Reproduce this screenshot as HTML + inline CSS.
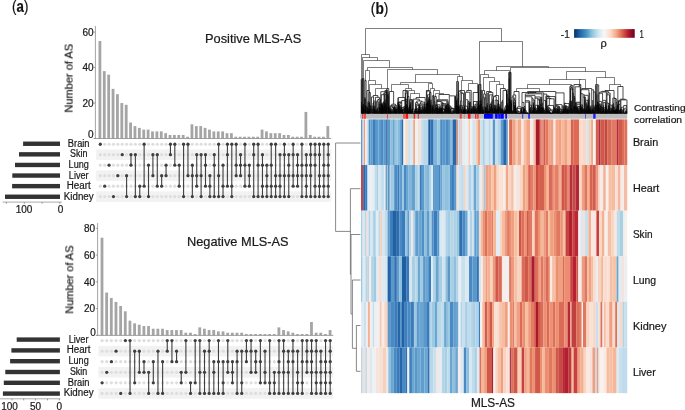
<!DOCTYPE html>
<html><head><meta charset="utf-8"><style>
html,body{margin:0;padding:0;background:#fff;}
svg{display:block;font-family:"Liberation Sans", sans-serif;}
text{will-change:transform;stroke:#1a1a1a;stroke-width:0.22px;}
</style></head><body>
<svg width="685" height="410" viewBox="0 0 685 410" font-family='"Liberation Sans", sans-serif'>
<rect width="685" height="410" fill="#fff"/>
<rect x="96.20" y="149.48" width="235.10" height="10.47" fill="#f2f2f2"/>
<rect x="96.20" y="170.42" width="235.10" height="10.47" fill="#f2f2f2"/>
<rect x="96.20" y="191.36" width="235.10" height="10.47" fill="#f2f2f2"/>
<rect x="98.50" y="40.98" width="2.80" height="97.52" fill="#a5a5a5"/>
<rect x="102.88" y="71.13" width="2.80" height="67.37" fill="#a5a5a5"/>
<rect x="107.27" y="74.67" width="2.80" height="63.83" fill="#a5a5a5"/>
<rect x="111.65" y="88.86" width="2.80" height="49.64" fill="#a5a5a5"/>
<rect x="116.03" y="94.18" width="2.80" height="44.32" fill="#a5a5a5"/>
<rect x="120.41" y="103.04" width="2.80" height="35.46" fill="#a5a5a5"/>
<rect x="124.80" y="104.81" width="2.80" height="33.69" fill="#a5a5a5"/>
<rect x="129.18" y="122.54" width="2.80" height="15.96" fill="#a5a5a5"/>
<rect x="133.56" y="126.09" width="2.80" height="12.41" fill="#a5a5a5"/>
<rect x="137.95" y="127.86" width="2.80" height="10.64" fill="#a5a5a5"/>
<rect x="142.33" y="129.63" width="2.80" height="8.87" fill="#a5a5a5"/>
<rect x="146.71" y="129.63" width="2.80" height="8.87" fill="#a5a5a5"/>
<rect x="151.10" y="131.41" width="2.80" height="7.09" fill="#a5a5a5"/>
<rect x="155.48" y="131.41" width="2.80" height="7.09" fill="#a5a5a5"/>
<rect x="159.86" y="131.41" width="2.80" height="7.09" fill="#a5a5a5"/>
<rect x="164.25" y="133.18" width="2.80" height="5.32" fill="#a5a5a5"/>
<rect x="168.63" y="134.95" width="2.80" height="3.55" fill="#a5a5a5"/>
<rect x="173.01" y="134.95" width="2.80" height="3.55" fill="#a5a5a5"/>
<rect x="177.39" y="134.95" width="2.80" height="3.55" fill="#a5a5a5"/>
<rect x="181.78" y="134.95" width="2.80" height="3.55" fill="#a5a5a5"/>
<rect x="186.16" y="136.73" width="2.80" height="1.77" fill="#a5a5a5"/>
<rect x="190.54" y="124.32" width="2.80" height="14.18" fill="#a5a5a5"/>
<rect x="194.93" y="126.09" width="2.80" height="12.41" fill="#a5a5a5"/>
<rect x="199.31" y="126.09" width="2.80" height="12.41" fill="#a5a5a5"/>
<rect x="203.69" y="127.86" width="2.80" height="10.64" fill="#a5a5a5"/>
<rect x="208.07" y="129.63" width="2.80" height="8.87" fill="#a5a5a5"/>
<rect x="212.46" y="131.41" width="2.80" height="7.09" fill="#a5a5a5"/>
<rect x="216.84" y="131.41" width="2.80" height="7.09" fill="#a5a5a5"/>
<rect x="221.22" y="131.41" width="2.80" height="7.09" fill="#a5a5a5"/>
<rect x="225.61" y="133.18" width="2.80" height="5.32" fill="#a5a5a5"/>
<rect x="229.99" y="133.18" width="2.80" height="5.32" fill="#a5a5a5"/>
<rect x="234.37" y="136.73" width="2.80" height="1.77" fill="#a5a5a5"/>
<rect x="238.76" y="136.73" width="2.80" height="1.77" fill="#a5a5a5"/>
<rect x="243.14" y="136.73" width="2.80" height="1.77" fill="#a5a5a5"/>
<rect x="247.52" y="136.73" width="2.80" height="1.77" fill="#a5a5a5"/>
<rect x="251.90" y="136.73" width="2.80" height="1.77" fill="#a5a5a5"/>
<rect x="256.29" y="136.73" width="2.80" height="1.77" fill="#a5a5a5"/>
<rect x="260.67" y="129.63" width="2.80" height="8.87" fill="#a5a5a5"/>
<rect x="265.05" y="131.41" width="2.80" height="7.09" fill="#a5a5a5"/>
<rect x="269.44" y="133.18" width="2.80" height="5.32" fill="#a5a5a5"/>
<rect x="273.82" y="133.18" width="2.80" height="5.32" fill="#a5a5a5"/>
<rect x="278.20" y="133.18" width="2.80" height="5.32" fill="#a5a5a5"/>
<rect x="282.59" y="134.95" width="2.80" height="3.55" fill="#a5a5a5"/>
<rect x="286.97" y="134.95" width="2.80" height="3.55" fill="#a5a5a5"/>
<rect x="291.35" y="136.73" width="2.80" height="1.77" fill="#a5a5a5"/>
<rect x="295.74" y="136.73" width="2.80" height="1.77" fill="#a5a5a5"/>
<rect x="300.12" y="136.73" width="2.80" height="1.77" fill="#a5a5a5"/>
<rect x="304.50" y="111.91" width="2.80" height="26.59" fill="#a5a5a5"/>
<rect x="308.88" y="134.95" width="2.80" height="3.55" fill="#a5a5a5"/>
<rect x="313.27" y="136.73" width="2.80" height="1.77" fill="#a5a5a5"/>
<rect x="317.65" y="136.73" width="2.80" height="1.77" fill="#a5a5a5"/>
<rect x="322.03" y="136.73" width="2.80" height="1.77" fill="#a5a5a5"/>
<rect x="326.42" y="126.09" width="2.80" height="12.41" fill="#a5a5a5"/>
<line x1="95.40" y1="26.00" x2="95.40" y2="139.00" stroke="#8c8c8c" stroke-width="0.8"/>
<line x1="94.40" y1="138.50" x2="331.30" y2="138.50" stroke="#8c8c8c" stroke-width="0.8"/>
<line x1="93.60" y1="138.50" x2="95.40" y2="138.50" stroke="#8c8c8c" stroke-width="0.8"/>
<line x1="93.60" y1="103.04" x2="95.40" y2="103.04" stroke="#8c8c8c" stroke-width="0.8"/>
<line x1="93.60" y1="67.58" x2="95.40" y2="67.58" stroke="#8c8c8c" stroke-width="0.8"/>
<line x1="93.60" y1="32.12" x2="95.40" y2="32.12" stroke="#8c8c8c" stroke-width="0.8"/>
<text x="93.60" y="35.70" font-size="10" text-anchor="end" fill="#1a1a1a">60</text>
<text x="93.60" y="71.20" font-size="10" text-anchor="end" fill="#1a1a1a">40</text>
<text x="93.60" y="106.60" font-size="10" text-anchor="end" fill="#1a1a1a">20</text>
<text x="93.60" y="137.80" font-size="10" text-anchor="end" fill="#1a1a1a">0</text>
<circle cx="100.30" cy="154.72" r="1.6" fill="#dedede"/>
<circle cx="100.30" cy="165.19" r="1.6" fill="#dedede"/>
<circle cx="100.30" cy="175.66" r="1.6" fill="#dedede"/>
<circle cx="100.30" cy="186.13" r="1.6" fill="#dedede"/>
<circle cx="100.30" cy="196.60" r="1.6" fill="#dedede"/>
<circle cx="104.68" cy="144.25" r="1.6" fill="#dedede"/>
<circle cx="104.68" cy="154.72" r="1.6" fill="#dedede"/>
<circle cx="104.68" cy="165.19" r="1.6" fill="#dedede"/>
<circle cx="104.68" cy="175.66" r="1.6" fill="#dedede"/>
<circle cx="104.68" cy="196.60" r="1.6" fill="#dedede"/>
<circle cx="109.07" cy="144.25" r="1.6" fill="#dedede"/>
<circle cx="109.07" cy="154.72" r="1.6" fill="#dedede"/>
<circle cx="109.07" cy="175.66" r="1.6" fill="#dedede"/>
<circle cx="109.07" cy="186.13" r="1.6" fill="#dedede"/>
<circle cx="109.07" cy="196.60" r="1.6" fill="#dedede"/>
<circle cx="113.45" cy="144.25" r="1.6" fill="#dedede"/>
<circle cx="113.45" cy="154.72" r="1.6" fill="#dedede"/>
<circle cx="113.45" cy="165.19" r="1.6" fill="#dedede"/>
<circle cx="113.45" cy="175.66" r="1.6" fill="#dedede"/>
<circle cx="113.45" cy="186.13" r="1.6" fill="#dedede"/>
<circle cx="117.83" cy="144.25" r="1.6" fill="#dedede"/>
<circle cx="117.83" cy="154.72" r="1.6" fill="#dedede"/>
<circle cx="117.83" cy="165.19" r="1.6" fill="#dedede"/>
<circle cx="117.83" cy="186.13" r="1.6" fill="#dedede"/>
<circle cx="117.83" cy="196.60" r="1.6" fill="#dedede"/>
<circle cx="122.22" cy="144.25" r="1.6" fill="#dedede"/>
<circle cx="122.22" cy="165.19" r="1.6" fill="#dedede"/>
<circle cx="122.22" cy="175.66" r="1.6" fill="#dedede"/>
<circle cx="122.22" cy="186.13" r="1.6" fill="#dedede"/>
<circle cx="122.22" cy="196.60" r="1.6" fill="#dedede"/>
<circle cx="126.60" cy="144.25" r="1.6" fill="#dedede"/>
<circle cx="126.60" cy="154.72" r="1.6" fill="#dedede"/>
<circle cx="126.60" cy="165.19" r="1.6" fill="#dedede"/>
<circle cx="126.60" cy="186.13" r="1.6" fill="#dedede"/>
<circle cx="130.98" cy="144.25" r="1.6" fill="#dedede"/>
<circle cx="130.98" cy="175.66" r="1.6" fill="#dedede"/>
<circle cx="130.98" cy="186.13" r="1.6" fill="#dedede"/>
<circle cx="130.98" cy="196.60" r="1.6" fill="#dedede"/>
<circle cx="135.36" cy="144.25" r="1.6" fill="#dedede"/>
<circle cx="135.36" cy="165.19" r="1.6" fill="#dedede"/>
<circle cx="135.36" cy="175.66" r="1.6" fill="#dedede"/>
<circle cx="135.36" cy="186.13" r="1.6" fill="#dedede"/>
<circle cx="139.75" cy="144.25" r="1.6" fill="#dedede"/>
<circle cx="139.75" cy="154.72" r="1.6" fill="#dedede"/>
<circle cx="139.75" cy="165.19" r="1.6" fill="#dedede"/>
<circle cx="139.75" cy="175.66" r="1.6" fill="#dedede"/>
<circle cx="144.13" cy="154.72" r="1.6" fill="#dedede"/>
<circle cx="144.13" cy="165.19" r="1.6" fill="#dedede"/>
<circle cx="144.13" cy="175.66" r="1.6" fill="#dedede"/>
<circle cx="144.13" cy="196.60" r="1.6" fill="#dedede"/>
<circle cx="148.51" cy="144.25" r="1.6" fill="#dedede"/>
<circle cx="148.51" cy="154.72" r="1.6" fill="#dedede"/>
<circle cx="148.51" cy="175.66" r="1.6" fill="#dedede"/>
<circle cx="148.51" cy="186.13" r="1.6" fill="#dedede"/>
<circle cx="152.90" cy="144.25" r="1.6" fill="#dedede"/>
<circle cx="152.90" cy="165.19" r="1.6" fill="#dedede"/>
<circle cx="152.90" cy="186.13" r="1.6" fill="#dedede"/>
<circle cx="152.90" cy="196.60" r="1.6" fill="#dedede"/>
<circle cx="157.28" cy="144.25" r="1.6" fill="#dedede"/>
<circle cx="157.28" cy="165.19" r="1.6" fill="#dedede"/>
<circle cx="157.28" cy="175.66" r="1.6" fill="#dedede"/>
<circle cx="157.28" cy="196.60" r="1.6" fill="#dedede"/>
<circle cx="161.66" cy="144.25" r="1.6" fill="#dedede"/>
<circle cx="161.66" cy="154.72" r="1.6" fill="#dedede"/>
<circle cx="161.66" cy="165.19" r="1.6" fill="#dedede"/>
<circle cx="161.66" cy="196.60" r="1.6" fill="#dedede"/>
<circle cx="166.05" cy="144.25" r="1.6" fill="#dedede"/>
<circle cx="166.05" cy="154.72" r="1.6" fill="#dedede"/>
<circle cx="166.05" cy="186.13" r="1.6" fill="#dedede"/>
<circle cx="166.05" cy="196.60" r="1.6" fill="#dedede"/>
<circle cx="170.43" cy="165.19" r="1.6" fill="#dedede"/>
<circle cx="170.43" cy="175.66" r="1.6" fill="#dedede"/>
<circle cx="170.43" cy="186.13" r="1.6" fill="#dedede"/>
<circle cx="170.43" cy="196.60" r="1.6" fill="#dedede"/>
<circle cx="174.81" cy="154.72" r="1.6" fill="#dedede"/>
<circle cx="174.81" cy="175.66" r="1.6" fill="#dedede"/>
<circle cx="174.81" cy="186.13" r="1.6" fill="#dedede"/>
<circle cx="174.81" cy="196.60" r="1.6" fill="#dedede"/>
<circle cx="179.19" cy="144.25" r="1.6" fill="#dedede"/>
<circle cx="179.19" cy="154.72" r="1.6" fill="#dedede"/>
<circle cx="179.19" cy="175.66" r="1.6" fill="#dedede"/>
<circle cx="179.19" cy="196.60" r="1.6" fill="#dedede"/>
<circle cx="183.58" cy="154.72" r="1.6" fill="#dedede"/>
<circle cx="183.58" cy="165.19" r="1.6" fill="#dedede"/>
<circle cx="183.58" cy="175.66" r="1.6" fill="#dedede"/>
<circle cx="183.58" cy="186.13" r="1.6" fill="#dedede"/>
<circle cx="187.96" cy="154.72" r="1.6" fill="#dedede"/>
<circle cx="187.96" cy="165.19" r="1.6" fill="#dedede"/>
<circle cx="187.96" cy="186.13" r="1.6" fill="#dedede"/>
<circle cx="187.96" cy="196.60" r="1.6" fill="#dedede"/>
<circle cx="192.34" cy="144.25" r="1.6" fill="#dedede"/>
<circle cx="192.34" cy="154.72" r="1.6" fill="#dedede"/>
<circle cx="192.34" cy="186.13" r="1.6" fill="#dedede"/>
<circle cx="196.73" cy="144.25" r="1.6" fill="#dedede"/>
<circle cx="196.73" cy="165.19" r="1.6" fill="#dedede"/>
<circle cx="196.73" cy="196.60" r="1.6" fill="#dedede"/>
<circle cx="201.11" cy="144.25" r="1.6" fill="#dedede"/>
<circle cx="201.11" cy="165.19" r="1.6" fill="#dedede"/>
<circle cx="201.11" cy="186.13" r="1.6" fill="#dedede"/>
<circle cx="205.49" cy="144.25" r="1.6" fill="#dedede"/>
<circle cx="205.49" cy="175.66" r="1.6" fill="#dedede"/>
<circle cx="205.49" cy="196.60" r="1.6" fill="#dedede"/>
<circle cx="209.88" cy="144.25" r="1.6" fill="#dedede"/>
<circle cx="209.88" cy="154.72" r="1.6" fill="#dedede"/>
<circle cx="209.88" cy="165.19" r="1.6" fill="#dedede"/>
<circle cx="214.26" cy="144.25" r="1.6" fill="#dedede"/>
<circle cx="214.26" cy="175.66" r="1.6" fill="#dedede"/>
<circle cx="214.26" cy="186.13" r="1.6" fill="#dedede"/>
<circle cx="218.64" cy="154.72" r="1.6" fill="#dedede"/>
<circle cx="218.64" cy="165.19" r="1.6" fill="#dedede"/>
<circle cx="218.64" cy="186.13" r="1.6" fill="#dedede"/>
<circle cx="223.02" cy="144.25" r="1.6" fill="#dedede"/>
<circle cx="223.02" cy="154.72" r="1.6" fill="#dedede"/>
<circle cx="223.02" cy="175.66" r="1.6" fill="#dedede"/>
<circle cx="227.41" cy="165.19" r="1.6" fill="#dedede"/>
<circle cx="227.41" cy="175.66" r="1.6" fill="#dedede"/>
<circle cx="227.41" cy="196.60" r="1.6" fill="#dedede"/>
<circle cx="231.79" cy="154.72" r="1.6" fill="#dedede"/>
<circle cx="231.79" cy="165.19" r="1.6" fill="#dedede"/>
<circle cx="231.79" cy="175.66" r="1.6" fill="#dedede"/>
<circle cx="236.17" cy="154.72" r="1.6" fill="#dedede"/>
<circle cx="236.17" cy="186.13" r="1.6" fill="#dedede"/>
<circle cx="236.17" cy="196.60" r="1.6" fill="#dedede"/>
<circle cx="240.56" cy="144.25" r="1.6" fill="#dedede"/>
<circle cx="240.56" cy="186.13" r="1.6" fill="#dedede"/>
<circle cx="240.56" cy="196.60" r="1.6" fill="#dedede"/>
<circle cx="244.94" cy="154.72" r="1.6" fill="#dedede"/>
<circle cx="244.94" cy="175.66" r="1.6" fill="#dedede"/>
<circle cx="244.94" cy="196.60" r="1.6" fill="#dedede"/>
<circle cx="249.32" cy="144.25" r="1.6" fill="#dedede"/>
<circle cx="249.32" cy="154.72" r="1.6" fill="#dedede"/>
<circle cx="249.32" cy="196.60" r="1.6" fill="#dedede"/>
<circle cx="253.70" cy="165.19" r="1.6" fill="#dedede"/>
<circle cx="253.70" cy="175.66" r="1.6" fill="#dedede"/>
<circle cx="253.70" cy="186.13" r="1.6" fill="#dedede"/>
<circle cx="258.09" cy="154.72" r="1.6" fill="#dedede"/>
<circle cx="258.09" cy="175.66" r="1.6" fill="#dedede"/>
<circle cx="258.09" cy="186.13" r="1.6" fill="#dedede"/>
<circle cx="262.47" cy="144.25" r="1.6" fill="#dedede"/>
<circle cx="262.47" cy="175.66" r="1.6" fill="#dedede"/>
<circle cx="266.85" cy="144.25" r="1.6" fill="#dedede"/>
<circle cx="266.85" cy="154.72" r="1.6" fill="#dedede"/>
<circle cx="271.24" cy="154.72" r="1.6" fill="#dedede"/>
<circle cx="271.24" cy="175.66" r="1.6" fill="#dedede"/>
<circle cx="275.62" cy="154.72" r="1.6" fill="#dedede"/>
<circle cx="275.62" cy="165.19" r="1.6" fill="#dedede"/>
<circle cx="280.00" cy="144.25" r="1.6" fill="#dedede"/>
<circle cx="280.00" cy="165.19" r="1.6" fill="#dedede"/>
<circle cx="284.39" cy="165.19" r="1.6" fill="#dedede"/>
<circle cx="284.39" cy="186.13" r="1.6" fill="#dedede"/>
<circle cx="288.77" cy="144.25" r="1.6" fill="#dedede"/>
<circle cx="288.77" cy="186.13" r="1.6" fill="#dedede"/>
<circle cx="293.15" cy="165.19" r="1.6" fill="#dedede"/>
<circle cx="293.15" cy="196.60" r="1.6" fill="#dedede"/>
<circle cx="297.54" cy="144.25" r="1.6" fill="#dedede"/>
<circle cx="297.54" cy="196.60" r="1.6" fill="#dedede"/>
<circle cx="301.92" cy="154.72" r="1.6" fill="#dedede"/>
<circle cx="301.92" cy="186.13" r="1.6" fill="#dedede"/>
<circle cx="306.30" cy="144.25" r="1.6" fill="#dedede"/>
<circle cx="310.68" cy="186.13" r="1.6" fill="#dedede"/>
<circle cx="315.07" cy="175.66" r="1.6" fill="#dedede"/>
<circle cx="319.45" cy="165.19" r="1.6" fill="#dedede"/>
<circle cx="323.83" cy="154.72" r="1.6" fill="#dedede"/>
<circle cx="100.30" cy="144.25" r="1.65" fill="#3f3f3f"/>
<circle cx="104.68" cy="186.13" r="1.65" fill="#3f3f3f"/>
<circle cx="109.07" cy="165.19" r="1.65" fill="#3f3f3f"/>
<circle cx="113.45" cy="196.60" r="1.65" fill="#3f3f3f"/>
<circle cx="117.83" cy="175.66" r="1.65" fill="#3f3f3f"/>
<circle cx="122.22" cy="154.72" r="1.65" fill="#3f3f3f"/>
<line x1="126.60" y1="175.66" x2="126.60" y2="196.60" stroke="#3f3f3f" stroke-width="1.1"/>
<circle cx="126.60" cy="175.66" r="1.65" fill="#3f3f3f"/>
<circle cx="126.60" cy="196.60" r="1.65" fill="#3f3f3f"/>
<line x1="130.98" y1="154.72" x2="130.98" y2="165.19" stroke="#3f3f3f" stroke-width="1.1"/>
<circle cx="130.98" cy="154.72" r="1.65" fill="#3f3f3f"/>
<circle cx="130.98" cy="165.19" r="1.65" fill="#3f3f3f"/>
<line x1="135.36" y1="154.72" x2="135.36" y2="196.60" stroke="#3f3f3f" stroke-width="1.1"/>
<circle cx="135.36" cy="154.72" r="1.65" fill="#3f3f3f"/>
<circle cx="135.36" cy="196.60" r="1.65" fill="#3f3f3f"/>
<line x1="139.75" y1="186.13" x2="139.75" y2="196.60" stroke="#3f3f3f" stroke-width="1.1"/>
<circle cx="139.75" cy="186.13" r="1.65" fill="#3f3f3f"/>
<circle cx="139.75" cy="196.60" r="1.65" fill="#3f3f3f"/>
<line x1="144.13" y1="144.25" x2="144.13" y2="186.13" stroke="#3f3f3f" stroke-width="1.1"/>
<circle cx="144.13" cy="144.25" r="1.65" fill="#3f3f3f"/>
<circle cx="144.13" cy="186.13" r="1.65" fill="#3f3f3f"/>
<line x1="148.51" y1="165.19" x2="148.51" y2="196.60" stroke="#3f3f3f" stroke-width="1.1"/>
<circle cx="148.51" cy="165.19" r="1.65" fill="#3f3f3f"/>
<circle cx="148.51" cy="196.60" r="1.65" fill="#3f3f3f"/>
<line x1="152.90" y1="154.72" x2="152.90" y2="175.66" stroke="#3f3f3f" stroke-width="1.1"/>
<circle cx="152.90" cy="154.72" r="1.65" fill="#3f3f3f"/>
<circle cx="152.90" cy="175.66" r="1.65" fill="#3f3f3f"/>
<line x1="157.28" y1="154.72" x2="157.28" y2="186.13" stroke="#3f3f3f" stroke-width="1.1"/>
<circle cx="157.28" cy="154.72" r="1.65" fill="#3f3f3f"/>
<circle cx="157.28" cy="186.13" r="1.65" fill="#3f3f3f"/>
<line x1="161.66" y1="175.66" x2="161.66" y2="186.13" stroke="#3f3f3f" stroke-width="1.1"/>
<circle cx="161.66" cy="175.66" r="1.65" fill="#3f3f3f"/>
<circle cx="161.66" cy="186.13" r="1.65" fill="#3f3f3f"/>
<line x1="166.05" y1="165.19" x2="166.05" y2="175.66" stroke="#3f3f3f" stroke-width="1.1"/>
<circle cx="166.05" cy="165.19" r="1.65" fill="#3f3f3f"/>
<circle cx="166.05" cy="175.66" r="1.65" fill="#3f3f3f"/>
<line x1="170.43" y1="144.25" x2="170.43" y2="154.72" stroke="#3f3f3f" stroke-width="1.1"/>
<circle cx="170.43" cy="144.25" r="1.65" fill="#3f3f3f"/>
<circle cx="170.43" cy="154.72" r="1.65" fill="#3f3f3f"/>
<line x1="174.81" y1="144.25" x2="174.81" y2="165.19" stroke="#3f3f3f" stroke-width="1.1"/>
<circle cx="174.81" cy="144.25" r="1.65" fill="#3f3f3f"/>
<circle cx="174.81" cy="165.19" r="1.65" fill="#3f3f3f"/>
<line x1="179.19" y1="165.19" x2="179.19" y2="186.13" stroke="#3f3f3f" stroke-width="1.1"/>
<circle cx="179.19" cy="165.19" r="1.65" fill="#3f3f3f"/>
<circle cx="179.19" cy="186.13" r="1.65" fill="#3f3f3f"/>
<line x1="183.58" y1="144.25" x2="183.58" y2="196.60" stroke="#3f3f3f" stroke-width="1.1"/>
<circle cx="183.58" cy="144.25" r="1.65" fill="#3f3f3f"/>
<circle cx="183.58" cy="196.60" r="1.65" fill="#3f3f3f"/>
<line x1="187.96" y1="144.25" x2="187.96" y2="175.66" stroke="#3f3f3f" stroke-width="1.1"/>
<circle cx="187.96" cy="144.25" r="1.65" fill="#3f3f3f"/>
<circle cx="187.96" cy="175.66" r="1.65" fill="#3f3f3f"/>
<line x1="192.34" y1="165.19" x2="192.34" y2="196.60" stroke="#3f3f3f" stroke-width="1.1"/>
<circle cx="192.34" cy="165.19" r="1.65" fill="#3f3f3f"/>
<circle cx="192.34" cy="175.66" r="1.65" fill="#3f3f3f"/>
<circle cx="192.34" cy="196.60" r="1.65" fill="#3f3f3f"/>
<line x1="196.73" y1="154.72" x2="196.73" y2="186.13" stroke="#3f3f3f" stroke-width="1.1"/>
<circle cx="196.73" cy="154.72" r="1.65" fill="#3f3f3f"/>
<circle cx="196.73" cy="175.66" r="1.65" fill="#3f3f3f"/>
<circle cx="196.73" cy="186.13" r="1.65" fill="#3f3f3f"/>
<line x1="201.11" y1="154.72" x2="201.11" y2="196.60" stroke="#3f3f3f" stroke-width="1.1"/>
<circle cx="201.11" cy="154.72" r="1.65" fill="#3f3f3f"/>
<circle cx="201.11" cy="175.66" r="1.65" fill="#3f3f3f"/>
<circle cx="201.11" cy="196.60" r="1.65" fill="#3f3f3f"/>
<line x1="205.49" y1="154.72" x2="205.49" y2="186.13" stroke="#3f3f3f" stroke-width="1.1"/>
<circle cx="205.49" cy="154.72" r="1.65" fill="#3f3f3f"/>
<circle cx="205.49" cy="165.19" r="1.65" fill="#3f3f3f"/>
<circle cx="205.49" cy="186.13" r="1.65" fill="#3f3f3f"/>
<line x1="209.88" y1="175.66" x2="209.88" y2="196.60" stroke="#3f3f3f" stroke-width="1.1"/>
<circle cx="209.88" cy="175.66" r="1.65" fill="#3f3f3f"/>
<circle cx="209.88" cy="186.13" r="1.65" fill="#3f3f3f"/>
<circle cx="209.88" cy="196.60" r="1.65" fill="#3f3f3f"/>
<line x1="214.26" y1="154.72" x2="214.26" y2="196.60" stroke="#3f3f3f" stroke-width="1.1"/>
<circle cx="214.26" cy="154.72" r="1.65" fill="#3f3f3f"/>
<circle cx="214.26" cy="165.19" r="1.65" fill="#3f3f3f"/>
<circle cx="214.26" cy="196.60" r="1.65" fill="#3f3f3f"/>
<line x1="218.64" y1="144.25" x2="218.64" y2="196.60" stroke="#3f3f3f" stroke-width="1.1"/>
<circle cx="218.64" cy="144.25" r="1.65" fill="#3f3f3f"/>
<circle cx="218.64" cy="175.66" r="1.65" fill="#3f3f3f"/>
<circle cx="218.64" cy="196.60" r="1.65" fill="#3f3f3f"/>
<line x1="223.02" y1="165.19" x2="223.02" y2="196.60" stroke="#3f3f3f" stroke-width="1.1"/>
<circle cx="223.02" cy="165.19" r="1.65" fill="#3f3f3f"/>
<circle cx="223.02" cy="186.13" r="1.65" fill="#3f3f3f"/>
<circle cx="223.02" cy="196.60" r="1.65" fill="#3f3f3f"/>
<line x1="227.41" y1="144.25" x2="227.41" y2="186.13" stroke="#3f3f3f" stroke-width="1.1"/>
<circle cx="227.41" cy="144.25" r="1.65" fill="#3f3f3f"/>
<circle cx="227.41" cy="154.72" r="1.65" fill="#3f3f3f"/>
<circle cx="227.41" cy="186.13" r="1.65" fill="#3f3f3f"/>
<line x1="231.79" y1="144.25" x2="231.79" y2="196.60" stroke="#3f3f3f" stroke-width="1.1"/>
<circle cx="231.79" cy="144.25" r="1.65" fill="#3f3f3f"/>
<circle cx="231.79" cy="186.13" r="1.65" fill="#3f3f3f"/>
<circle cx="231.79" cy="196.60" r="1.65" fill="#3f3f3f"/>
<line x1="236.17" y1="144.25" x2="236.17" y2="175.66" stroke="#3f3f3f" stroke-width="1.1"/>
<circle cx="236.17" cy="144.25" r="1.65" fill="#3f3f3f"/>
<circle cx="236.17" cy="165.19" r="1.65" fill="#3f3f3f"/>
<circle cx="236.17" cy="175.66" r="1.65" fill="#3f3f3f"/>
<line x1="240.56" y1="154.72" x2="240.56" y2="175.66" stroke="#3f3f3f" stroke-width="1.1"/>
<circle cx="240.56" cy="154.72" r="1.65" fill="#3f3f3f"/>
<circle cx="240.56" cy="165.19" r="1.65" fill="#3f3f3f"/>
<circle cx="240.56" cy="175.66" r="1.65" fill="#3f3f3f"/>
<line x1="244.94" y1="144.25" x2="244.94" y2="186.13" stroke="#3f3f3f" stroke-width="1.1"/>
<circle cx="244.94" cy="144.25" r="1.65" fill="#3f3f3f"/>
<circle cx="244.94" cy="165.19" r="1.65" fill="#3f3f3f"/>
<circle cx="244.94" cy="186.13" r="1.65" fill="#3f3f3f"/>
<line x1="249.32" y1="165.19" x2="249.32" y2="186.13" stroke="#3f3f3f" stroke-width="1.1"/>
<circle cx="249.32" cy="165.19" r="1.65" fill="#3f3f3f"/>
<circle cx="249.32" cy="175.66" r="1.65" fill="#3f3f3f"/>
<circle cx="249.32" cy="186.13" r="1.65" fill="#3f3f3f"/>
<line x1="253.70" y1="144.25" x2="253.70" y2="196.60" stroke="#3f3f3f" stroke-width="1.1"/>
<circle cx="253.70" cy="144.25" r="1.65" fill="#3f3f3f"/>
<circle cx="253.70" cy="154.72" r="1.65" fill="#3f3f3f"/>
<circle cx="253.70" cy="196.60" r="1.65" fill="#3f3f3f"/>
<line x1="258.09" y1="144.25" x2="258.09" y2="196.60" stroke="#3f3f3f" stroke-width="1.1"/>
<circle cx="258.09" cy="144.25" r="1.65" fill="#3f3f3f"/>
<circle cx="258.09" cy="165.19" r="1.65" fill="#3f3f3f"/>
<circle cx="258.09" cy="196.60" r="1.65" fill="#3f3f3f"/>
<line x1="262.47" y1="154.72" x2="262.47" y2="196.60" stroke="#3f3f3f" stroke-width="1.1"/>
<circle cx="262.47" cy="154.72" r="1.65" fill="#3f3f3f"/>
<circle cx="262.47" cy="165.19" r="1.65" fill="#3f3f3f"/>
<circle cx="262.47" cy="186.13" r="1.65" fill="#3f3f3f"/>
<circle cx="262.47" cy="196.60" r="1.65" fill="#3f3f3f"/>
<line x1="266.85" y1="165.19" x2="266.85" y2="196.60" stroke="#3f3f3f" stroke-width="1.1"/>
<circle cx="266.85" cy="165.19" r="1.65" fill="#3f3f3f"/>
<circle cx="266.85" cy="175.66" r="1.65" fill="#3f3f3f"/>
<circle cx="266.85" cy="186.13" r="1.65" fill="#3f3f3f"/>
<circle cx="266.85" cy="196.60" r="1.65" fill="#3f3f3f"/>
<line x1="271.24" y1="144.25" x2="271.24" y2="196.60" stroke="#3f3f3f" stroke-width="1.1"/>
<circle cx="271.24" cy="144.25" r="1.65" fill="#3f3f3f"/>
<circle cx="271.24" cy="165.19" r="1.65" fill="#3f3f3f"/>
<circle cx="271.24" cy="186.13" r="1.65" fill="#3f3f3f"/>
<circle cx="271.24" cy="196.60" r="1.65" fill="#3f3f3f"/>
<line x1="275.62" y1="144.25" x2="275.62" y2="196.60" stroke="#3f3f3f" stroke-width="1.1"/>
<circle cx="275.62" cy="144.25" r="1.65" fill="#3f3f3f"/>
<circle cx="275.62" cy="175.66" r="1.65" fill="#3f3f3f"/>
<circle cx="275.62" cy="186.13" r="1.65" fill="#3f3f3f"/>
<circle cx="275.62" cy="196.60" r="1.65" fill="#3f3f3f"/>
<line x1="280.00" y1="154.72" x2="280.00" y2="196.60" stroke="#3f3f3f" stroke-width="1.1"/>
<circle cx="280.00" cy="154.72" r="1.65" fill="#3f3f3f"/>
<circle cx="280.00" cy="175.66" r="1.65" fill="#3f3f3f"/>
<circle cx="280.00" cy="186.13" r="1.65" fill="#3f3f3f"/>
<circle cx="280.00" cy="196.60" r="1.65" fill="#3f3f3f"/>
<line x1="284.39" y1="144.25" x2="284.39" y2="196.60" stroke="#3f3f3f" stroke-width="1.1"/>
<circle cx="284.39" cy="144.25" r="1.65" fill="#3f3f3f"/>
<circle cx="284.39" cy="154.72" r="1.65" fill="#3f3f3f"/>
<circle cx="284.39" cy="175.66" r="1.65" fill="#3f3f3f"/>
<circle cx="284.39" cy="196.60" r="1.65" fill="#3f3f3f"/>
<line x1="288.77" y1="154.72" x2="288.77" y2="196.60" stroke="#3f3f3f" stroke-width="1.1"/>
<circle cx="288.77" cy="154.72" r="1.65" fill="#3f3f3f"/>
<circle cx="288.77" cy="165.19" r="1.65" fill="#3f3f3f"/>
<circle cx="288.77" cy="175.66" r="1.65" fill="#3f3f3f"/>
<circle cx="288.77" cy="196.60" r="1.65" fill="#3f3f3f"/>
<line x1="293.15" y1="144.25" x2="293.15" y2="186.13" stroke="#3f3f3f" stroke-width="1.1"/>
<circle cx="293.15" cy="144.25" r="1.65" fill="#3f3f3f"/>
<circle cx="293.15" cy="154.72" r="1.65" fill="#3f3f3f"/>
<circle cx="293.15" cy="175.66" r="1.65" fill="#3f3f3f"/>
<circle cx="293.15" cy="186.13" r="1.65" fill="#3f3f3f"/>
<line x1="297.54" y1="154.72" x2="297.54" y2="186.13" stroke="#3f3f3f" stroke-width="1.1"/>
<circle cx="297.54" cy="154.72" r="1.65" fill="#3f3f3f"/>
<circle cx="297.54" cy="165.19" r="1.65" fill="#3f3f3f"/>
<circle cx="297.54" cy="175.66" r="1.65" fill="#3f3f3f"/>
<circle cx="297.54" cy="186.13" r="1.65" fill="#3f3f3f"/>
<line x1="301.92" y1="144.25" x2="301.92" y2="196.60" stroke="#3f3f3f" stroke-width="1.1"/>
<circle cx="301.92" cy="144.25" r="1.65" fill="#3f3f3f"/>
<circle cx="301.92" cy="165.19" r="1.65" fill="#3f3f3f"/>
<circle cx="301.92" cy="175.66" r="1.65" fill="#3f3f3f"/>
<circle cx="301.92" cy="196.60" r="1.65" fill="#3f3f3f"/>
<line x1="306.30" y1="154.72" x2="306.30" y2="196.60" stroke="#3f3f3f" stroke-width="1.1"/>
<circle cx="306.30" cy="154.72" r="1.65" fill="#3f3f3f"/>
<circle cx="306.30" cy="165.19" r="1.65" fill="#3f3f3f"/>
<circle cx="306.30" cy="175.66" r="1.65" fill="#3f3f3f"/>
<circle cx="306.30" cy="186.13" r="1.65" fill="#3f3f3f"/>
<circle cx="306.30" cy="196.60" r="1.65" fill="#3f3f3f"/>
<line x1="310.68" y1="144.25" x2="310.68" y2="196.60" stroke="#3f3f3f" stroke-width="1.1"/>
<circle cx="310.68" cy="144.25" r="1.65" fill="#3f3f3f"/>
<circle cx="310.68" cy="154.72" r="1.65" fill="#3f3f3f"/>
<circle cx="310.68" cy="165.19" r="1.65" fill="#3f3f3f"/>
<circle cx="310.68" cy="175.66" r="1.65" fill="#3f3f3f"/>
<circle cx="310.68" cy="196.60" r="1.65" fill="#3f3f3f"/>
<line x1="315.07" y1="144.25" x2="315.07" y2="196.60" stroke="#3f3f3f" stroke-width="1.1"/>
<circle cx="315.07" cy="144.25" r="1.65" fill="#3f3f3f"/>
<circle cx="315.07" cy="154.72" r="1.65" fill="#3f3f3f"/>
<circle cx="315.07" cy="165.19" r="1.65" fill="#3f3f3f"/>
<circle cx="315.07" cy="186.13" r="1.65" fill="#3f3f3f"/>
<circle cx="315.07" cy="196.60" r="1.65" fill="#3f3f3f"/>
<line x1="319.45" y1="144.25" x2="319.45" y2="196.60" stroke="#3f3f3f" stroke-width="1.1"/>
<circle cx="319.45" cy="144.25" r="1.65" fill="#3f3f3f"/>
<circle cx="319.45" cy="154.72" r="1.65" fill="#3f3f3f"/>
<circle cx="319.45" cy="175.66" r="1.65" fill="#3f3f3f"/>
<circle cx="319.45" cy="186.13" r="1.65" fill="#3f3f3f"/>
<circle cx="319.45" cy="196.60" r="1.65" fill="#3f3f3f"/>
<line x1="323.83" y1="144.25" x2="323.83" y2="196.60" stroke="#3f3f3f" stroke-width="1.1"/>
<circle cx="323.83" cy="144.25" r="1.65" fill="#3f3f3f"/>
<circle cx="323.83" cy="165.19" r="1.65" fill="#3f3f3f"/>
<circle cx="323.83" cy="175.66" r="1.65" fill="#3f3f3f"/>
<circle cx="323.83" cy="186.13" r="1.65" fill="#3f3f3f"/>
<circle cx="323.83" cy="196.60" r="1.65" fill="#3f3f3f"/>
<line x1="328.22" y1="144.25" x2="328.22" y2="196.60" stroke="#3f3f3f" stroke-width="1.1"/>
<circle cx="328.22" cy="144.25" r="1.65" fill="#3f3f3f"/>
<circle cx="328.22" cy="154.72" r="1.65" fill="#3f3f3f"/>
<circle cx="328.22" cy="165.19" r="1.65" fill="#3f3f3f"/>
<circle cx="328.22" cy="175.66" r="1.65" fill="#3f3f3f"/>
<circle cx="328.22" cy="186.13" r="1.65" fill="#3f3f3f"/>
<circle cx="328.22" cy="196.60" r="1.65" fill="#3f3f3f"/>
<rect x="23.10" y="141.55" width="36.90" height="4.40" fill="#333333"/>
<rect x="19.00" y="152.15" width="41.00" height="4.40" fill="#333333"/>
<rect x="15.00" y="162.75" width="45.00" height="4.40" fill="#333333"/>
<rect x="12.30" y="173.35" width="47.70" height="4.40" fill="#333333"/>
<rect x="12.10" y="183.95" width="47.90" height="4.40" fill="#333333"/>
<rect x="5.00" y="194.55" width="55.00" height="4.40" fill="#333333"/>
<line x1="2.60" y1="202.10" x2="61.80" y2="202.10" stroke="#a0a0a0" stroke-width="0.9"/>
<line x1="6.30" y1="202.10" x2="6.30" y2="203.70" stroke="#707070" stroke-width="0.7"/>
<line x1="24.30" y1="202.10" x2="24.30" y2="203.70" stroke="#707070" stroke-width="0.7"/>
<line x1="42.10" y1="202.10" x2="42.10" y2="203.70" stroke="#707070" stroke-width="0.7"/>
<line x1="59.80" y1="202.10" x2="59.80" y2="203.70" stroke="#707070" stroke-width="0.7"/>
<text x="24.00" y="212.50" font-size="10" text-anchor="middle" fill="#1a1a1a">100</text>
<text x="60.50" y="212.50" font-size="10" text-anchor="middle" fill="#1a1a1a">0</text>
<text x="78.70" y="146.70" font-size="10" text-anchor="middle" textLength="21.70" lengthAdjust="spacingAndGlyphs" fill="#1a1a1a">Brain</text>
<text x="78.70" y="157.36" font-size="10" text-anchor="middle" textLength="17.30" lengthAdjust="spacingAndGlyphs" fill="#1a1a1a">Skin</text>
<text x="78.70" y="168.02" font-size="10" text-anchor="middle" textLength="20.20" lengthAdjust="spacingAndGlyphs" fill="#1a1a1a">Lung</text>
<text x="78.70" y="178.68" font-size="10" text-anchor="middle" textLength="19.70" lengthAdjust="spacingAndGlyphs" fill="#1a1a1a">Liver</text>
<text x="78.70" y="189.34" font-size="10" text-anchor="middle" textLength="23.90" lengthAdjust="spacingAndGlyphs" fill="#1a1a1a">Heart</text>
<text x="78.70" y="200.00" font-size="10" text-anchor="middle" textLength="29.90" lengthAdjust="spacingAndGlyphs" fill="#1a1a1a">Kidney</text>
<text x="205.00" y="43.30" font-size="13.5" textLength="96.20" lengthAdjust="spacingAndGlyphs" fill="#1a1a1a">Positive MLS-AS</text>
<text x="72.90" y="78.30" font-size="11.2" text-anchor="middle" textLength="69.00" lengthAdjust="spacingAndGlyphs" fill="#1a1a1a" transform="rotate(-90 72.90 78.30)">Number of AS</text>
<rect x="98.30" y="345.88" width="235.00" height="10.56" fill="#f2f2f2"/>
<rect x="98.30" y="367.00" width="235.00" height="10.56" fill="#f2f2f2"/>
<rect x="98.30" y="388.12" width="235.00" height="10.56" fill="#f2f2f2"/>
<rect x="100.60" y="237.69" width="2.80" height="97.71" fill="#a5a5a5"/>
<rect x="105.25" y="292.57" width="2.80" height="42.83" fill="#a5a5a5"/>
<rect x="109.91" y="297.92" width="2.80" height="37.48" fill="#a5a5a5"/>
<rect x="114.56" y="301.94" width="2.80" height="33.46" fill="#a5a5a5"/>
<rect x="119.22" y="305.95" width="2.80" height="29.45" fill="#a5a5a5"/>
<rect x="123.88" y="311.31" width="2.80" height="24.09" fill="#a5a5a5"/>
<rect x="128.53" y="320.68" width="2.80" height="14.72" fill="#a5a5a5"/>
<rect x="133.19" y="323.35" width="2.80" height="12.05" fill="#a5a5a5"/>
<rect x="137.84" y="324.69" width="2.80" height="10.71" fill="#a5a5a5"/>
<rect x="142.50" y="326.03" width="2.80" height="9.37" fill="#a5a5a5"/>
<rect x="147.15" y="326.03" width="2.80" height="9.37" fill="#a5a5a5"/>
<rect x="151.81" y="328.71" width="2.80" height="6.69" fill="#a5a5a5"/>
<rect x="156.46" y="328.71" width="2.80" height="6.69" fill="#a5a5a5"/>
<rect x="161.12" y="328.71" width="2.80" height="6.69" fill="#a5a5a5"/>
<rect x="165.77" y="330.05" width="2.80" height="5.35" fill="#a5a5a5"/>
<rect x="170.43" y="330.05" width="2.80" height="5.35" fill="#a5a5a5"/>
<rect x="175.08" y="330.05" width="2.80" height="5.35" fill="#a5a5a5"/>
<rect x="179.74" y="330.05" width="2.80" height="5.35" fill="#a5a5a5"/>
<rect x="184.39" y="332.72" width="2.80" height="2.68" fill="#a5a5a5"/>
<rect x="189.05" y="332.72" width="2.80" height="2.68" fill="#a5a5a5"/>
<rect x="193.70" y="334.06" width="2.80" height="1.34" fill="#a5a5a5"/>
<rect x="198.36" y="327.37" width="2.80" height="8.03" fill="#a5a5a5"/>
<rect x="203.01" y="328.71" width="2.80" height="6.69" fill="#a5a5a5"/>
<rect x="207.67" y="330.05" width="2.80" height="5.35" fill="#a5a5a5"/>
<rect x="212.32" y="330.05" width="2.80" height="5.35" fill="#a5a5a5"/>
<rect x="216.97" y="331.38" width="2.80" height="4.02" fill="#a5a5a5"/>
<rect x="221.63" y="331.38" width="2.80" height="4.02" fill="#a5a5a5"/>
<rect x="226.28" y="332.72" width="2.80" height="2.68" fill="#a5a5a5"/>
<rect x="230.94" y="332.72" width="2.80" height="2.68" fill="#a5a5a5"/>
<rect x="235.59" y="332.72" width="2.80" height="2.68" fill="#a5a5a5"/>
<rect x="240.25" y="332.72" width="2.80" height="2.68" fill="#a5a5a5"/>
<rect x="244.91" y="334.06" width="2.80" height="1.34" fill="#a5a5a5"/>
<rect x="249.56" y="334.06" width="2.80" height="1.34" fill="#a5a5a5"/>
<rect x="254.22" y="334.06" width="2.80" height="1.34" fill="#a5a5a5"/>
<rect x="258.87" y="334.06" width="2.80" height="1.34" fill="#a5a5a5"/>
<rect x="263.52" y="334.06" width="2.80" height="1.34" fill="#a5a5a5"/>
<rect x="268.18" y="334.06" width="2.80" height="1.34" fill="#a5a5a5"/>
<rect x="272.84" y="334.06" width="2.80" height="1.34" fill="#a5a5a5"/>
<rect x="277.49" y="327.37" width="2.80" height="8.03" fill="#a5a5a5"/>
<rect x="282.14" y="330.05" width="2.80" height="5.35" fill="#a5a5a5"/>
<rect x="286.80" y="331.38" width="2.80" height="4.02" fill="#a5a5a5"/>
<rect x="291.46" y="332.72" width="2.80" height="2.68" fill="#a5a5a5"/>
<rect x="296.11" y="334.06" width="2.80" height="1.34" fill="#a5a5a5"/>
<rect x="300.76" y="334.06" width="2.80" height="1.34" fill="#a5a5a5"/>
<rect x="305.42" y="334.06" width="2.80" height="1.34" fill="#a5a5a5"/>
<rect x="310.08" y="322.01" width="2.80" height="13.38" fill="#a5a5a5"/>
<rect x="314.73" y="332.72" width="2.80" height="2.68" fill="#a5a5a5"/>
<rect x="319.38" y="332.72" width="2.80" height="2.68" fill="#a5a5a5"/>
<rect x="324.04" y="334.06" width="2.80" height="1.34" fill="#a5a5a5"/>
<rect x="328.69" y="330.05" width="2.80" height="5.35" fill="#a5a5a5"/>
<line x1="97.60" y1="223.10" x2="97.60" y2="335.90" stroke="#8c8c8c" stroke-width="0.8"/>
<line x1="96.60" y1="335.40" x2="333.30" y2="335.40" stroke="#8c8c8c" stroke-width="0.8"/>
<line x1="95.80" y1="335.40" x2="97.60" y2="335.40" stroke="#8c8c8c" stroke-width="0.8"/>
<line x1="95.80" y1="308.63" x2="97.60" y2="308.63" stroke="#8c8c8c" stroke-width="0.8"/>
<line x1="95.80" y1="281.86" x2="97.60" y2="281.86" stroke="#8c8c8c" stroke-width="0.8"/>
<line x1="95.80" y1="255.09" x2="97.60" y2="255.09" stroke="#8c8c8c" stroke-width="0.8"/>
<line x1="95.80" y1="228.32" x2="97.60" y2="228.32" stroke="#8c8c8c" stroke-width="0.8"/>
<text x="95.20" y="232.20" font-size="10" text-anchor="end" fill="#1a1a1a">80</text>
<text x="95.20" y="258.90" font-size="10" text-anchor="end" fill="#1a1a1a">60</text>
<text x="95.20" y="285.70" font-size="10" text-anchor="end" fill="#1a1a1a">40</text>
<text x="95.20" y="312.40" font-size="10" text-anchor="end" fill="#1a1a1a">20</text>
<text x="95.70" y="336.40" font-size="10" text-anchor="end" fill="#1a1a1a">0</text>
<circle cx="102.10" cy="340.60" r="1.6" fill="#dedede"/>
<circle cx="102.10" cy="351.16" r="1.6" fill="#dedede"/>
<circle cx="102.10" cy="361.72" r="1.6" fill="#dedede"/>
<circle cx="102.10" cy="372.28" r="1.6" fill="#dedede"/>
<circle cx="102.10" cy="393.40" r="1.6" fill="#dedede"/>
<circle cx="106.75" cy="340.60" r="1.6" fill="#dedede"/>
<circle cx="106.75" cy="351.16" r="1.6" fill="#dedede"/>
<circle cx="106.75" cy="361.72" r="1.6" fill="#dedede"/>
<circle cx="106.75" cy="382.84" r="1.6" fill="#dedede"/>
<circle cx="106.75" cy="393.40" r="1.6" fill="#dedede"/>
<circle cx="111.41" cy="340.60" r="1.6" fill="#dedede"/>
<circle cx="111.41" cy="351.16" r="1.6" fill="#dedede"/>
<circle cx="111.41" cy="372.28" r="1.6" fill="#dedede"/>
<circle cx="111.41" cy="382.84" r="1.6" fill="#dedede"/>
<circle cx="111.41" cy="393.40" r="1.6" fill="#dedede"/>
<circle cx="116.06" cy="340.60" r="1.6" fill="#dedede"/>
<circle cx="116.06" cy="361.72" r="1.6" fill="#dedede"/>
<circle cx="116.06" cy="372.28" r="1.6" fill="#dedede"/>
<circle cx="116.06" cy="382.84" r="1.6" fill="#dedede"/>
<circle cx="116.06" cy="393.40" r="1.6" fill="#dedede"/>
<circle cx="120.72" cy="340.60" r="1.6" fill="#dedede"/>
<circle cx="120.72" cy="351.16" r="1.6" fill="#dedede"/>
<circle cx="120.72" cy="361.72" r="1.6" fill="#dedede"/>
<circle cx="120.72" cy="372.28" r="1.6" fill="#dedede"/>
<circle cx="120.72" cy="382.84" r="1.6" fill="#dedede"/>
<circle cx="125.38" cy="351.16" r="1.6" fill="#dedede"/>
<circle cx="125.38" cy="361.72" r="1.6" fill="#dedede"/>
<circle cx="125.38" cy="372.28" r="1.6" fill="#dedede"/>
<circle cx="125.38" cy="382.84" r="1.6" fill="#dedede"/>
<circle cx="125.38" cy="393.40" r="1.6" fill="#dedede"/>
<circle cx="130.03" cy="351.16" r="1.6" fill="#dedede"/>
<circle cx="130.03" cy="361.72" r="1.6" fill="#dedede"/>
<circle cx="130.03" cy="372.28" r="1.6" fill="#dedede"/>
<circle cx="130.03" cy="382.84" r="1.6" fill="#dedede"/>
<circle cx="134.69" cy="340.60" r="1.6" fill="#dedede"/>
<circle cx="134.69" cy="361.72" r="1.6" fill="#dedede"/>
<circle cx="134.69" cy="372.28" r="1.6" fill="#dedede"/>
<circle cx="134.69" cy="393.40" r="1.6" fill="#dedede"/>
<circle cx="139.34" cy="340.60" r="1.6" fill="#dedede"/>
<circle cx="139.34" cy="361.72" r="1.6" fill="#dedede"/>
<circle cx="139.34" cy="382.84" r="1.6" fill="#dedede"/>
<circle cx="139.34" cy="393.40" r="1.6" fill="#dedede"/>
<circle cx="144.00" cy="340.60" r="1.6" fill="#dedede"/>
<circle cx="144.00" cy="351.16" r="1.6" fill="#dedede"/>
<circle cx="144.00" cy="382.84" r="1.6" fill="#dedede"/>
<circle cx="144.00" cy="393.40" r="1.6" fill="#dedede"/>
<circle cx="148.65" cy="340.60" r="1.6" fill="#dedede"/>
<circle cx="148.65" cy="351.16" r="1.6" fill="#dedede"/>
<circle cx="148.65" cy="361.72" r="1.6" fill="#dedede"/>
<circle cx="148.65" cy="382.84" r="1.6" fill="#dedede"/>
<circle cx="153.31" cy="340.60" r="1.6" fill="#dedede"/>
<circle cx="153.31" cy="351.16" r="1.6" fill="#dedede"/>
<circle cx="153.31" cy="372.28" r="1.6" fill="#dedede"/>
<circle cx="153.31" cy="393.40" r="1.6" fill="#dedede"/>
<circle cx="157.96" cy="340.60" r="1.6" fill="#dedede"/>
<circle cx="157.96" cy="361.72" r="1.6" fill="#dedede"/>
<circle cx="157.96" cy="372.28" r="1.6" fill="#dedede"/>
<circle cx="157.96" cy="382.84" r="1.6" fill="#dedede"/>
<circle cx="162.62" cy="340.60" r="1.6" fill="#dedede"/>
<circle cx="162.62" cy="351.16" r="1.6" fill="#dedede"/>
<circle cx="162.62" cy="372.28" r="1.6" fill="#dedede"/>
<circle cx="162.62" cy="382.84" r="1.6" fill="#dedede"/>
<circle cx="167.27" cy="361.72" r="1.6" fill="#dedede"/>
<circle cx="167.27" cy="372.28" r="1.6" fill="#dedede"/>
<circle cx="167.27" cy="382.84" r="1.6" fill="#dedede"/>
<circle cx="167.27" cy="393.40" r="1.6" fill="#dedede"/>
<circle cx="171.93" cy="351.16" r="1.6" fill="#dedede"/>
<circle cx="171.93" cy="372.28" r="1.6" fill="#dedede"/>
<circle cx="171.93" cy="382.84" r="1.6" fill="#dedede"/>
<circle cx="171.93" cy="393.40" r="1.6" fill="#dedede"/>
<circle cx="176.58" cy="340.60" r="1.6" fill="#dedede"/>
<circle cx="176.58" cy="372.28" r="1.6" fill="#dedede"/>
<circle cx="176.58" cy="382.84" r="1.6" fill="#dedede"/>
<circle cx="176.58" cy="393.40" r="1.6" fill="#dedede"/>
<circle cx="181.24" cy="340.60" r="1.6" fill="#dedede"/>
<circle cx="181.24" cy="351.16" r="1.6" fill="#dedede"/>
<circle cx="181.24" cy="361.72" r="1.6" fill="#dedede"/>
<circle cx="181.24" cy="393.40" r="1.6" fill="#dedede"/>
<circle cx="185.89" cy="351.16" r="1.6" fill="#dedede"/>
<circle cx="185.89" cy="361.72" r="1.6" fill="#dedede"/>
<circle cx="185.89" cy="382.84" r="1.6" fill="#dedede"/>
<circle cx="185.89" cy="393.40" r="1.6" fill="#dedede"/>
<circle cx="190.55" cy="340.60" r="1.6" fill="#dedede"/>
<circle cx="190.55" cy="351.16" r="1.6" fill="#dedede"/>
<circle cx="190.55" cy="361.72" r="1.6" fill="#dedede"/>
<circle cx="190.55" cy="372.28" r="1.6" fill="#dedede"/>
<circle cx="195.20" cy="351.16" r="1.6" fill="#dedede"/>
<circle cx="195.20" cy="361.72" r="1.6" fill="#dedede"/>
<circle cx="195.20" cy="372.28" r="1.6" fill="#dedede"/>
<circle cx="195.20" cy="393.40" r="1.6" fill="#dedede"/>
<circle cx="199.86" cy="351.16" r="1.6" fill="#dedede"/>
<circle cx="199.86" cy="361.72" r="1.6" fill="#dedede"/>
<circle cx="199.86" cy="382.84" r="1.6" fill="#dedede"/>
<circle cx="204.51" cy="340.60" r="1.6" fill="#dedede"/>
<circle cx="204.51" cy="361.72" r="1.6" fill="#dedede"/>
<circle cx="204.51" cy="382.84" r="1.6" fill="#dedede"/>
<circle cx="209.17" cy="361.72" r="1.6" fill="#dedede"/>
<circle cx="209.17" cy="372.28" r="1.6" fill="#dedede"/>
<circle cx="209.17" cy="382.84" r="1.6" fill="#dedede"/>
<circle cx="213.82" cy="340.60" r="1.6" fill="#dedede"/>
<circle cx="213.82" cy="351.16" r="1.6" fill="#dedede"/>
<circle cx="213.82" cy="382.84" r="1.6" fill="#dedede"/>
<circle cx="218.47" cy="351.16" r="1.6" fill="#dedede"/>
<circle cx="218.47" cy="372.28" r="1.6" fill="#dedede"/>
<circle cx="218.47" cy="382.84" r="1.6" fill="#dedede"/>
<circle cx="223.13" cy="340.60" r="1.6" fill="#dedede"/>
<circle cx="223.13" cy="351.16" r="1.6" fill="#dedede"/>
<circle cx="223.13" cy="372.28" r="1.6" fill="#dedede"/>
<circle cx="227.78" cy="351.16" r="1.6" fill="#dedede"/>
<circle cx="227.78" cy="382.84" r="1.6" fill="#dedede"/>
<circle cx="227.78" cy="393.40" r="1.6" fill="#dedede"/>
<circle cx="232.44" cy="340.60" r="1.6" fill="#dedede"/>
<circle cx="232.44" cy="351.16" r="1.6" fill="#dedede"/>
<circle cx="232.44" cy="393.40" r="1.6" fill="#dedede"/>
<circle cx="237.09" cy="340.60" r="1.6" fill="#dedede"/>
<circle cx="237.09" cy="372.28" r="1.6" fill="#dedede"/>
<circle cx="237.09" cy="382.84" r="1.6" fill="#dedede"/>
<circle cx="241.75" cy="340.60" r="1.6" fill="#dedede"/>
<circle cx="241.75" cy="361.72" r="1.6" fill="#dedede"/>
<circle cx="241.75" cy="372.28" r="1.6" fill="#dedede"/>
<circle cx="246.41" cy="372.28" r="1.6" fill="#dedede"/>
<circle cx="246.41" cy="382.84" r="1.6" fill="#dedede"/>
<circle cx="246.41" cy="393.40" r="1.6" fill="#dedede"/>
<circle cx="251.06" cy="361.72" r="1.6" fill="#dedede"/>
<circle cx="251.06" cy="382.84" r="1.6" fill="#dedede"/>
<circle cx="251.06" cy="393.40" r="1.6" fill="#dedede"/>
<circle cx="255.72" cy="340.60" r="1.6" fill="#dedede"/>
<circle cx="255.72" cy="382.84" r="1.6" fill="#dedede"/>
<circle cx="255.72" cy="393.40" r="1.6" fill="#dedede"/>
<circle cx="260.37" cy="351.16" r="1.6" fill="#dedede"/>
<circle cx="260.37" cy="372.28" r="1.6" fill="#dedede"/>
<circle cx="260.37" cy="393.40" r="1.6" fill="#dedede"/>
<circle cx="265.02" cy="340.60" r="1.6" fill="#dedede"/>
<circle cx="265.02" cy="361.72" r="1.6" fill="#dedede"/>
<circle cx="265.02" cy="393.40" r="1.6" fill="#dedede"/>
<circle cx="269.68" cy="351.16" r="1.6" fill="#dedede"/>
<circle cx="269.68" cy="361.72" r="1.6" fill="#dedede"/>
<circle cx="269.68" cy="372.28" r="1.6" fill="#dedede"/>
<circle cx="274.34" cy="340.60" r="1.6" fill="#dedede"/>
<circle cx="274.34" cy="351.16" r="1.6" fill="#dedede"/>
<circle cx="274.34" cy="361.72" r="1.6" fill="#dedede"/>
<circle cx="278.99" cy="351.16" r="1.6" fill="#dedede"/>
<circle cx="278.99" cy="382.84" r="1.6" fill="#dedede"/>
<circle cx="283.64" cy="361.72" r="1.6" fill="#dedede"/>
<circle cx="283.64" cy="382.84" r="1.6" fill="#dedede"/>
<circle cx="288.30" cy="340.60" r="1.6" fill="#dedede"/>
<circle cx="288.30" cy="382.84" r="1.6" fill="#dedede"/>
<circle cx="292.96" cy="372.28" r="1.6" fill="#dedede"/>
<circle cx="292.96" cy="382.84" r="1.6" fill="#dedede"/>
<circle cx="297.61" cy="340.60" r="1.6" fill="#dedede"/>
<circle cx="297.61" cy="361.72" r="1.6" fill="#dedede"/>
<circle cx="302.26" cy="351.16" r="1.6" fill="#dedede"/>
<circle cx="302.26" cy="372.28" r="1.6" fill="#dedede"/>
<circle cx="306.92" cy="382.84" r="1.6" fill="#dedede"/>
<circle cx="306.92" cy="393.40" r="1.6" fill="#dedede"/>
<circle cx="311.58" cy="382.84" r="1.6" fill="#dedede"/>
<circle cx="316.23" cy="361.72" r="1.6" fill="#dedede"/>
<circle cx="320.88" cy="340.60" r="1.6" fill="#dedede"/>
<circle cx="325.54" cy="351.16" r="1.6" fill="#dedede"/>
<circle cx="102.10" cy="382.84" r="1.65" fill="#3f3f3f"/>
<circle cx="106.75" cy="372.28" r="1.65" fill="#3f3f3f"/>
<circle cx="111.41" cy="361.72" r="1.65" fill="#3f3f3f"/>
<circle cx="116.06" cy="351.16" r="1.65" fill="#3f3f3f"/>
<circle cx="120.72" cy="393.40" r="1.65" fill="#3f3f3f"/>
<circle cx="125.38" cy="340.60" r="1.65" fill="#3f3f3f"/>
<line x1="130.03" y1="340.60" x2="130.03" y2="393.40" stroke="#3f3f3f" stroke-width="1.1"/>
<circle cx="130.03" cy="340.60" r="1.65" fill="#3f3f3f"/>
<circle cx="130.03" cy="393.40" r="1.65" fill="#3f3f3f"/>
<line x1="134.69" y1="351.16" x2="134.69" y2="382.84" stroke="#3f3f3f" stroke-width="1.1"/>
<circle cx="134.69" cy="351.16" r="1.65" fill="#3f3f3f"/>
<circle cx="134.69" cy="382.84" r="1.65" fill="#3f3f3f"/>
<line x1="139.34" y1="351.16" x2="139.34" y2="372.28" stroke="#3f3f3f" stroke-width="1.1"/>
<circle cx="139.34" cy="351.16" r="1.65" fill="#3f3f3f"/>
<circle cx="139.34" cy="372.28" r="1.65" fill="#3f3f3f"/>
<line x1="144.00" y1="361.72" x2="144.00" y2="372.28" stroke="#3f3f3f" stroke-width="1.1"/>
<circle cx="144.00" cy="361.72" r="1.65" fill="#3f3f3f"/>
<circle cx="144.00" cy="372.28" r="1.65" fill="#3f3f3f"/>
<line x1="148.65" y1="372.28" x2="148.65" y2="393.40" stroke="#3f3f3f" stroke-width="1.1"/>
<circle cx="148.65" cy="372.28" r="1.65" fill="#3f3f3f"/>
<circle cx="148.65" cy="393.40" r="1.65" fill="#3f3f3f"/>
<line x1="153.31" y1="361.72" x2="153.31" y2="382.84" stroke="#3f3f3f" stroke-width="1.1"/>
<circle cx="153.31" cy="361.72" r="1.65" fill="#3f3f3f"/>
<circle cx="153.31" cy="382.84" r="1.65" fill="#3f3f3f"/>
<line x1="157.96" y1="351.16" x2="157.96" y2="393.40" stroke="#3f3f3f" stroke-width="1.1"/>
<circle cx="157.96" cy="351.16" r="1.65" fill="#3f3f3f"/>
<circle cx="157.96" cy="393.40" r="1.65" fill="#3f3f3f"/>
<line x1="162.62" y1="361.72" x2="162.62" y2="393.40" stroke="#3f3f3f" stroke-width="1.1"/>
<circle cx="162.62" cy="361.72" r="1.65" fill="#3f3f3f"/>
<circle cx="162.62" cy="393.40" r="1.65" fill="#3f3f3f"/>
<line x1="167.27" y1="340.60" x2="167.27" y2="351.16" stroke="#3f3f3f" stroke-width="1.1"/>
<circle cx="167.27" cy="340.60" r="1.65" fill="#3f3f3f"/>
<circle cx="167.27" cy="351.16" r="1.65" fill="#3f3f3f"/>
<line x1="171.93" y1="340.60" x2="171.93" y2="361.72" stroke="#3f3f3f" stroke-width="1.1"/>
<circle cx="171.93" cy="340.60" r="1.65" fill="#3f3f3f"/>
<circle cx="171.93" cy="361.72" r="1.65" fill="#3f3f3f"/>
<line x1="176.58" y1="351.16" x2="176.58" y2="361.72" stroke="#3f3f3f" stroke-width="1.1"/>
<circle cx="176.58" cy="351.16" r="1.65" fill="#3f3f3f"/>
<circle cx="176.58" cy="361.72" r="1.65" fill="#3f3f3f"/>
<line x1="181.24" y1="372.28" x2="181.24" y2="382.84" stroke="#3f3f3f" stroke-width="1.1"/>
<circle cx="181.24" cy="372.28" r="1.65" fill="#3f3f3f"/>
<circle cx="181.24" cy="382.84" r="1.65" fill="#3f3f3f"/>
<line x1="185.89" y1="340.60" x2="185.89" y2="372.28" stroke="#3f3f3f" stroke-width="1.1"/>
<circle cx="185.89" cy="340.60" r="1.65" fill="#3f3f3f"/>
<circle cx="185.89" cy="372.28" r="1.65" fill="#3f3f3f"/>
<line x1="190.55" y1="382.84" x2="190.55" y2="393.40" stroke="#3f3f3f" stroke-width="1.1"/>
<circle cx="190.55" cy="382.84" r="1.65" fill="#3f3f3f"/>
<circle cx="190.55" cy="393.40" r="1.65" fill="#3f3f3f"/>
<line x1="195.20" y1="340.60" x2="195.20" y2="382.84" stroke="#3f3f3f" stroke-width="1.1"/>
<circle cx="195.20" cy="340.60" r="1.65" fill="#3f3f3f"/>
<circle cx="195.20" cy="382.84" r="1.65" fill="#3f3f3f"/>
<line x1="199.86" y1="340.60" x2="199.86" y2="393.40" stroke="#3f3f3f" stroke-width="1.1"/>
<circle cx="199.86" cy="340.60" r="1.65" fill="#3f3f3f"/>
<circle cx="199.86" cy="372.28" r="1.65" fill="#3f3f3f"/>
<circle cx="199.86" cy="393.40" r="1.65" fill="#3f3f3f"/>
<line x1="204.51" y1="351.16" x2="204.51" y2="393.40" stroke="#3f3f3f" stroke-width="1.1"/>
<circle cx="204.51" cy="351.16" r="1.65" fill="#3f3f3f"/>
<circle cx="204.51" cy="372.28" r="1.65" fill="#3f3f3f"/>
<circle cx="204.51" cy="393.40" r="1.65" fill="#3f3f3f"/>
<line x1="209.17" y1="340.60" x2="209.17" y2="393.40" stroke="#3f3f3f" stroke-width="1.1"/>
<circle cx="209.17" cy="340.60" r="1.65" fill="#3f3f3f"/>
<circle cx="209.17" cy="351.16" r="1.65" fill="#3f3f3f"/>
<circle cx="209.17" cy="393.40" r="1.65" fill="#3f3f3f"/>
<line x1="213.82" y1="361.72" x2="213.82" y2="393.40" stroke="#3f3f3f" stroke-width="1.1"/>
<circle cx="213.82" cy="361.72" r="1.65" fill="#3f3f3f"/>
<circle cx="213.82" cy="372.28" r="1.65" fill="#3f3f3f"/>
<circle cx="213.82" cy="393.40" r="1.65" fill="#3f3f3f"/>
<line x1="218.47" y1="340.60" x2="218.47" y2="393.40" stroke="#3f3f3f" stroke-width="1.1"/>
<circle cx="218.47" cy="340.60" r="1.65" fill="#3f3f3f"/>
<circle cx="218.47" cy="361.72" r="1.65" fill="#3f3f3f"/>
<circle cx="218.47" cy="393.40" r="1.65" fill="#3f3f3f"/>
<line x1="223.13" y1="361.72" x2="223.13" y2="393.40" stroke="#3f3f3f" stroke-width="1.1"/>
<circle cx="223.13" cy="361.72" r="1.65" fill="#3f3f3f"/>
<circle cx="223.13" cy="382.84" r="1.65" fill="#3f3f3f"/>
<circle cx="223.13" cy="393.40" r="1.65" fill="#3f3f3f"/>
<line x1="227.78" y1="340.60" x2="227.78" y2="372.28" stroke="#3f3f3f" stroke-width="1.1"/>
<circle cx="227.78" cy="340.60" r="1.65" fill="#3f3f3f"/>
<circle cx="227.78" cy="361.72" r="1.65" fill="#3f3f3f"/>
<circle cx="227.78" cy="372.28" r="1.65" fill="#3f3f3f"/>
<line x1="232.44" y1="361.72" x2="232.44" y2="382.84" stroke="#3f3f3f" stroke-width="1.1"/>
<circle cx="232.44" cy="361.72" r="1.65" fill="#3f3f3f"/>
<circle cx="232.44" cy="372.28" r="1.65" fill="#3f3f3f"/>
<circle cx="232.44" cy="382.84" r="1.65" fill="#3f3f3f"/>
<line x1="237.09" y1="351.16" x2="237.09" y2="393.40" stroke="#3f3f3f" stroke-width="1.1"/>
<circle cx="237.09" cy="351.16" r="1.65" fill="#3f3f3f"/>
<circle cx="237.09" cy="361.72" r="1.65" fill="#3f3f3f"/>
<circle cx="237.09" cy="393.40" r="1.65" fill="#3f3f3f"/>
<line x1="241.75" y1="351.16" x2="241.75" y2="393.40" stroke="#3f3f3f" stroke-width="1.1"/>
<circle cx="241.75" cy="351.16" r="1.65" fill="#3f3f3f"/>
<circle cx="241.75" cy="382.84" r="1.65" fill="#3f3f3f"/>
<circle cx="241.75" cy="393.40" r="1.65" fill="#3f3f3f"/>
<line x1="246.41" y1="340.60" x2="246.41" y2="361.72" stroke="#3f3f3f" stroke-width="1.1"/>
<circle cx="246.41" cy="340.60" r="1.65" fill="#3f3f3f"/>
<circle cx="246.41" cy="351.16" r="1.65" fill="#3f3f3f"/>
<circle cx="246.41" cy="361.72" r="1.65" fill="#3f3f3f"/>
<line x1="251.06" y1="340.60" x2="251.06" y2="372.28" stroke="#3f3f3f" stroke-width="1.1"/>
<circle cx="251.06" cy="340.60" r="1.65" fill="#3f3f3f"/>
<circle cx="251.06" cy="351.16" r="1.65" fill="#3f3f3f"/>
<circle cx="251.06" cy="372.28" r="1.65" fill="#3f3f3f"/>
<line x1="255.72" y1="351.16" x2="255.72" y2="372.28" stroke="#3f3f3f" stroke-width="1.1"/>
<circle cx="255.72" cy="351.16" r="1.65" fill="#3f3f3f"/>
<circle cx="255.72" cy="361.72" r="1.65" fill="#3f3f3f"/>
<circle cx="255.72" cy="372.28" r="1.65" fill="#3f3f3f"/>
<line x1="260.37" y1="340.60" x2="260.37" y2="382.84" stroke="#3f3f3f" stroke-width="1.1"/>
<circle cx="260.37" cy="340.60" r="1.65" fill="#3f3f3f"/>
<circle cx="260.37" cy="361.72" r="1.65" fill="#3f3f3f"/>
<circle cx="260.37" cy="382.84" r="1.65" fill="#3f3f3f"/>
<line x1="265.02" y1="351.16" x2="265.02" y2="382.84" stroke="#3f3f3f" stroke-width="1.1"/>
<circle cx="265.02" cy="351.16" r="1.65" fill="#3f3f3f"/>
<circle cx="265.02" cy="372.28" r="1.65" fill="#3f3f3f"/>
<circle cx="265.02" cy="382.84" r="1.65" fill="#3f3f3f"/>
<line x1="269.68" y1="340.60" x2="269.68" y2="393.40" stroke="#3f3f3f" stroke-width="1.1"/>
<circle cx="269.68" cy="340.60" r="1.65" fill="#3f3f3f"/>
<circle cx="269.68" cy="382.84" r="1.65" fill="#3f3f3f"/>
<circle cx="269.68" cy="393.40" r="1.65" fill="#3f3f3f"/>
<line x1="274.34" y1="372.28" x2="274.34" y2="393.40" stroke="#3f3f3f" stroke-width="1.1"/>
<circle cx="274.34" cy="372.28" r="1.65" fill="#3f3f3f"/>
<circle cx="274.34" cy="382.84" r="1.65" fill="#3f3f3f"/>
<circle cx="274.34" cy="393.40" r="1.65" fill="#3f3f3f"/>
<line x1="278.99" y1="340.60" x2="278.99" y2="393.40" stroke="#3f3f3f" stroke-width="1.1"/>
<circle cx="278.99" cy="340.60" r="1.65" fill="#3f3f3f"/>
<circle cx="278.99" cy="361.72" r="1.65" fill="#3f3f3f"/>
<circle cx="278.99" cy="372.28" r="1.65" fill="#3f3f3f"/>
<circle cx="278.99" cy="393.40" r="1.65" fill="#3f3f3f"/>
<line x1="283.64" y1="340.60" x2="283.64" y2="393.40" stroke="#3f3f3f" stroke-width="1.1"/>
<circle cx="283.64" cy="340.60" r="1.65" fill="#3f3f3f"/>
<circle cx="283.64" cy="351.16" r="1.65" fill="#3f3f3f"/>
<circle cx="283.64" cy="372.28" r="1.65" fill="#3f3f3f"/>
<circle cx="283.64" cy="393.40" r="1.65" fill="#3f3f3f"/>
<line x1="288.30" y1="351.16" x2="288.30" y2="393.40" stroke="#3f3f3f" stroke-width="1.1"/>
<circle cx="288.30" cy="351.16" r="1.65" fill="#3f3f3f"/>
<circle cx="288.30" cy="361.72" r="1.65" fill="#3f3f3f"/>
<circle cx="288.30" cy="372.28" r="1.65" fill="#3f3f3f"/>
<circle cx="288.30" cy="393.40" r="1.65" fill="#3f3f3f"/>
<line x1="292.96" y1="340.60" x2="292.96" y2="393.40" stroke="#3f3f3f" stroke-width="1.1"/>
<circle cx="292.96" cy="340.60" r="1.65" fill="#3f3f3f"/>
<circle cx="292.96" cy="351.16" r="1.65" fill="#3f3f3f"/>
<circle cx="292.96" cy="361.72" r="1.65" fill="#3f3f3f"/>
<circle cx="292.96" cy="393.40" r="1.65" fill="#3f3f3f"/>
<line x1="297.61" y1="351.16" x2="297.61" y2="393.40" stroke="#3f3f3f" stroke-width="1.1"/>
<circle cx="297.61" cy="351.16" r="1.65" fill="#3f3f3f"/>
<circle cx="297.61" cy="372.28" r="1.65" fill="#3f3f3f"/>
<circle cx="297.61" cy="382.84" r="1.65" fill="#3f3f3f"/>
<circle cx="297.61" cy="393.40" r="1.65" fill="#3f3f3f"/>
<line x1="302.26" y1="340.60" x2="302.26" y2="393.40" stroke="#3f3f3f" stroke-width="1.1"/>
<circle cx="302.26" cy="340.60" r="1.65" fill="#3f3f3f"/>
<circle cx="302.26" cy="361.72" r="1.65" fill="#3f3f3f"/>
<circle cx="302.26" cy="382.84" r="1.65" fill="#3f3f3f"/>
<circle cx="302.26" cy="393.40" r="1.65" fill="#3f3f3f"/>
<line x1="306.92" y1="340.60" x2="306.92" y2="372.28" stroke="#3f3f3f" stroke-width="1.1"/>
<circle cx="306.92" cy="340.60" r="1.65" fill="#3f3f3f"/>
<circle cx="306.92" cy="351.16" r="1.65" fill="#3f3f3f"/>
<circle cx="306.92" cy="361.72" r="1.65" fill="#3f3f3f"/>
<circle cx="306.92" cy="372.28" r="1.65" fill="#3f3f3f"/>
<line x1="311.58" y1="340.60" x2="311.58" y2="393.40" stroke="#3f3f3f" stroke-width="1.1"/>
<circle cx="311.58" cy="340.60" r="1.65" fill="#3f3f3f"/>
<circle cx="311.58" cy="351.16" r="1.65" fill="#3f3f3f"/>
<circle cx="311.58" cy="361.72" r="1.65" fill="#3f3f3f"/>
<circle cx="311.58" cy="372.28" r="1.65" fill="#3f3f3f"/>
<circle cx="311.58" cy="393.40" r="1.65" fill="#3f3f3f"/>
<line x1="316.23" y1="340.60" x2="316.23" y2="393.40" stroke="#3f3f3f" stroke-width="1.1"/>
<circle cx="316.23" cy="340.60" r="1.65" fill="#3f3f3f"/>
<circle cx="316.23" cy="351.16" r="1.65" fill="#3f3f3f"/>
<circle cx="316.23" cy="372.28" r="1.65" fill="#3f3f3f"/>
<circle cx="316.23" cy="382.84" r="1.65" fill="#3f3f3f"/>
<circle cx="316.23" cy="393.40" r="1.65" fill="#3f3f3f"/>
<line x1="320.88" y1="351.16" x2="320.88" y2="393.40" stroke="#3f3f3f" stroke-width="1.1"/>
<circle cx="320.88" cy="351.16" r="1.65" fill="#3f3f3f"/>
<circle cx="320.88" cy="361.72" r="1.65" fill="#3f3f3f"/>
<circle cx="320.88" cy="372.28" r="1.65" fill="#3f3f3f"/>
<circle cx="320.88" cy="382.84" r="1.65" fill="#3f3f3f"/>
<circle cx="320.88" cy="393.40" r="1.65" fill="#3f3f3f"/>
<line x1="325.54" y1="340.60" x2="325.54" y2="393.40" stroke="#3f3f3f" stroke-width="1.1"/>
<circle cx="325.54" cy="340.60" r="1.65" fill="#3f3f3f"/>
<circle cx="325.54" cy="361.72" r="1.65" fill="#3f3f3f"/>
<circle cx="325.54" cy="372.28" r="1.65" fill="#3f3f3f"/>
<circle cx="325.54" cy="382.84" r="1.65" fill="#3f3f3f"/>
<circle cx="325.54" cy="393.40" r="1.65" fill="#3f3f3f"/>
<line x1="330.19" y1="340.60" x2="330.19" y2="393.40" stroke="#3f3f3f" stroke-width="1.1"/>
<circle cx="330.19" cy="340.60" r="1.65" fill="#3f3f3f"/>
<circle cx="330.19" cy="351.16" r="1.65" fill="#3f3f3f"/>
<circle cx="330.19" cy="361.72" r="1.65" fill="#3f3f3f"/>
<circle cx="330.19" cy="372.28" r="1.65" fill="#3f3f3f"/>
<circle cx="330.19" cy="382.84" r="1.65" fill="#3f3f3f"/>
<circle cx="330.19" cy="393.40" r="1.65" fill="#3f3f3f"/>
<rect x="16.70" y="337.40" width="43.20" height="4.40" fill="#333333"/>
<rect x="11.40" y="348.20" width="48.50" height="4.40" fill="#333333"/>
<rect x="10.10" y="359.00" width="49.80" height="4.40" fill="#333333"/>
<rect x="5.30" y="369.80" width="54.60" height="4.40" fill="#333333"/>
<rect x="3.80" y="380.60" width="56.10" height="4.40" fill="#333333"/>
<rect x="2.90" y="391.40" width="57.00" height="4.40" fill="#333333"/>
<line x1="0.00" y1="398.80" x2="60.30" y2="398.80" stroke="#a0a0a0" stroke-width="0.9"/>
<line x1="12.10" y1="398.80" x2="12.10" y2="400.40" stroke="#707070" stroke-width="0.7"/>
<line x1="23.70" y1="398.80" x2="23.70" y2="400.40" stroke="#707070" stroke-width="0.7"/>
<line x1="35.50" y1="398.80" x2="35.50" y2="400.40" stroke="#707070" stroke-width="0.7"/>
<line x1="47.50" y1="398.80" x2="47.50" y2="400.40" stroke="#707070" stroke-width="0.7"/>
<line x1="59.40" y1="398.80" x2="59.40" y2="400.40" stroke="#707070" stroke-width="0.7"/>
<text x="9.50" y="409.50" font-size="10" text-anchor="middle" fill="#1a1a1a">100</text>
<text x="35.50" y="409.50" font-size="10" text-anchor="middle" fill="#1a1a1a">50</text>
<text x="59.20" y="409.50" font-size="10" text-anchor="middle" fill="#1a1a1a">0</text>
<text x="78.60" y="342.50" font-size="10" text-anchor="middle" textLength="19.70" lengthAdjust="spacingAndGlyphs" fill="#1a1a1a">Liver</text>
<text x="78.60" y="353.26" font-size="10" text-anchor="middle" textLength="23.90" lengthAdjust="spacingAndGlyphs" fill="#1a1a1a">Heart</text>
<text x="78.60" y="364.02" font-size="10" text-anchor="middle" textLength="20.20" lengthAdjust="spacingAndGlyphs" fill="#1a1a1a">Lung</text>
<text x="78.60" y="374.78" font-size="10" text-anchor="middle" textLength="17.30" lengthAdjust="spacingAndGlyphs" fill="#1a1a1a">Skin</text>
<text x="78.60" y="385.54" font-size="10" text-anchor="middle" textLength="21.70" lengthAdjust="spacingAndGlyphs" fill="#1a1a1a">Brain</text>
<text x="78.60" y="396.30" font-size="10" text-anchor="middle" textLength="29.90" lengthAdjust="spacingAndGlyphs" fill="#1a1a1a">Kidney</text>
<text x="187.00" y="245.80" font-size="13.5" textLength="101.60" lengthAdjust="spacingAndGlyphs" fill="#1a1a1a">Negative MLS-AS</text>
<text x="72.90" y="279.60" font-size="11.2" text-anchor="middle" textLength="68.20" lengthAdjust="spacingAndGlyphs" fill="#1a1a1a" transform="rotate(-90 72.90 279.60)">Number of AS</text>
<text x="12.10" y="11.60" font-size="16" textLength="16.20" lengthAdjust="spacingAndGlyphs" fill="#111">(<tspan font-weight="bold">a</tspan>)</text>
<text x="370.80" y="13.70" font-size="16.5" textLength="17.60" lengthAdjust="spacingAndGlyphs" fill="#111">(<tspan font-weight="bold">b</tspan>)</text>
<rect x="361.00" y="119.40" width="1.65" height="45.67" fill="#5b9bd0"/>
<rect x="362.60" y="119.40" width="1.15" height="45.67" fill="#dde4ee"/>
<rect x="363.70" y="119.40" width="1.35" height="45.67" fill="#f0a080"/>
<rect x="365.00" y="119.40" width="1.35" height="45.67" fill="#f5ebe8"/>
<rect x="366.30" y="119.40" width="1.35" height="45.67" fill="#e0e8f0"/>
<rect x="367.60" y="119.40" width="1.35" height="45.67" fill="#a8cde3"/>
<rect x="368.90" y="119.40" width="1.65" height="45.67" fill="#4d8fc7"/>
<rect x="370.50" y="119.40" width="2.05" height="45.67" fill="#5c9dcf"/>
<rect x="372.50" y="119.40" width="3.35" height="45.67" fill="#3c7fbd"/>
<rect x="375.80" y="119.40" width="2.65" height="45.67" fill="#5a9acb"/>
<rect x="378.40" y="119.40" width="2.65" height="45.67" fill="#5b9bcd"/>
<rect x="381.00" y="119.40" width="2.55" height="45.67" fill="#4a8cc6"/>
<rect x="383.50" y="119.40" width="2.85" height="45.67" fill="#5b9bcd"/>
<rect x="386.30" y="119.40" width="1.35" height="45.67" fill="#1d5192"/>
<rect x="387.60" y="119.40" width="2.65" height="45.67" fill="#5a98ca"/>
<rect x="390.20" y="119.40" width="2.75" height="45.67" fill="#8dbfdd"/>
<rect x="392.90" y="119.40" width="1.95" height="45.67" fill="#6aa6d2"/>
<rect x="394.80" y="119.40" width="2.75" height="45.67" fill="#9ac6e0"/>
<rect x="397.50" y="119.40" width="2.65" height="45.67" fill="#86bbdb"/>
<rect x="400.10" y="119.40" width="1.95" height="45.67" fill="#5d9ccd"/>
<rect x="402.00" y="119.40" width="1.45" height="45.67" fill="#2d6bab"/>
<rect x="403.40" y="119.40" width="1.95" height="45.67" fill="#f2f2f2"/>
<rect x="405.30" y="119.40" width="2.75" height="45.67" fill="#f8dcc8"/>
<rect x="408.00" y="119.40" width="1.95" height="45.67" fill="#cfe3ef"/>
<rect x="409.90" y="119.40" width="3.35" height="45.67" fill="#dbe9f2"/>
<rect x="413.20" y="119.40" width="2.05" height="45.67" fill="#f0a888"/>
<rect x="415.20" y="119.40" width="2.65" height="45.67" fill="#f0f0f0"/>
<rect x="417.80" y="119.40" width="3.35" height="45.67" fill="#f3e2dc"/>
<rect x="421.10" y="119.40" width="2.05" height="45.67" fill="#c8def0"/>
<rect x="423.10" y="119.40" width="5.25" height="45.67" fill="#b8d8ec"/>
<rect x="428.30" y="119.40" width="2.05" height="45.67" fill="#1f5596"/>
<rect x="430.30" y="119.40" width="3.35" height="45.67" fill="#2f72b5"/>
<rect x="433.60" y="119.40" width="3.95" height="45.67" fill="#7fb5da"/>
<rect x="437.50" y="119.40" width="2.75" height="45.67" fill="#9dc9e1"/>
<rect x="440.20" y="119.40" width="1.95" height="45.67" fill="#4889c4"/>
<rect x="442.10" y="119.40" width="3.35" height="45.67" fill="#5a98ca"/>
<rect x="445.40" y="119.40" width="2.65" height="45.67" fill="#4c8cc6"/>
<rect x="448.00" y="119.40" width="2.05" height="45.67" fill="#5d9bce"/>
<rect x="450.00" y="119.40" width="2.65" height="45.67" fill="#8ab9da"/>
<rect x="452.60" y="119.40" width="3.95" height="45.67" fill="#2a67a8"/>
<rect x="456.50" y="119.40" width="1.45" height="45.67" fill="#d9846a"/>
<rect x="457.90" y="119.40" width="1.35" height="45.67" fill="#e8e0e0"/>
<rect x="459.20" y="119.40" width="1.35" height="45.67" fill="#a5cfe5"/>
<rect x="460.50" y="119.40" width="2.05" height="45.67" fill="#f1ccc0"/>
<rect x="462.50" y="119.40" width="3.25" height="45.67" fill="#e4eef5"/>
<rect x="465.70" y="119.40" width="2.75" height="45.67" fill="#eaf1f5"/>
<rect x="468.40" y="119.40" width="1.95" height="45.67" fill="#f6cdb5"/>
<rect x="470.30" y="119.40" width="2.05" height="45.67" fill="#eef2f5"/>
<rect x="472.30" y="119.40" width="3.35" height="45.67" fill="#d2e5f0"/>
<rect x="475.60" y="119.40" width="2.05" height="45.67" fill="#f7d0b8"/>
<rect x="477.60" y="119.40" width="2.65" height="45.67" fill="#ee9e80"/>
<rect x="480.20" y="119.40" width="2.65" height="45.67" fill="#cce2ee"/>
<rect x="482.80" y="119.40" width="2.05" height="45.67" fill="#a9d0e5"/>
<rect x="484.80" y="119.40" width="3.95" height="45.67" fill="#d5e7f1"/>
<rect x="488.70" y="119.40" width="2.05" height="45.67" fill="#b6d6e9"/>
<rect x="490.70" y="119.40" width="2.05" height="45.67" fill="#dde8f0"/>
<rect x="492.70" y="119.40" width="2.65" height="45.67" fill="#5a98ca"/>
<rect x="495.30" y="119.40" width="2.75" height="45.67" fill="#c8e0ee"/>
<rect x="498.00" y="119.40" width="2.65" height="45.67" fill="#b5d5e8"/>
<rect x="500.60" y="119.40" width="2.65" height="45.67" fill="#5e9ccd"/>
<rect x="503.20" y="119.40" width="3.35" height="45.67" fill="#2766a8"/>
<rect x="506.50" y="119.40" width="1.35" height="45.67" fill="#4a8ac4"/>
<rect x="507.80" y="119.40" width="1.35" height="45.67" fill="#f7f7f7"/>
<rect x="509.10" y="119.40" width="3.35" height="45.67" fill="#d86a52"/>
<rect x="512.40" y="119.40" width="3.35" height="45.67" fill="#f0a282"/>
<rect x="515.70" y="119.40" width="2.05" height="45.67" fill="#f8c8b0"/>
<rect x="517.70" y="119.40" width="3.35" height="45.67" fill="#f4aa8c"/>
<rect x="521.00" y="119.40" width="2.65" height="45.67" fill="#f8e8e0"/>
<rect x="523.60" y="119.40" width="2.65" height="45.67" fill="#f8c0a4"/>
<rect x="526.20" y="119.40" width="3.95" height="45.67" fill="#f3a485"/>
<rect x="530.10" y="119.40" width="3.35" height="45.67" fill="#f5ece8"/>
<rect x="533.40" y="119.40" width="2.45" height="45.67" fill="#f6bca4"/>
<rect x="535.80" y="119.40" width="3.25" height="45.67" fill="#a51b2d"/>
<rect x="539.00" y="119.40" width="1.75" height="45.67" fill="#c84840"/>
<rect x="540.70" y="119.40" width="2.75" height="45.67" fill="#e8907a"/>
<rect x="543.40" y="119.40" width="2.05" height="45.67" fill="#d45a4a"/>
<rect x="545.40" y="119.40" width="2.75" height="45.67" fill="#e07860"/>
<rect x="548.10" y="119.40" width="2.75" height="45.67" fill="#f0a080"/>
<rect x="550.80" y="119.40" width="2.75" height="45.67" fill="#eda088"/>
<rect x="553.50" y="119.40" width="2.05" height="45.67" fill="#fae8e0"/>
<rect x="555.50" y="119.40" width="2.75" height="45.67" fill="#f4a888"/>
<rect x="558.20" y="119.40" width="3.35" height="45.67" fill="#f2a080"/>
<rect x="561.50" y="119.40" width="2.75" height="45.67" fill="#f6b898"/>
<rect x="564.20" y="119.40" width="3.45" height="45.67" fill="#f1a384"/>
<rect x="567.60" y="119.40" width="3.35" height="45.67" fill="#f8c4a8"/>
<rect x="570.90" y="119.40" width="2.75" height="45.67" fill="#d86050"/>
<rect x="573.60" y="119.40" width="5.45" height="45.67" fill="#dd6a55"/>
<rect x="579.00" y="119.40" width="3.35" height="45.67" fill="#fbdcc8"/>
<rect x="582.30" y="119.40" width="4.15" height="45.67" fill="#f8d8c8"/>
<rect x="586.40" y="119.40" width="2.65" height="45.67" fill="#d8e4ec"/>
<rect x="589.00" y="119.40" width="2.15" height="45.67" fill="#f8d0b8"/>
<rect x="591.10" y="119.40" width="2.05" height="45.67" fill="#f0a888"/>
<rect x="593.10" y="119.40" width="2.75" height="45.67" fill="#f7f4f0"/>
<rect x="595.80" y="119.40" width="2.75" height="45.67" fill="#d06050"/>
<rect x="598.50" y="119.40" width="2.05" height="45.67" fill="#b82838"/>
<rect x="600.50" y="119.40" width="4.05" height="45.67" fill="#d05848"/>
<rect x="604.50" y="119.40" width="2.75" height="45.67" fill="#c84840"/>
<rect x="607.20" y="119.40" width="4.05" height="45.67" fill="#d86a58"/>
<rect x="611.20" y="119.40" width="5.45" height="45.67" fill="#e07a64"/>
<rect x="616.60" y="119.40" width="2.05" height="45.67" fill="#b8283a"/>
<rect x="618.60" y="119.40" width="3.45" height="45.67" fill="#d05a48"/>
<rect x="622.00" y="119.40" width="2.65" height="45.67" fill="#dc6c58"/>
<rect x="624.60" y="119.40" width="2.65" height="45.67" fill="#e07058"/>
<text x="632.90" y="145.80" font-size="10.5" textLength="25.30" lengthAdjust="spacingAndGlyphs" fill="#1a1a1a">Brain</text>
<rect x="361.00" y="165.02" width="2.25" height="45.67" fill="#c04848"/>
<rect x="363.20" y="165.02" width="2.05" height="45.67" fill="#2868b0"/>
<rect x="365.20" y="165.02" width="2.25" height="45.67" fill="#3a7cc0"/>
<rect x="367.40" y="165.02" width="1.05" height="45.67" fill="#c8dff0"/>
<rect x="368.40" y="165.02" width="2.15" height="45.67" fill="#e6eef3"/>
<rect x="370.50" y="165.02" width="4.05" height="45.67" fill="#eaeef2"/>
<rect x="374.50" y="165.02" width="1.95" height="45.67" fill="#c0dcec"/>
<rect x="376.40" y="165.02" width="2.05" height="45.67" fill="#a9cfe4"/>
<rect x="378.40" y="165.02" width="2.65" height="45.67" fill="#d6e7f1"/>
<rect x="381.00" y="165.02" width="3.35" height="45.67" fill="#c5def0"/>
<rect x="384.30" y="165.02" width="1.35" height="45.67" fill="#f0eae8"/>
<rect x="385.60" y="165.02" width="1.35" height="45.67" fill="#5a98ca"/>
<rect x="386.90" y="165.02" width="1.45" height="45.67" fill="#9ecae1"/>
<rect x="388.30" y="165.02" width="1.35" height="45.67" fill="#2a68a8"/>
<rect x="389.60" y="165.02" width="1.35" height="45.67" fill="#b5d5e8"/>
<rect x="390.90" y="165.02" width="3.35" height="45.67" fill="#a0cae2"/>
<rect x="394.20" y="165.02" width="3.35" height="45.67" fill="#4b8cc6"/>
<rect x="397.50" y="165.02" width="1.95" height="45.67" fill="#3a7cbb"/>
<rect x="399.40" y="165.02" width="2.65" height="45.67" fill="#5e9dcd"/>
<rect x="402.00" y="165.02" width="2.05" height="45.67" fill="#9dc9e1"/>
<rect x="404.00" y="165.02" width="2.05" height="45.67" fill="#4a8ac4"/>
<rect x="406.00" y="165.02" width="2.65" height="45.67" fill="#6ba6d2"/>
<rect x="408.60" y="165.02" width="3.35" height="45.67" fill="#80b6d9"/>
<rect x="411.90" y="165.02" width="3.35" height="45.67" fill="#64a1cf"/>
<rect x="415.20" y="165.02" width="2.65" height="45.67" fill="#a8cfe4"/>
<rect x="417.80" y="165.02" width="2.05" height="45.67" fill="#c0dcec"/>
<rect x="419.80" y="165.02" width="2.05" height="45.67" fill="#3b7dbc"/>
<rect x="421.80" y="165.02" width="2.65" height="45.67" fill="#5c9bcd"/>
<rect x="424.40" y="165.02" width="2.65" height="45.67" fill="#8dbfdd"/>
<rect x="427.00" y="165.02" width="2.65" height="45.67" fill="#80b6d9"/>
<rect x="429.60" y="165.02" width="2.05" height="45.67" fill="#b0d3e7"/>
<rect x="431.60" y="165.02" width="1.35" height="45.67" fill="#f0f2f4"/>
<rect x="432.90" y="165.02" width="2.05" height="45.67" fill="#5d9ccd"/>
<rect x="434.90" y="165.02" width="3.35" height="45.67" fill="#5e9ccd"/>
<rect x="438.20" y="165.02" width="2.05" height="45.67" fill="#4585c2"/>
<rect x="440.20" y="165.02" width="1.95" height="45.67" fill="#6aa5d2"/>
<rect x="442.10" y="165.02" width="2.05" height="45.67" fill="#98c6e0"/>
<rect x="444.10" y="165.02" width="3.95" height="45.67" fill="#8fc0dd"/>
<rect x="448.00" y="165.02" width="2.05" height="45.67" fill="#98c6e0"/>
<rect x="450.00" y="165.02" width="2.05" height="45.67" fill="#5090c8"/>
<rect x="452.00" y="165.02" width="1.95" height="45.67" fill="#3a7cbb"/>
<rect x="453.90" y="165.02" width="2.65" height="45.67" fill="#5e9dcd"/>
<rect x="456.50" y="165.02" width="2.05" height="45.67" fill="#f8e0d4"/>
<rect x="458.50" y="165.02" width="2.65" height="45.67" fill="#cce2ee"/>
<rect x="461.10" y="165.02" width="2.75" height="45.67" fill="#c0dcec"/>
<rect x="463.80" y="165.02" width="1.95" height="45.67" fill="#f8d4c0"/>
<rect x="465.70" y="165.02" width="2.75" height="45.67" fill="#dde9f2"/>
<rect x="468.40" y="165.02" width="2.65" height="45.67" fill="#b0d3e7"/>
<rect x="471.00" y="165.02" width="2.65" height="45.67" fill="#cde3ef"/>
<rect x="473.60" y="165.02" width="2.75" height="45.67" fill="#6aa6d2"/>
<rect x="476.30" y="165.02" width="3.25" height="45.67" fill="#a8cfe4"/>
<rect x="479.50" y="165.02" width="2.05" height="45.67" fill="#eaeef2"/>
<rect x="481.50" y="165.02" width="2.05" height="45.67" fill="#f6d8c8"/>
<rect x="483.50" y="165.02" width="2.05" height="45.67" fill="#a0c8e0"/>
<rect x="485.50" y="165.02" width="3.25" height="45.67" fill="#f0a080"/>
<rect x="488.70" y="165.02" width="2.75" height="45.67" fill="#f2a888"/>
<rect x="491.40" y="165.02" width="2.65" height="45.67" fill="#f8c4a8"/>
<rect x="494.00" y="165.02" width="2.65" height="45.67" fill="#f0a080"/>
<rect x="496.60" y="165.02" width="2.65" height="45.67" fill="#fad8c4"/>
<rect x="499.20" y="165.02" width="4.05" height="45.67" fill="#fbe2d4"/>
<rect x="503.20" y="165.02" width="2.65" height="45.67" fill="#f8eae4"/>
<rect x="505.80" y="165.02" width="2.65" height="45.67" fill="#f2a888"/>
<rect x="508.40" y="165.02" width="2.75" height="45.67" fill="#f9d6c4"/>
<rect x="511.10" y="165.02" width="2.65" height="45.67" fill="#f6c0a8"/>
<rect x="513.70" y="165.02" width="2.65" height="45.67" fill="#f6ece8"/>
<rect x="516.30" y="165.02" width="3.35" height="45.67" fill="#f4e4e0"/>
<rect x="519.60" y="165.02" width="3.35" height="45.67" fill="#fad8c4"/>
<rect x="522.90" y="165.02" width="2.65" height="45.67" fill="#f0a080"/>
<rect x="525.50" y="165.02" width="2.75" height="45.67" fill="#f4b090"/>
<rect x="528.20" y="165.02" width="2.65" height="45.67" fill="#d86050"/>
<rect x="530.80" y="165.02" width="2.65" height="45.67" fill="#e47c64"/>
<rect x="533.40" y="165.02" width="2.65" height="45.67" fill="#ec9478"/>
<rect x="536.00" y="165.02" width="2.05" height="45.67" fill="#c84a40"/>
<rect x="538.00" y="165.02" width="2.05" height="45.67" fill="#d86452"/>
<rect x="540.00" y="165.02" width="4.05" height="45.67" fill="#d4604e"/>
<rect x="544.00" y="165.02" width="2.75" height="45.67" fill="#ec9070"/>
<rect x="546.70" y="165.02" width="2.15" height="45.67" fill="#f4b898"/>
<rect x="548.80" y="165.02" width="4.05" height="45.67" fill="#dc6a58"/>
<rect x="552.80" y="165.02" width="2.05" height="45.67" fill="#ec9478"/>
<rect x="554.80" y="165.02" width="4.05" height="45.67" fill="#e48068"/>
<rect x="558.80" y="165.02" width="2.75" height="45.67" fill="#f4b090"/>
<rect x="561.50" y="165.02" width="2.75" height="45.67" fill="#d05448"/>
<rect x="564.20" y="165.02" width="2.75" height="45.67" fill="#d45a4a"/>
<rect x="566.90" y="165.02" width="2.75" height="45.67" fill="#e88870"/>
<rect x="569.60" y="165.02" width="2.75" height="45.67" fill="#b83040"/>
<rect x="572.30" y="165.02" width="3.35" height="45.67" fill="#c84a44"/>
<rect x="575.60" y="165.02" width="3.45" height="45.67" fill="#b02838"/>
<rect x="579.00" y="165.02" width="2.75" height="45.67" fill="#fbdcc8"/>
<rect x="581.70" y="165.02" width="2.65" height="45.67" fill="#f0a080"/>
<rect x="584.30" y="165.02" width="2.75" height="45.67" fill="#e07560"/>
<rect x="587.00" y="165.02" width="2.75" height="45.67" fill="#f4b090"/>
<rect x="589.70" y="165.02" width="2.75" height="45.67" fill="#d86250"/>
<rect x="592.40" y="165.02" width="3.45" height="45.67" fill="#d45c4c"/>
<rect x="595.80" y="165.02" width="2.75" height="45.67" fill="#f09880"/>
<rect x="598.50" y="165.02" width="2.05" height="45.67" fill="#f8dcd0"/>
<rect x="600.50" y="165.02" width="2.75" height="45.67" fill="#f8ecea"/>
<rect x="603.20" y="165.02" width="2.65" height="45.67" fill="#f4b090"/>
<rect x="605.80" y="165.02" width="2.75" height="45.67" fill="#f6f0ec"/>
<rect x="608.50" y="165.02" width="2.75" height="45.67" fill="#f6c0a4"/>
<rect x="611.20" y="165.02" width="4.05" height="45.67" fill="#f6bca0"/>
<rect x="615.20" y="165.02" width="2.75" height="45.67" fill="#f8e0d8"/>
<rect x="617.90" y="165.02" width="2.75" height="45.67" fill="#f4b8a0"/>
<rect x="620.60" y="165.02" width="3.45" height="45.67" fill="#f8ece8"/>
<rect x="624.00" y="165.02" width="3.25" height="45.67" fill="#f4bca4"/>
<text x="632.90" y="191.82" font-size="10.5" textLength="26.50" lengthAdjust="spacingAndGlyphs" fill="#1a1a1a">Heart</text>
<rect x="361.00" y="210.63" width="1.65" height="45.67" fill="#a8cfe4"/>
<rect x="362.60" y="210.63" width="2.05" height="45.67" fill="#dfe8ef"/>
<rect x="364.60" y="210.63" width="2.05" height="45.67" fill="#b8d8ea"/>
<rect x="366.60" y="210.63" width="1.95" height="45.67" fill="#f4e0d8"/>
<rect x="368.50" y="210.63" width="2.05" height="45.67" fill="#b0d3e7"/>
<rect x="370.50" y="210.63" width="2.65" height="45.67" fill="#d8e8f2"/>
<rect x="373.10" y="210.63" width="2.75" height="45.67" fill="#a8cfe4"/>
<rect x="375.80" y="210.63" width="2.65" height="45.67" fill="#e2ecf3"/>
<rect x="378.40" y="210.63" width="2.05" height="45.67" fill="#bcd9ea"/>
<rect x="380.40" y="210.63" width="1.95" height="45.67" fill="#f6ccb4"/>
<rect x="382.30" y="210.63" width="2.75" height="45.67" fill="#d4e6f1"/>
<rect x="385.00" y="210.63" width="2.65" height="45.67" fill="#c0dcec"/>
<rect x="387.60" y="210.63" width="2.05" height="45.67" fill="#5a98ca"/>
<rect x="389.60" y="210.63" width="2.65" height="45.67" fill="#3e80be"/>
<rect x="392.20" y="210.63" width="3.95" height="45.67" fill="#2060a4"/>
<rect x="396.10" y="210.63" width="3.35" height="45.67" fill="#2d6dae"/>
<rect x="399.40" y="210.63" width="2.65" height="45.67" fill="#4a8ac4"/>
<rect x="402.00" y="210.63" width="3.35" height="45.67" fill="#3a7bbb"/>
<rect x="405.30" y="210.63" width="2.05" height="45.67" fill="#98c6e0"/>
<rect x="407.30" y="210.63" width="2.05" height="45.67" fill="#5e9dcd"/>
<rect x="409.30" y="210.63" width="1.95" height="45.67" fill="#b5d5e8"/>
<rect x="411.20" y="210.63" width="2.05" height="45.67" fill="#f0e4e4"/>
<rect x="413.20" y="210.63" width="2.05" height="45.67" fill="#a8cfe4"/>
<rect x="415.20" y="210.63" width="3.35" height="45.67" fill="#5e9dcd"/>
<rect x="418.50" y="210.63" width="3.35" height="45.67" fill="#6aa6d2"/>
<rect x="421.80" y="210.63" width="2.65" height="45.67" fill="#5090c8"/>
<rect x="424.40" y="210.63" width="2.65" height="45.67" fill="#8ec0dd"/>
<rect x="427.00" y="210.63" width="2.65" height="45.67" fill="#5e9dcd"/>
<rect x="429.60" y="210.63" width="2.05" height="45.67" fill="#a9cfe4"/>
<rect x="431.60" y="210.63" width="2.05" height="45.67" fill="#5090c8"/>
<rect x="433.60" y="210.63" width="3.95" height="45.67" fill="#3a7cbb"/>
<rect x="437.50" y="210.63" width="2.05" height="45.67" fill="#5a98ca"/>
<rect x="439.50" y="210.63" width="2.65" height="45.67" fill="#d8e8f2"/>
<rect x="442.10" y="210.63" width="3.35" height="45.67" fill="#dce9f2"/>
<rect x="445.40" y="210.63" width="2.65" height="45.67" fill="#b0d3e7"/>
<rect x="448.00" y="210.63" width="2.65" height="45.67" fill="#a4cce3"/>
<rect x="450.60" y="210.63" width="2.75" height="45.67" fill="#b5d5e8"/>
<rect x="453.30" y="210.63" width="3.25" height="45.67" fill="#aed1e6"/>
<rect x="456.50" y="210.63" width="2.75" height="45.67" fill="#9ac6e0"/>
<rect x="459.20" y="210.63" width="3.35" height="45.67" fill="#2f70b2"/>
<rect x="462.50" y="210.63" width="2.65" height="45.67" fill="#4a8ac4"/>
<rect x="465.10" y="210.63" width="2.65" height="45.67" fill="#6ba6d2"/>
<rect x="467.70" y="210.63" width="2.05" height="45.67" fill="#e0ecf4"/>
<rect x="469.70" y="210.63" width="2.65" height="45.67" fill="#b0d3e7"/>
<rect x="472.30" y="210.63" width="2.05" height="45.67" fill="#c8e0ee"/>
<rect x="474.30" y="210.63" width="2.05" height="45.67" fill="#5e9dcd"/>
<rect x="476.30" y="210.63" width="2.65" height="45.67" fill="#6aa6d2"/>
<rect x="478.90" y="210.63" width="2.05" height="45.67" fill="#e8dcdc"/>
<rect x="480.90" y="210.63" width="1.95" height="45.67" fill="#f4b898"/>
<rect x="482.80" y="210.63" width="2.05" height="45.67" fill="#ec9070"/>
<rect x="484.80" y="210.63" width="2.65" height="45.67" fill="#e07058"/>
<rect x="487.40" y="210.63" width="4.05" height="45.67" fill="#ec9070"/>
<rect x="491.40" y="210.63" width="1.95" height="45.67" fill="#e47c64"/>
<rect x="493.30" y="210.63" width="2.75" height="45.67" fill="#f4b898"/>
<rect x="496.00" y="210.63" width="3.95" height="45.67" fill="#e4eef6"/>
<rect x="499.90" y="210.63" width="2.05" height="45.67" fill="#fad8c4"/>
<rect x="501.90" y="210.63" width="2.65" height="45.67" fill="#f6bca0"/>
<rect x="504.50" y="210.63" width="2.65" height="45.67" fill="#ee9a7c"/>
<rect x="507.10" y="210.63" width="2.75" height="45.67" fill="#e27860"/>
<rect x="509.80" y="210.63" width="1.95" height="45.67" fill="#ec9070"/>
<rect x="511.70" y="210.63" width="2.75" height="45.67" fill="#f0a080"/>
<rect x="514.40" y="210.63" width="2.65" height="45.67" fill="#f6c0a0"/>
<rect x="517.00" y="210.63" width="2.05" height="45.67" fill="#f8d0b8"/>
<rect x="519.00" y="210.63" width="2.65" height="45.67" fill="#d05448"/>
<rect x="521.60" y="210.63" width="2.65" height="45.67" fill="#e07058"/>
<rect x="524.20" y="210.63" width="2.65" height="45.67" fill="#ec9070"/>
<rect x="526.80" y="210.63" width="2.05" height="45.67" fill="#d05848"/>
<rect x="528.80" y="210.63" width="3.35" height="45.67" fill="#e07860"/>
<rect x="532.10" y="210.63" width="2.65" height="45.67" fill="#f8d4c0"/>
<rect x="534.70" y="210.63" width="3.35" height="45.67" fill="#e07058"/>
<rect x="538.00" y="210.63" width="2.75" height="45.67" fill="#ec9070"/>
<rect x="540.70" y="210.63" width="2.75" height="45.67" fill="#f4b898"/>
<rect x="543.40" y="210.63" width="2.05" height="45.67" fill="#ee9a7c"/>
<rect x="545.40" y="210.63" width="2.75" height="45.67" fill="#e47c64"/>
<rect x="548.10" y="210.63" width="2.05" height="45.67" fill="#f6c0a0"/>
<rect x="550.10" y="210.63" width="3.45" height="45.67" fill="#f0a080"/>
<rect x="553.50" y="210.63" width="2.65" height="45.67" fill="#ec9070"/>
<rect x="556.10" y="210.63" width="4.15" height="45.67" fill="#e07860"/>
<rect x="560.20" y="210.63" width="2.75" height="45.67" fill="#ec9478"/>
<rect x="562.90" y="210.63" width="2.65" height="45.67" fill="#f6c0a0"/>
<rect x="565.50" y="210.63" width="3.45" height="45.67" fill="#c84040"/>
<rect x="568.90" y="210.63" width="3.45" height="45.67" fill="#b02030"/>
<rect x="572.30" y="210.63" width="2.75" height="45.67" fill="#c84040"/>
<rect x="575.00" y="210.63" width="3.35" height="45.67" fill="#b82838"/>
<rect x="578.30" y="210.63" width="2.05" height="45.67" fill="#f6ece8"/>
<rect x="580.30" y="210.63" width="2.75" height="45.67" fill="#dae8f2"/>
<rect x="583.00" y="210.63" width="2.05" height="45.67" fill="#f8e0d8"/>
<rect x="585.00" y="210.63" width="3.45" height="45.67" fill="#c8e0ee"/>
<rect x="588.40" y="210.63" width="2.75" height="45.67" fill="#f4b090"/>
<rect x="591.10" y="210.63" width="4.05" height="45.67" fill="#f8e8e4"/>
<rect x="595.10" y="210.63" width="1.35" height="45.67" fill="#f8e0d8"/>
<rect x="596.40" y="210.63" width="2.75" height="45.67" fill="#c84040"/>
<rect x="599.10" y="210.63" width="2.75" height="45.67" fill="#f8dcc8"/>
<rect x="601.80" y="210.63" width="2.75" height="45.67" fill="#f4b090"/>
<rect x="604.50" y="210.63" width="3.35" height="45.67" fill="#f6f0ec"/>
<rect x="607.80" y="210.63" width="3.45" height="45.67" fill="#f6c0a4"/>
<rect x="611.20" y="210.63" width="2.75" height="45.67" fill="#f8d4c0"/>
<rect x="613.90" y="210.63" width="2.75" height="45.67" fill="#f8e8e0"/>
<rect x="616.60" y="210.63" width="2.75" height="45.67" fill="#c0dcec"/>
<rect x="619.30" y="210.63" width="4.05" height="45.67" fill="#a8d0e4"/>
<rect x="623.30" y="210.63" width="2.05" height="45.67" fill="#f6ece8"/>
<rect x="625.30" y="210.63" width="1.95" height="45.67" fill="#f4f0ee"/>
<text x="632.90" y="237.84" font-size="10.5" textLength="19.60" lengthAdjust="spacingAndGlyphs" fill="#1a1a1a">Skin</text>
<rect x="361.00" y="256.25" width="1.65" height="45.67" fill="#9ec8e0"/>
<rect x="362.60" y="256.25" width="2.75" height="45.67" fill="#e0eaf2"/>
<rect x="365.30" y="256.25" width="1.95" height="45.67" fill="#b8d8ea"/>
<rect x="367.20" y="256.25" width="2.05" height="45.67" fill="#c8d0d8"/>
<rect x="369.20" y="256.25" width="2.05" height="45.67" fill="#eceef0"/>
<rect x="371.20" y="256.25" width="2.65" height="45.67" fill="#b0d3e7"/>
<rect x="373.80" y="256.25" width="2.65" height="45.67" fill="#a0cae2"/>
<rect x="376.40" y="256.25" width="2.05" height="45.67" fill="#e0eaf2"/>
<rect x="378.40" y="256.25" width="2.65" height="45.67" fill="#f8dcd0"/>
<rect x="381.00" y="256.25" width="3.35" height="45.67" fill="#e0e8f0"/>
<rect x="384.30" y="256.25" width="3.35" height="45.67" fill="#d6e6f0"/>
<rect x="387.60" y="256.25" width="3.35" height="45.67" fill="#2262a6"/>
<rect x="390.90" y="256.25" width="3.35" height="45.67" fill="#5a98ca"/>
<rect x="394.20" y="256.25" width="2.65" height="45.67" fill="#3070b2"/>
<rect x="396.80" y="256.25" width="2.65" height="45.67" fill="#5e9dcd"/>
<rect x="399.40" y="256.25" width="2.65" height="45.67" fill="#8ec0dd"/>
<rect x="402.00" y="256.25" width="4.65" height="45.67" fill="#1e5ea2"/>
<rect x="406.60" y="256.25" width="2.75" height="45.67" fill="#3878b8"/>
<rect x="409.30" y="256.25" width="2.65" height="45.67" fill="#d8e8f2"/>
<rect x="411.90" y="256.25" width="3.35" height="45.67" fill="#a8cfe4"/>
<rect x="415.20" y="256.25" width="2.65" height="45.67" fill="#b8d8ea"/>
<rect x="417.80" y="256.25" width="2.65" height="45.67" fill="#6aa6d2"/>
<rect x="420.40" y="256.25" width="2.75" height="45.67" fill="#a0cae2"/>
<rect x="423.10" y="256.25" width="2.65" height="45.67" fill="#5a98ca"/>
<rect x="425.70" y="256.25" width="2.65" height="45.67" fill="#6aa6d2"/>
<rect x="428.30" y="256.25" width="2.75" height="45.67" fill="#3a7cbb"/>
<rect x="431.00" y="256.25" width="1.95" height="45.67" fill="#e0ecf4"/>
<rect x="432.90" y="256.25" width="2.75" height="45.67" fill="#b0d3e7"/>
<rect x="435.60" y="256.25" width="3.25" height="45.67" fill="#6aa6d2"/>
<rect x="438.80" y="256.25" width="3.35" height="45.67" fill="#a8cfe4"/>
<rect x="442.10" y="256.25" width="3.35" height="45.67" fill="#d0e4f0"/>
<rect x="445.40" y="256.25" width="2.05" height="45.67" fill="#8ec0dd"/>
<rect x="447.40" y="256.25" width="2.65" height="45.67" fill="#5a98ca"/>
<rect x="450.00" y="256.25" width="0.65" height="45.67" fill="#98c6e0"/>
<rect x="450.60" y="256.25" width="2.75" height="45.67" fill="#a8cfe4"/>
<rect x="453.30" y="256.25" width="3.25" height="45.67" fill="#8ec0dd"/>
<rect x="456.50" y="256.25" width="2.05" height="45.67" fill="#b0d3e7"/>
<rect x="458.50" y="256.25" width="2.65" height="45.67" fill="#eaeef2"/>
<rect x="461.10" y="256.25" width="4.05" height="45.67" fill="#c8e0ee"/>
<rect x="465.10" y="256.25" width="3.95" height="45.67" fill="#dce9f2"/>
<rect x="469.00" y="256.25" width="3.35" height="45.67" fill="#4a8ac4"/>
<rect x="472.30" y="256.25" width="4.65" height="45.67" fill="#5a98ca"/>
<rect x="476.90" y="256.25" width="2.05" height="45.67" fill="#3575b5"/>
<rect x="478.90" y="256.25" width="2.05" height="45.67" fill="#d8e0e8"/>
<rect x="480.90" y="256.25" width="1.95" height="45.67" fill="#f2eeee"/>
<rect x="482.80" y="256.25" width="2.75" height="45.67" fill="#f6c0a4"/>
<rect x="485.50" y="256.25" width="1.95" height="45.67" fill="#f09c80"/>
<rect x="487.40" y="256.25" width="2.65" height="45.67" fill="#f4b090"/>
<rect x="490.00" y="256.25" width="2.75" height="45.67" fill="#f8d4c0"/>
<rect x="492.70" y="256.25" width="2.65" height="45.67" fill="#ee9a7c"/>
<rect x="495.30" y="256.25" width="3.35" height="45.67" fill="#d05848"/>
<rect x="498.60" y="256.25" width="3.35" height="45.67" fill="#dc6a58"/>
<rect x="501.90" y="256.25" width="3.95" height="45.67" fill="#f8ece6"/>
<rect x="505.80" y="256.25" width="3.35" height="45.67" fill="#eef0f2"/>
<rect x="509.10" y="256.25" width="2.65" height="45.67" fill="#e07860"/>
<rect x="511.70" y="256.25" width="2.75" height="45.67" fill="#ee9a7c"/>
<rect x="514.40" y="256.25" width="3.25" height="45.67" fill="#f6c0a4"/>
<rect x="517.60" y="256.25" width="4.05" height="45.67" fill="#f8d4c0"/>
<rect x="521.60" y="256.25" width="2.65" height="45.67" fill="#dc6a58"/>
<rect x="524.20" y="256.25" width="4.05" height="45.67" fill="#d05848"/>
<rect x="528.20" y="256.25" width="3.25" height="45.67" fill="#e07058"/>
<rect x="531.40" y="256.25" width="3.35" height="45.67" fill="#a81c30"/>
<rect x="534.70" y="256.25" width="1.35" height="45.67" fill="#dc6a58"/>
<rect x="536.00" y="256.25" width="2.75" height="45.67" fill="#e07058"/>
<rect x="538.70" y="256.25" width="2.05" height="45.67" fill="#f0a080"/>
<rect x="540.70" y="256.25" width="2.75" height="45.67" fill="#e07860"/>
<rect x="543.40" y="256.25" width="2.05" height="45.67" fill="#ec9070"/>
<rect x="545.40" y="256.25" width="3.45" height="45.67" fill="#dc6a58"/>
<rect x="548.80" y="256.25" width="1.35" height="45.67" fill="#f0a080"/>
<rect x="550.10" y="256.25" width="2.05" height="45.67" fill="#fbe8e0"/>
<rect x="552.10" y="256.25" width="3.45" height="45.67" fill="#f6c0a4"/>
<rect x="555.50" y="256.25" width="3.35" height="45.67" fill="#ec9070"/>
<rect x="558.80" y="256.25" width="4.15" height="45.67" fill="#f0a080"/>
<rect x="562.90" y="256.25" width="1.35" height="45.67" fill="#dc6a58"/>
<rect x="564.20" y="256.25" width="6.05" height="45.67" fill="#ec8c70"/>
<rect x="570.20" y="256.25" width="2.15" height="45.67" fill="#c84040"/>
<rect x="572.30" y="256.25" width="4.05" height="45.67" fill="#b82030"/>
<rect x="576.30" y="256.25" width="2.05" height="45.67" fill="#d05848"/>
<rect x="578.30" y="256.25" width="3.45" height="45.67" fill="#f4ecec"/>
<rect x="581.70" y="256.25" width="2.65" height="45.67" fill="#ee9a7c"/>
<rect x="584.30" y="256.25" width="2.75" height="45.67" fill="#e07860"/>
<rect x="587.00" y="256.25" width="2.05" height="45.67" fill="#f6c0a4"/>
<rect x="589.00" y="256.25" width="2.15" height="45.67" fill="#f0a080"/>
<rect x="591.10" y="256.25" width="2.05" height="45.67" fill="#f6bca0"/>
<rect x="593.10" y="256.25" width="2.75" height="45.67" fill="#f8dcd0"/>
<rect x="595.80" y="256.25" width="2.05" height="45.67" fill="#e8eef2"/>
<rect x="597.80" y="256.25" width="3.35" height="45.67" fill="#f8d4c0"/>
<rect x="601.10" y="256.25" width="2.15" height="45.67" fill="#f4b898"/>
<rect x="603.20" y="256.25" width="4.05" height="45.67" fill="#fbdcd0"/>
<rect x="607.20" y="256.25" width="2.75" height="45.67" fill="#f8e0d8"/>
<rect x="609.90" y="256.25" width="2.75" height="45.67" fill="#f6c0a4"/>
<rect x="612.60" y="256.25" width="4.05" height="45.67" fill="#f6c4a8"/>
<rect x="616.60" y="256.25" width="2.05" height="45.67" fill="#6aa6d2"/>
<rect x="618.60" y="256.25" width="3.45" height="45.67" fill="#e4ecf2"/>
<rect x="622.00" y="256.25" width="2.65" height="45.67" fill="#f4e4e0"/>
<rect x="624.60" y="256.25" width="2.65" height="45.67" fill="#eceef0"/>
<text x="632.90" y="283.86" font-size="10.5" textLength="23.20" lengthAdjust="spacingAndGlyphs" fill="#1a1a1a">Lung</text>
<rect x="361.00" y="301.87" width="0.35" height="45.67" fill="#c8d4e4"/>
<rect x="361.30" y="301.87" width="2.65" height="45.67" fill="#e0eaf2"/>
<rect x="363.90" y="301.87" width="2.05" height="45.67" fill="#c8e0ee"/>
<rect x="365.90" y="301.87" width="2.05" height="45.67" fill="#f0f0f2"/>
<rect x="367.90" y="301.87" width="2.05" height="45.67" fill="#f4b090"/>
<rect x="369.90" y="301.87" width="2.65" height="45.67" fill="#eef0f2"/>
<rect x="372.50" y="301.87" width="2.05" height="45.67" fill="#c8e0ee"/>
<rect x="374.50" y="301.87" width="5.25" height="45.67" fill="#f0f0f2"/>
<rect x="379.70" y="301.87" width="2.05" height="45.67" fill="#f8c8b0"/>
<rect x="381.70" y="301.87" width="2.65" height="45.67" fill="#f8ece8"/>
<rect x="384.30" y="301.87" width="3.35" height="45.67" fill="#f8d4c0"/>
<rect x="387.60" y="301.87" width="2.65" height="45.67" fill="#5a98ca"/>
<rect x="390.20" y="301.87" width="4.05" height="45.67" fill="#4a8ac4"/>
<rect x="394.20" y="301.87" width="3.35" height="45.67" fill="#3a7cbb"/>
<rect x="397.50" y="301.87" width="2.65" height="45.67" fill="#2565a8"/>
<rect x="400.10" y="301.87" width="1.95" height="45.67" fill="#5090c8"/>
<rect x="402.00" y="301.87" width="2.75" height="45.67" fill="#2060a4"/>
<rect x="404.70" y="301.87" width="2.65" height="45.67" fill="#3e80be"/>
<rect x="407.30" y="301.87" width="3.35" height="45.67" fill="#4a8ac4"/>
<rect x="410.60" y="301.87" width="3.35" height="45.67" fill="#3a7cbb"/>
<rect x="413.90" y="301.87" width="2.65" height="45.67" fill="#9ecae1"/>
<rect x="416.50" y="301.87" width="2.65" height="45.67" fill="#5e9dcd"/>
<rect x="419.10" y="301.87" width="4.05" height="45.67" fill="#6ba6d2"/>
<rect x="423.10" y="301.87" width="3.95" height="45.67" fill="#5a98ca"/>
<rect x="427.00" y="301.87" width="2.65" height="45.67" fill="#3a7cbb"/>
<rect x="429.60" y="301.87" width="2.05" height="45.67" fill="#b0d3e7"/>
<rect x="431.60" y="301.87" width="3.35" height="45.67" fill="#9ecae1"/>
<rect x="434.90" y="301.87" width="2.65" height="45.67" fill="#6aa6d2"/>
<rect x="437.50" y="301.87" width="4.05" height="45.67" fill="#b8d8ea"/>
<rect x="441.50" y="301.87" width="2.65" height="45.67" fill="#c0dcec"/>
<rect x="444.10" y="301.87" width="2.65" height="45.67" fill="#6aa6d2"/>
<rect x="446.70" y="301.87" width="1.35" height="45.67" fill="#8ec0dd"/>
<rect x="448.00" y="301.87" width="2.05" height="45.67" fill="#9ecae1"/>
<rect x="450.00" y="301.87" width="3.35" height="45.67" fill="#4a8ac4"/>
<rect x="453.30" y="301.87" width="2.65" height="45.67" fill="#5e9dcd"/>
<rect x="455.90" y="301.87" width="2.65" height="45.67" fill="#6aa6d2"/>
<rect x="458.50" y="301.87" width="2.05" height="45.67" fill="#f0f2f4"/>
<rect x="460.50" y="301.87" width="2.05" height="45.67" fill="#b0d3e7"/>
<rect x="462.50" y="301.87" width="2.65" height="45.67" fill="#c8e0ee"/>
<rect x="465.10" y="301.87" width="2.65" height="45.67" fill="#a8cfe4"/>
<rect x="467.70" y="301.87" width="2.65" height="45.67" fill="#c0dcec"/>
<rect x="470.30" y="301.87" width="2.75" height="45.67" fill="#b5d5e8"/>
<rect x="473.00" y="301.87" width="2.65" height="45.67" fill="#a8cfe4"/>
<rect x="475.60" y="301.87" width="3.35" height="45.67" fill="#b0d3e7"/>
<rect x="478.90" y="301.87" width="1.35" height="45.67" fill="#3a7cbb"/>
<rect x="480.20" y="301.87" width="2.05" height="45.67" fill="#f8f4f2"/>
<rect x="482.20" y="301.87" width="2.65" height="45.67" fill="#f6bca0"/>
<rect x="484.80" y="301.87" width="2.65" height="45.67" fill="#d45c4c"/>
<rect x="487.40" y="301.87" width="2.05" height="45.67" fill="#ec9070"/>
<rect x="489.40" y="301.87" width="2.65" height="45.67" fill="#d05848"/>
<rect x="492.00" y="301.87" width="2.05" height="45.67" fill="#f4a888"/>
<rect x="494.00" y="301.87" width="2.65" height="45.67" fill="#fbe0d4"/>
<rect x="496.60" y="301.87" width="2.65" height="45.67" fill="#f8dcd0"/>
<rect x="499.20" y="301.87" width="2.05" height="45.67" fill="#f6c4a8"/>
<rect x="501.20" y="301.87" width="3.35" height="45.67" fill="#f6bca0"/>
<rect x="504.50" y="301.87" width="3.35" height="45.67" fill="#f0a080"/>
<rect x="507.80" y="301.87" width="2.05" height="45.67" fill="#f4eeec"/>
<rect x="509.80" y="301.87" width="2.65" height="45.67" fill="#ec9070"/>
<rect x="512.40" y="301.87" width="2.05" height="45.67" fill="#e47c64"/>
<rect x="514.40" y="301.87" width="1.95" height="45.67" fill="#f6c0a4"/>
<rect x="516.30" y="301.87" width="3.35" height="45.67" fill="#f0a080"/>
<rect x="519.60" y="301.87" width="2.65" height="45.67" fill="#dc6a58"/>
<rect x="522.20" y="301.87" width="3.35" height="45.67" fill="#ec9070"/>
<rect x="525.50" y="301.87" width="2.75" height="45.67" fill="#f6c0a0"/>
<rect x="528.20" y="301.87" width="2.65" height="45.67" fill="#ee9878"/>
<rect x="530.80" y="301.87" width="3.35" height="45.67" fill="#e47c64"/>
<rect x="534.10" y="301.87" width="1.95" height="45.67" fill="#d45c4c"/>
<rect x="536.00" y="301.87" width="2.05" height="45.67" fill="#a81828"/>
<rect x="538.00" y="301.87" width="2.05" height="45.67" fill="#d05848"/>
<rect x="540.00" y="301.87" width="3.45" height="45.67" fill="#dc6a58"/>
<rect x="543.40" y="301.87" width="3.35" height="45.67" fill="#ec9070"/>
<rect x="546.70" y="301.87" width="2.75" height="45.67" fill="#dc6a58"/>
<rect x="549.40" y="301.87" width="3.45" height="45.67" fill="#ec9070"/>
<rect x="552.80" y="301.87" width="2.75" height="45.67" fill="#e07058"/>
<rect x="555.50" y="301.87" width="3.35" height="45.67" fill="#ec9070"/>
<rect x="558.80" y="301.87" width="5.45" height="45.67" fill="#dc6a58"/>
<rect x="564.20" y="301.87" width="3.45" height="45.67" fill="#ec8c70"/>
<rect x="567.60" y="301.87" width="2.65" height="45.67" fill="#b82838"/>
<rect x="570.20" y="301.87" width="1.45" height="45.67" fill="#f09c80"/>
<rect x="571.60" y="301.87" width="4.75" height="45.67" fill="#c04040"/>
<rect x="576.30" y="301.87" width="2.75" height="45.67" fill="#dc6a58"/>
<rect x="579.00" y="301.87" width="2.75" height="45.67" fill="#e07860"/>
<rect x="581.70" y="301.87" width="1.35" height="45.67" fill="#f6f0ec"/>
<rect x="583.00" y="301.87" width="3.45" height="45.67" fill="#e07860"/>
<rect x="586.40" y="301.87" width="2.65" height="45.67" fill="#f8d4c0"/>
<rect x="589.00" y="301.87" width="3.45" height="45.67" fill="#fbe0d4"/>
<rect x="592.40" y="301.87" width="3.45" height="45.67" fill="#f8d8c8"/>
<rect x="595.80" y="301.87" width="2.75" height="45.67" fill="#c8e0ee"/>
<rect x="598.50" y="301.87" width="2.05" height="45.67" fill="#f8dcd0"/>
<rect x="600.50" y="301.87" width="2.05" height="45.67" fill="#e07058"/>
<rect x="602.50" y="301.87" width="1.35" height="45.67" fill="#f6f0ec"/>
<rect x="603.80" y="301.87" width="2.05" height="45.67" fill="#f6c0a4"/>
<rect x="605.80" y="301.87" width="3.45" height="45.67" fill="#fbdcd0"/>
<rect x="609.20" y="301.87" width="3.45" height="45.67" fill="#f0a080"/>
<rect x="612.60" y="301.87" width="2.65" height="45.67" fill="#f8dcd0"/>
<rect x="615.20" y="301.87" width="2.15" height="45.67" fill="#e07058"/>
<rect x="617.30" y="301.87" width="2.65" height="45.67" fill="#dce8f0"/>
<rect x="619.90" y="301.87" width="2.75" height="45.67" fill="#fad8c4"/>
<rect x="622.60" y="301.87" width="2.05" height="45.67" fill="#b0d3e7"/>
<rect x="624.60" y="301.87" width="2.65" height="45.67" fill="#c8e0ee"/>
<text x="632.90" y="329.88" font-size="10.5" textLength="33.50" lengthAdjust="spacingAndGlyphs" fill="#1a1a1a">Kidney</text>
<rect x="361.00" y="347.48" width="0.35" height="45.67" fill="#b090a0"/>
<rect x="361.30" y="347.48" width="1.35" height="45.67" fill="#b0d3e7"/>
<rect x="362.60" y="347.48" width="2.75" height="45.67" fill="#f0e0dc"/>
<rect x="365.30" y="347.48" width="1.95" height="45.67" fill="#c0dcec"/>
<rect x="367.20" y="347.48" width="2.75" height="45.67" fill="#f2ebe8"/>
<rect x="369.90" y="347.48" width="2.65" height="45.67" fill="#dce9f2"/>
<rect x="372.50" y="347.48" width="3.35" height="45.67" fill="#eef0f2"/>
<rect x="375.80" y="347.48" width="2.65" height="45.67" fill="#f4e4dc"/>
<rect x="378.40" y="347.48" width="4.65" height="45.67" fill="#f4e0d4"/>
<rect x="383.00" y="347.48" width="3.35" height="45.67" fill="#f6d0b8"/>
<rect x="386.30" y="347.48" width="2.05" height="45.67" fill="#e8e8ec"/>
<rect x="388.30" y="347.48" width="2.65" height="45.67" fill="#8ec0dd"/>
<rect x="390.90" y="347.48" width="2.65" height="45.67" fill="#6aa6d2"/>
<rect x="393.50" y="347.48" width="3.35" height="45.67" fill="#4a8ac4"/>
<rect x="396.80" y="347.48" width="2.65" height="45.67" fill="#3a7cbb"/>
<rect x="399.40" y="347.48" width="2.65" height="45.67" fill="#2565a8"/>
<rect x="402.00" y="347.48" width="3.35" height="45.67" fill="#4a8ac4"/>
<rect x="405.30" y="347.48" width="2.05" height="45.67" fill="#3070b2"/>
<rect x="407.30" y="347.48" width="2.05" height="45.67" fill="#f2f2f4"/>
<rect x="409.30" y="347.48" width="2.65" height="45.67" fill="#3e80be"/>
<rect x="411.90" y="347.48" width="2.65" height="45.67" fill="#6aa6d2"/>
<rect x="414.50" y="347.48" width="3.35" height="45.67" fill="#5a98ca"/>
<rect x="417.80" y="347.48" width="2.65" height="45.67" fill="#6ba6d2"/>
<rect x="420.40" y="347.48" width="4.05" height="45.67" fill="#5e9dcd"/>
<rect x="424.40" y="347.48" width="3.35" height="45.67" fill="#6aa6d2"/>
<rect x="427.70" y="347.48" width="1.95" height="45.67" fill="#3070b2"/>
<rect x="429.60" y="347.48" width="4.05" height="45.67" fill="#b8d8ea"/>
<rect x="433.60" y="347.48" width="2.65" height="45.67" fill="#c8e0ee"/>
<rect x="436.20" y="347.48" width="2.65" height="45.67" fill="#f0e4e4"/>
<rect x="438.80" y="347.48" width="3.35" height="45.67" fill="#e4ecf2"/>
<rect x="442.10" y="347.48" width="2.75" height="45.67" fill="#b0d3e7"/>
<rect x="444.80" y="347.48" width="2.65" height="45.67" fill="#a8cfe4"/>
<rect x="447.40" y="347.48" width="2.65" height="45.67" fill="#c0dcec"/>
<rect x="450.00" y="347.48" width="2.65" height="45.67" fill="#6aa6d2"/>
<rect x="452.60" y="347.48" width="2.65" height="45.67" fill="#8ec0dd"/>
<rect x="455.20" y="347.48" width="2.75" height="45.67" fill="#6aa6d2"/>
<rect x="457.90" y="347.48" width="2.65" height="45.67" fill="#f8ece8"/>
<rect x="460.50" y="347.48" width="3.35" height="45.67" fill="#dae8f2"/>
<rect x="463.80" y="347.48" width="2.65" height="45.67" fill="#4a8ac4"/>
<rect x="466.40" y="347.48" width="2.65" height="45.67" fill="#8ec0dd"/>
<rect x="469.00" y="347.48" width="2.75" height="45.67" fill="#d8e8f2"/>
<rect x="471.70" y="347.48" width="2.65" height="45.67" fill="#c0dcec"/>
<rect x="474.30" y="347.48" width="2.65" height="45.67" fill="#a8cfe4"/>
<rect x="476.90" y="347.48" width="2.65" height="45.67" fill="#e0eaf2"/>
<rect x="479.50" y="347.48" width="2.05" height="45.67" fill="#e07058"/>
<rect x="481.50" y="347.48" width="2.65" height="45.67" fill="#f4b898"/>
<rect x="484.10" y="347.48" width="2.75" height="45.67" fill="#f0a080"/>
<rect x="486.80" y="347.48" width="5.25" height="45.67" fill="#d05848"/>
<rect x="492.00" y="347.48" width="1.35" height="45.67" fill="#b02030"/>
<rect x="493.30" y="347.48" width="2.05" height="45.67" fill="#f6f2ec"/>
<rect x="495.30" y="347.48" width="2.75" height="45.67" fill="#f8d4c0"/>
<rect x="498.00" y="347.48" width="2.65" height="45.67" fill="#f6bca0"/>
<rect x="500.60" y="347.48" width="2.65" height="45.67" fill="#f0a080"/>
<rect x="503.20" y="347.48" width="3.35" height="45.67" fill="#f8d4c0"/>
<rect x="506.50" y="347.48" width="3.35" height="45.67" fill="#fbe0d8"/>
<rect x="509.80" y="347.48" width="1.35" height="45.67" fill="#a04050"/>
<rect x="511.10" y="347.48" width="2.65" height="45.67" fill="#e07058"/>
<rect x="513.70" y="347.48" width="3.95" height="45.67" fill="#d05848"/>
<rect x="517.60" y="347.48" width="4.05" height="45.67" fill="#f8d0b8"/>
<rect x="521.60" y="347.48" width="2.65" height="45.67" fill="#c84040"/>
<rect x="524.20" y="347.48" width="2.65" height="45.67" fill="#f0a080"/>
<rect x="526.80" y="347.48" width="2.75" height="45.67" fill="#f4b898"/>
<rect x="529.50" y="347.48" width="2.65" height="45.67" fill="#e07858"/>
<rect x="532.10" y="347.48" width="2.65" height="45.67" fill="#ec9070"/>
<rect x="534.70" y="347.48" width="1.35" height="45.67" fill="#d86050"/>
<rect x="536.00" y="347.48" width="4.05" height="45.67" fill="#d05848"/>
<rect x="540.00" y="347.48" width="2.05" height="45.67" fill="#ec9070"/>
<rect x="542.00" y="347.48" width="2.75" height="45.67" fill="#f6bca0"/>
<rect x="544.70" y="347.48" width="4.15" height="45.67" fill="#ec8c70"/>
<rect x="548.80" y="347.48" width="3.35" height="45.67" fill="#e07860"/>
<rect x="552.10" y="347.48" width="3.45" height="45.67" fill="#ec9070"/>
<rect x="555.50" y="347.48" width="3.35" height="45.67" fill="#d05848"/>
<rect x="558.80" y="347.48" width="4.15" height="45.67" fill="#c84848"/>
<rect x="562.90" y="347.48" width="2.05" height="45.67" fill="#b82838"/>
<rect x="564.90" y="347.48" width="3.35" height="45.67" fill="#b02030"/>
<rect x="568.20" y="347.48" width="3.45" height="45.67" fill="#c03838"/>
<rect x="571.60" y="347.48" width="2.05" height="45.67" fill="#f6bca0"/>
<rect x="573.60" y="347.48" width="4.05" height="45.67" fill="#c84040"/>
<rect x="577.60" y="347.48" width="2.75" height="45.67" fill="#f0a080"/>
<rect x="580.30" y="347.48" width="3.45" height="45.67" fill="#f4b090"/>
<rect x="583.70" y="347.48" width="2.75" height="45.67" fill="#f8d4c0"/>
<rect x="586.40" y="347.48" width="3.35" height="45.67" fill="#f8e8e0"/>
<rect x="589.70" y="347.48" width="2.75" height="45.67" fill="#f8e0d8"/>
<rect x="592.40" y="347.48" width="2.75" height="45.67" fill="#f0a080"/>
<rect x="595.10" y="347.48" width="2.05" height="45.67" fill="#c8d8e4"/>
<rect x="597.10" y="347.48" width="1.45" height="45.67" fill="#ec9070"/>
<rect x="598.50" y="347.48" width="2.05" height="45.67" fill="#f4e8e4"/>
<rect x="600.50" y="347.48" width="2.75" height="45.67" fill="#f6f2f0"/>
<rect x="603.20" y="347.48" width="3.35" height="45.67" fill="#fbe8e0"/>
<rect x="606.50" y="347.48" width="2.75" height="45.67" fill="#f6bca0"/>
<rect x="609.20" y="347.48" width="3.45" height="45.67" fill="#f6c0a4"/>
<rect x="612.60" y="347.48" width="4.05" height="45.67" fill="#f4b898"/>
<rect x="616.60" y="347.48" width="2.05" height="45.67" fill="#dde8f0"/>
<rect x="618.60" y="347.48" width="3.45" height="45.67" fill="#c8e0ee"/>
<rect x="622.00" y="347.48" width="5.25" height="45.67" fill="#c0dcec"/>
<text x="632.90" y="375.90" font-size="10.5" textLength="22.80" lengthAdjust="spacingAndGlyphs" fill="#1a1a1a">Liver</text>
<rect x="360.20" y="113.90" width="267.00" height="4.80" fill="#bdbdbd"/>
<rect x="362.10" y="113.90" width="1.00" height="4.80" fill="#f03030"/>
<rect x="364.10" y="113.90" width="1.60" height="4.80" fill="#f03030"/>
<rect x="363.10" y="113.90" width="1.00" height="4.80" fill="#e88080"/>
<rect x="387.10" y="113.90" width="0.80" height="4.80" fill="#f03030"/>
<rect x="403.00" y="113.90" width="3.00" height="4.80" fill="#e06060"/>
<rect x="406.00" y="113.90" width="2.10" height="4.80" fill="#ff1010"/>
<rect x="413.70" y="113.90" width="1.50" height="4.80" fill="#f02020"/>
<rect x="417.80" y="113.90" width="1.00" height="4.80" fill="#f02020"/>
<rect x="459.70" y="113.90" width="2.10" height="4.80" fill="#e04848"/>
<rect x="463.80" y="113.90" width="1.00" height="4.80" fill="#e08080"/>
<rect x="467.90" y="113.90" width="2.60" height="4.80" fill="#ff0a0a"/>
<rect x="475.00" y="113.90" width="1.50" height="4.80" fill="#f03030"/>
<rect x="476.50" y="113.90" width="0.70" height="4.80" fill="#e88080"/>
<rect x="477.20" y="113.90" width="1.40" height="4.80" fill="#f03030"/>
<rect x="484.00" y="113.90" width="8.90" height="4.80" fill="#0000ff"/>
<rect x="492.90" y="113.90" width="1.70" height="4.80" fill="#8888e8"/>
<rect x="495.10" y="113.90" width="2.60" height="4.80" fill="#0000ff"/>
<rect x="498.20" y="113.90" width="5.60" height="4.80" fill="#0000ff"/>
<rect x="499.80" y="113.90" width="0.60" height="4.80" fill="#6666f0"/>
<rect x="505.30" y="113.90" width="1.60" height="4.80" fill="#0000ff"/>
<rect x="522.20" y="113.90" width="1.00" height="4.80" fill="#3030f0"/>
<rect x="528.30" y="113.90" width="1.50" height="4.80" fill="#1010ff"/>
<rect x="585.10" y="113.90" width="0.80" height="4.80" fill="#4040f0"/>
<rect x="593.20" y="113.90" width="2.40" height="4.80" fill="#2020ff"/>
<text x="634.00" y="110.90" font-size="9.8" textLength="51.50" lengthAdjust="spacingAndGlyphs" fill="#1a1a1a">Contrasting</text>
<text x="634.00" y="123.40" font-size="9.8" textLength="48.10" lengthAdjust="spacingAndGlyphs" fill="#1a1a1a">correlation</text>
<defs><linearGradient id="rdbu" x1="0" x2="1" y1="0" y2="0"><stop offset="0" stop-color="#053061"/><stop offset="0.1" stop-color="#2166ac"/><stop offset="0.2" stop-color="#4393c3"/><stop offset="0.3" stop-color="#92c5de"/><stop offset="0.4" stop-color="#d1e5f0"/><stop offset="0.5" stop-color="#f7f7f7"/><stop offset="0.6" stop-color="#fddbc7"/><stop offset="0.7" stop-color="#f4a582"/><stop offset="0.8" stop-color="#d6604d"/><stop offset="0.9" stop-color="#b2182b"/><stop offset="1" stop-color="#67001f"/></linearGradient></defs>
<rect x="574.1" y="29.1" width="60.6" height="8.7" fill="url(#rdbu)"/>
<text x="560.80" y="37.80" font-size="10.5" textLength="8.90" lengthAdjust="spacingAndGlyphs" fill="#1a1a1a">-1</text>
<text x="639.40" y="37.80" font-size="10.5" textLength="4.30" lengthAdjust="spacingAndGlyphs" fill="#1a1a1a">1</text>
<text x="600.50" y="47.00" font-size="11" fill="#1a1a1a">ρ</text>
<text x="470.90" y="407.40" font-size="12" textLength="44.10" lengthAdjust="spacingAndGlyphs" fill="#1a1a1a">MLS-AS</text>
<line x1="335.60" y1="143.00" x2="360.50" y2="143.00" stroke="#6a6a6a" stroke-width="0.8"/>
<line x1="335.60" y1="143.00" x2="335.60" y2="231.40" stroke="#6a6a6a" stroke-width="0.8"/>
<line x1="335.60" y1="231.40" x2="350.40" y2="231.40" stroke="#6a6a6a" stroke-width="0.8"/>
<line x1="350.40" y1="188.70" x2="360.50" y2="188.70" stroke="#6a6a6a" stroke-width="0.8"/>
<line x1="350.40" y1="188.70" x2="350.40" y2="274.20" stroke="#6a6a6a" stroke-width="0.8"/>
<line x1="350.40" y1="274.20" x2="351.00" y2="274.20" stroke="#6a6a6a" stroke-width="0.8"/>
<line x1="351.00" y1="234.50" x2="360.50" y2="234.50" stroke="#6a6a6a" stroke-width="0.8"/>
<line x1="351.00" y1="234.50" x2="351.00" y2="314.00" stroke="#6a6a6a" stroke-width="0.8"/>
<line x1="351.00" y1="314.00" x2="352.40" y2="314.00" stroke="#6a6a6a" stroke-width="0.8"/>
<line x1="352.40" y1="280.00" x2="360.50" y2="280.00" stroke="#6a6a6a" stroke-width="0.8"/>
<line x1="352.40" y1="280.00" x2="352.40" y2="348.30" stroke="#6a6a6a" stroke-width="0.8"/>
<line x1="352.40" y1="348.30" x2="356.40" y2="348.30" stroke="#6a6a6a" stroke-width="0.8"/>
<line x1="356.40" y1="325.50" x2="360.50" y2="325.50" stroke="#6a6a6a" stroke-width="0.8"/>
<line x1="356.40" y1="325.50" x2="356.40" y2="371.30" stroke="#6a6a6a" stroke-width="0.8"/>
<line x1="356.40" y1="371.30" x2="360.50" y2="371.30" stroke="#6a6a6a" stroke-width="0.8"/>
<path d="M365.50 28.50H501.50M365.50 28.50V54.50M361.50 54.50H369.50M361.50 54.50V79.50M369.50 54.50V57.50M362.50 57.50H377.50M362.50 57.50V78.50M377.50 57.50V60.50M363.50 60.50H389.50M363.50 60.50V78.50M389.50 60.50V67.50M367.50 67.50H412.50M367.50 67.50V70.50M365.50 70.50H369.50M365.50 70.50V80.50M369.50 70.50V80.50M368.50 80.50H375.50M368.50 80.50V90.50M375.50 80.50V84.50M369.50 84.50H381.50M369.50 84.50V92.50M381.50 84.50V88.50M375.50 88.50H386.50M375.50 88.50V95.50M386.50 88.50V90.50M412.50 67.50V69.50M387.50 69.50H437.50M387.50 69.50V88.50M437.50 69.50V74.50M415.50 74.50H459.50M415.50 74.50V82.50M400.50 82.50H431.50M400.50 82.50V84.50M391.50 84.50H408.50M391.50 84.50V91.50M408.50 84.50V88.50M405.50 88.50H411.50M405.50 88.50V90.50M411.50 88.50V90.50M408.50 90.50H414.50M408.50 90.50V96.50M414.50 90.50V93.50M410.50 93.50H419.50M410.50 93.50V99.50M419.50 93.50V97.50M431.50 82.50V83.50M428.50 83.50H432.50M428.50 83.50V90.50M432.50 83.50V88.50M430.50 88.50H434.50M430.50 88.50V92.50M434.50 88.50V90.50M433.50 90.50H439.50M433.50 90.50V95.50M439.50 90.50V93.50M435.50 93.50H443.50M435.50 93.50V96.50M443.50 93.50V94.50M459.50 74.50V76.50M457.50 76.50H462.50M457.50 76.50V81.50M462.50 76.50V80.50M461.50 80.50H472.50M461.50 80.50V90.50M472.50 80.50V83.50M468.50 83.50H477.50M468.50 83.50V90.50M477.50 83.50V92.50M501.50 28.50V41.50M479.50 41.50H522.50M479.50 41.50V84.50M522.50 41.50V66.50M496.50 66.50H548.50M496.50 66.50V70.50M484.50 70.50H509.50M484.50 70.50V74.50M480.50 74.50H488.50M480.50 74.50V84.50M488.50 74.50V77.50M483.50 77.50H494.50M483.50 77.50V90.50M494.50 77.50V81.50M489.50 81.50H499.50M489.50 81.50V91.50M499.50 81.50V84.50M496.50 84.50H503.50M496.50 84.50V95.50M503.50 84.50V88.50M509.50 70.50V72.50M548.50 66.50V67.50M510.50 67.50H585.50M510.50 67.50V72.50M585.50 67.50V71.50M566.50 71.50H605.50M566.50 71.50V79.50M549.50 79.50H580.50M549.50 79.50V84.50M527.50 84.50H571.50M527.50 84.50V88.50M516.50 88.50H539.50M516.50 88.50V91.50M539.50 88.50V91.50M571.50 84.50V85.50M579.50 79.50H585.50M579.50 79.50V84.50M585.50 79.50V88.50M605.50 71.50V77.50M596.50 77.50H614.50M596.50 77.50V84.50M614.50 77.50V84.50M609.50 84.50H620.50M609.50 84.50V90.50M620.50 84.50V86.50" stroke="#000" stroke-width="0.5" fill="none"/><path d="M361.20 79.50H361.75M361.20 79.50V113.60M361.75 79.50V101.83M361.50 101.83H361.90M361.50 101.83V113.60M361.90 101.83V104.81M361.70 104.81H361.90M361.70 104.81V113.60M361.90 104.81V113.60M362.20 78.50H362.75M362.20 78.50V113.60M362.75 78.50V107.44M362.57 107.44H362.90M362.57 107.44V109.35M362.40 109.35H362.60M362.40 109.35V113.60M362.60 109.35V113.60M362.90 107.44V113.60M363.18 78.50H363.90M363.18 78.50V104.23M362.93 104.23H363.55M362.93 104.23V104.71M362.90 104.71H363.25M362.90 104.71V106.16M362.90 106.16H363.08M362.90 106.16V113.60M363.08 106.16V113.60M363.25 104.71V113.60M363.55 104.23V106.28M363.55 106.28H363.73M363.55 106.28V113.60M363.73 106.28V113.60M363.90 78.50V113.60M364.90 80.50H366.10M364.90 80.50V97.69M364.45 97.69H365.35M364.45 97.69V113.60M365.35 97.69V99.28M364.97 99.28H365.72M364.97 99.28V99.64M364.79 99.64H365.16M364.79 99.64V108.81M364.68 108.81H364.90M364.68 108.81V113.60M364.90 108.81V113.60M365.16 99.64V113.60M365.72 99.28V105.35M365.53 105.35H365.91M365.53 105.35V113.60M365.91 105.35V106.63M365.76 106.63H365.99M365.76 106.63V113.60M365.99 106.63V113.60M366.10 80.50V105.71M365.99 105.71H366.29M365.99 105.71V113.60M366.29 105.71V113.60M367.03 90.50H369.00M367.03 90.50V109.65M366.81 109.65H367.03M366.81 109.65V113.60M367.03 109.65V113.60M369.00 90.50V101.75M367.93 101.75H369.00M367.93 101.75V107.19M367.41 107.19H367.93M367.41 107.19V110.42M367.22 110.42H367.41M367.22 110.42V113.60M367.41 110.42V113.60M367.93 107.19V107.74M367.67 107.74H367.93M367.67 107.74V113.60M367.93 107.74V113.60M369.00 101.75V103.51M368.25 103.51H369.00M368.25 103.51V111.20M368.09 111.20H368.25M368.09 111.20V113.60M368.25 111.20V113.60M369.00 103.51V108.48M368.70 108.48H369.00M368.70 108.48V110.40M368.48 110.40H368.70M368.48 110.40V113.60M368.70 110.40V113.60M369.00 108.48V113.60M369.00 92.50H370.35M369.00 92.50V102.24M369.00 102.24H369.34M369.00 102.24V113.60M369.34 102.24V102.72M369.30 102.72H369.60M369.30 102.72V113.60M369.60 102.72V106.14M369.60 106.14H370.05M369.60 106.14V109.66M369.60 109.66H369.82M369.60 109.66V113.60M369.82 109.66V113.60M370.05 106.14V113.60M370.35 92.50V105.17M370.35 105.17H370.65M370.35 105.17V113.60M370.65 105.17V108.81M370.65 108.81H370.92M370.65 108.81V113.60M370.92 108.81V113.60M373.18 95.50H377.82M373.18 95.50V96.97M371.50 96.97H373.55M371.50 96.97V113.60M373.55 96.97V103.15M372.99 103.15H373.55M372.99 103.15V106.29M371.80 106.29H372.99M371.80 106.29V113.60M372.99 106.29V107.98M372.69 107.98H372.99M372.69 107.98V109.62M372.10 109.62H372.69M372.10 109.62V113.60M372.69 109.62V111.86M372.40 111.86H372.69M372.40 111.86V113.60M372.69 111.86V113.60M372.99 107.98V113.60M373.55 103.15V106.58M373.27 106.58H373.55M373.27 106.58V113.60M373.55 106.58V113.60M377.82 95.50V97.35M375.43 97.35H379.56M375.43 97.35V101.12M373.85 101.12H375.43M373.85 101.12V113.60M375.43 101.12V102.08M375.03 102.08H375.43M375.03 102.08V105.79M374.71 105.79H375.13M374.71 105.79V106.77M374.15 106.77H374.81M374.15 106.77V113.60M374.81 106.77V108.97M374.51 108.97H374.81M374.51 108.97V109.54M374.33 109.54H374.51M374.33 109.54V113.60M374.51 109.54V113.60M374.81 108.97V113.60M375.13 105.79V108.92M374.97 108.92H375.13M374.97 108.92V113.60M375.13 108.92V113.60M375.43 102.08V113.60M379.56 97.35V99.18M378.30 99.18H380.50M378.30 99.18V99.91M377.27 99.91H379.33M377.27 99.91V101.43M376.52 101.43H377.79M376.52 101.43V109.79M376.01 109.79H376.52M376.01 109.79V110.84M375.72 110.84H376.01M375.72 110.84V113.60M376.01 110.84V113.60M376.52 109.79V110.40M376.27 110.40H376.52M376.27 110.40V113.60M376.52 110.40V113.60M377.79 101.43V107.80M377.47 107.80H377.79M377.47 107.80V109.06M376.83 109.06H377.49M376.83 109.06V113.60M377.49 109.06V110.67M377.19 110.67H377.49M377.19 110.67V111.72M377.01 111.72H377.19M377.01 111.72V113.60M377.19 111.72V113.60M377.49 110.67V113.60M377.79 107.80V113.60M379.33 99.91V101.76M378.72 101.76H379.55M378.72 101.76V110.55M378.09 110.55H378.72M378.09 110.55V113.60M378.72 110.55V112.28M378.39 112.28H378.72M378.39 112.28V113.60M378.72 112.28V112.98M378.55 112.98H378.72M378.55 112.98V113.60M378.72 112.98V113.60M379.55 101.76V103.55M379.25 103.55H379.55M379.25 103.55V106.80M378.98 106.80H379.25M378.98 106.80V113.60M379.25 106.80V113.60M379.55 103.55V113.60M380.50 99.18V107.28M380.01 107.28H380.50M380.01 107.28V107.86M379.78 107.86H380.01M379.78 107.86V113.60M380.01 107.86V113.60M380.50 107.28V108.32M380.26 108.32H380.50M380.26 108.32V113.60M380.50 108.32V113.60M384.95 90.50H386.70M384.95 90.50V91.68M380.80 91.68H386.04M380.80 91.68V113.60M386.04 91.68V92.43M384.65 92.43H386.04M384.65 92.43V93.19M383.69 93.19H384.65M383.69 93.19V94.68M381.25 94.68H383.98M381.25 94.68V103.96M381.02 103.96H381.25M381.02 103.96V113.60M381.25 103.96V113.60M383.98 94.68V101.89M383.30 101.89H383.98M383.30 101.89V103.22M381.58 103.22H383.68M381.58 103.22V103.96M381.41 103.96H381.58M381.41 103.96V113.60M381.58 103.96V113.60M383.68 103.22V103.83M382.63 103.83H383.68M382.63 103.83V104.16M382.31 104.16H382.63M382.31 104.16V105.26M382.01 105.26H382.31M382.01 105.26V108.19M381.79 108.19H382.01M381.79 108.19V113.60M382.01 108.19V113.60M382.31 105.26V113.60M382.63 104.16V106.64M382.47 106.64H382.63M382.47 106.64V113.60M382.63 106.64V113.60M383.68 103.83V104.55M383.02 104.55H383.68M383.02 104.55V104.94M382.82 104.94H383.02M382.82 104.94V113.60M383.02 104.94V113.60M383.68 104.55V106.11M383.38 106.11H383.68M383.38 106.11V107.89M383.20 107.89H383.38M383.20 107.89V113.60M383.38 107.89V113.60M383.68 106.11V113.60M383.98 101.89V113.60M384.65 93.19V101.44M384.28 101.44H384.65M384.28 101.44V113.60M384.65 101.44V105.46M384.46 105.46H384.65M384.46 105.46V113.60M384.65 105.46V113.60M386.04 92.43V94.28M384.95 94.28H386.04M384.95 94.28V113.60M386.04 94.28V99.81M385.25 99.81H386.04M385.25 99.81V113.60M386.04 99.81V103.17M385.55 103.17H386.04M385.55 103.17V113.60M386.04 103.17V103.92M385.80 103.92H386.04M385.80 103.92V113.60M386.04 103.92V113.60M386.70 90.50V106.70M386.34 106.70H386.70M386.34 106.70V113.60M386.70 106.70V107.99M386.52 107.99H386.70M386.52 107.99V113.60M386.70 107.99V113.60M386.93 88.50H388.70M386.93 88.50V90.10M386.70 90.10H387.43M386.70 90.10V113.60M387.43 90.10V91.92M387.00 91.92H387.85M387.00 91.92V113.60M387.85 91.92V93.76M387.50 93.76H388.20M387.50 93.76V113.60M388.20 93.76V95.58M387.90 95.58H388.48M387.90 95.58V113.60M388.48 95.58V104.54M388.28 104.54H388.68M388.28 104.54V106.70M388.15 106.70H388.40M388.15 106.70V113.60M388.40 106.70V113.60M388.68 104.54V113.60M388.70 88.50V113.60M389.38 91.50H393.62M389.38 91.50V106.88M389.13 106.88H389.68M389.13 106.88V107.58M389.00 107.58H389.30M389.00 107.58V113.60M389.30 107.58V110.80M389.30 110.80H389.49M389.30 110.80V113.60M389.49 110.80V113.60M389.68 106.88V113.60M393.62 91.50V104.21M391.75 104.21H395.50M391.75 104.21V105.69M390.57 105.69H394.21M390.57 105.69V106.16M389.98 106.16H391.98M389.98 106.16V107.76M389.98 107.76H390.93M389.98 107.76V108.55M389.98 108.55H390.28M389.98 108.55V113.60M390.28 108.55V108.98M390.28 108.98H390.63M390.28 108.98V110.30M390.28 110.30H390.46M390.28 110.30V113.60M390.46 110.30V113.60M390.63 108.98V113.60M390.93 107.76V109.75M390.93 109.75H391.68M390.93 109.75V110.88M390.93 110.88H391.23M390.93 110.88V113.60M391.23 110.88V111.69M391.23 111.69H391.45M391.23 111.69V113.60M391.45 111.69V113.60M391.68 109.75V113.60M391.98 106.16V106.99M391.98 106.99H393.73M391.98 106.99V107.29M391.98 107.29H393.43M391.98 107.29V109.34M391.98 109.34H392.57M391.98 109.34V111.21M391.98 111.21H392.27M391.98 111.21V113.60M392.27 111.21V113.60M392.57 109.34V110.92M392.57 110.92H393.13M392.57 110.92V111.86M392.57 111.86H392.85M392.57 111.86V113.60M392.85 111.86V113.60M393.13 110.92V113.60M393.43 107.29V113.60M393.73 106.99V107.49M393.73 107.49H393.97M393.73 107.49V113.60M393.97 107.49V113.60M394.21 105.69V107.19M394.21 107.19H394.45M394.21 107.19V113.60M394.45 107.19V113.60M395.50 104.21V105.33M394.80 105.33H396.69M394.80 105.33V106.72M394.70 106.72H395.65M394.70 106.72V107.61M394.70 107.61H395.30M394.70 107.61V108.42M394.70 108.42H395.00M394.70 108.42V113.60M395.00 108.42V113.60M395.30 107.61V110.12M395.30 110.12H395.47M395.30 110.12V113.60M395.47 110.12V113.60M395.65 106.72V108.68M395.65 108.68H395.95M395.65 108.68V113.60M395.95 108.68V109.40M395.95 109.40H396.36M395.95 109.40V111.08M395.95 111.08H396.15M395.95 111.08V113.60M396.15 111.08V113.60M396.36 109.40V110.04M396.36 110.04H396.53M396.36 110.04V113.60M396.53 110.04V113.60M396.69 105.33V107.20M396.69 107.20H396.99M396.69 107.20V113.60M396.99 107.20V108.48M396.99 108.48H397.25M396.99 108.48V113.60M397.25 108.48V113.60M403.00 90.50H407.50M403.00 90.50V97.53M398.27 97.53H404.86M398.27 97.53V98.04M397.97 98.04H398.27M397.97 98.04V102.49M397.73 102.49H397.97M397.73 102.49V113.60M397.97 102.49V113.60M398.27 98.04V113.60M404.86 97.53V100.47M401.73 100.47H404.94M401.73 100.47V102.00M398.64 102.00H401.73M398.64 102.00V104.65M398.46 104.65H398.64M398.46 104.65V113.60M398.64 104.65V113.60M401.73 102.00V102.36M398.94 102.36H401.73M398.94 102.36V113.60M401.73 102.36V103.68M399.87 103.68H401.73M399.87 103.68V104.77M399.24 104.77H399.87M399.24 104.77V113.60M399.87 104.77V106.00M399.54 106.00H399.87M399.54 106.00V113.60M399.87 106.00V107.40M399.71 107.40H399.87M399.71 107.40V113.60M399.87 107.40V113.60M401.73 103.68V105.49M400.60 105.49H401.73M400.60 105.49V106.62M400.17 106.62H400.60M400.17 106.62V113.60M400.60 106.62V109.77M400.38 109.77H400.60M400.38 109.77V113.60M400.60 109.77V113.60M401.73 105.49V106.40M401.43 106.40H401.73M401.43 106.40V107.99M401.13 107.99H401.43M401.13 107.99V109.14M400.86 109.14H401.13M400.86 109.14V113.60M401.13 109.14V113.60M401.43 107.99V113.60M401.73 106.40V113.60M404.94 100.47V106.56M403.78 106.56H404.94M403.78 106.56V107.53M402.03 107.53H403.78M402.03 107.53V113.60M403.78 107.53V109.04M402.34 109.04H403.78M402.34 109.04V113.60M403.78 109.04V109.48M402.68 109.48H403.78M402.68 109.48V110.57M402.51 110.57H402.68M402.51 110.57V113.60M402.68 110.57V113.60M403.78 109.48V110.31M402.98 110.31H403.78M402.98 110.31V113.60M403.78 110.31V112.23M403.48 112.23H403.78M403.48 112.23V112.88M403.23 112.88H403.48M403.23 112.88V113.60M403.48 112.88V113.60M403.78 112.23V113.60M404.94 106.56V107.23M404.64 107.23H404.94M404.64 107.23V108.28M404.34 108.28H404.64M404.34 108.28V109.39M404.06 109.39H404.34M404.06 109.39V113.60M404.34 109.39V113.60M404.64 108.28V113.60M404.94 107.23V113.60M407.50 90.50V91.45M405.24 91.45H407.50M405.24 91.45V113.60M407.50 91.45V92.19M406.93 92.19H407.50M406.93 92.19V93.06M405.60 93.06H407.18M405.60 93.06V106.86M405.42 106.86H405.60M405.42 106.86V113.60M405.60 106.86V113.60M407.18 93.06V99.32M405.90 99.32H407.18M405.90 99.32V113.60M407.18 99.32V100.98M406.20 100.98H407.18M406.20 100.98V113.60M407.18 100.98V104.52M406.50 104.52H407.18M406.50 104.52V113.60M407.18 104.52V105.24M406.80 105.24H407.18M406.80 105.24V113.60M407.18 105.24V108.72M406.99 108.72H407.18M406.99 108.72V113.60M407.18 108.72V113.60M407.50 92.19V106.05M407.34 106.05H407.50M407.34 106.05V113.60M407.50 106.05V113.60M407.89 96.50H409.00M407.89 96.50V108.71M407.70 108.71H407.89M407.70 108.71V113.60M407.89 108.71V113.60M409.00 96.50V107.15M408.60 107.15H409.40M408.60 107.15V108.51M408.19 108.51H408.79M408.19 108.51V113.60M408.79 108.51V110.31M408.49 110.31H408.79M408.49 110.31V113.60M408.79 110.31V113.60M409.40 107.15V107.87M409.20 107.87H409.50M409.20 107.87V109.55M408.99 109.55H409.20M408.99 109.55V113.60M409.20 109.55V113.60M409.50 107.87V113.60M409.75 99.50H412.13M409.75 99.50V100.66M409.50 100.66H411.83M409.50 100.66V101.84M409.50 101.84H410.87M409.50 101.84V102.75M409.50 102.75H410.57M409.50 102.75V103.48M409.50 103.48H410.17M409.50 103.48V104.62M409.50 104.62H409.80M409.50 104.62V113.60M409.80 104.62V108.02M409.80 108.02H409.98M409.80 108.02V113.60M409.98 108.02V113.60M410.17 103.48V105.23M410.17 105.23H410.37M410.17 105.23V113.60M410.37 105.23V113.60M410.57 102.75V113.60M410.87 101.84V109.27M410.87 109.27H411.53M410.87 109.27V109.66M410.87 109.66H411.17M410.87 109.66V113.60M411.17 109.66V111.43M411.17 111.43H411.35M411.17 111.43V113.60M411.35 111.43V113.60M411.53 109.27V113.60M411.83 100.66V113.60M412.13 99.50V108.48M412.13 108.48H412.31M412.13 108.48V113.60M412.31 108.48V113.60M416.12 97.50H425.18M416.12 97.50V99.11M412.95 99.11H419.30M412.95 99.11V100.39M412.50 100.39H413.59M412.50 100.39V113.60M413.59 100.39V109.19M413.03 109.19H414.49M413.03 109.19V111.13M412.80 111.13H414.17M412.80 111.13V111.58M412.80 111.58H413.14M412.80 111.58V113.60M413.14 111.58V113.00M413.10 113.00H413.41M413.10 113.00V113.60M413.40 113.00H413.70M413.40 113.00V113.60M413.70 113.00H413.93M413.70 113.00V113.60M413.93 113.00V113.60M414.17 111.13V112.94M414.17 112.94H414.33M414.17 112.94V113.60M414.33 112.94V113.60M414.49 109.19V111.09M414.49 111.09H414.76M414.49 111.09V113.60M414.76 111.09V113.60M419.30 99.11V100.99M416.76 100.99H421.83M416.76 100.99V102.64M415.47 102.64H417.86M415.47 102.64V109.60M415.25 109.60H415.47M415.25 109.60V113.60M415.47 109.60V113.60M417.86 102.64V104.23M416.01 104.23H418.85M416.01 104.23V108.69M415.74 108.69H416.01M415.74 108.69V113.60M416.01 108.69V113.60M418.85 104.23V105.39M417.99 105.39H419.43M417.99 105.39V105.74M416.42 105.74H418.68M416.42 105.74V107.66M416.21 107.66H416.42M416.21 107.66V113.60M416.42 107.66V113.60M418.68 105.74V107.59M418.09 107.59H418.77M418.09 107.59V108.36M417.43 108.36H418.44M417.43 108.36V109.11M416.72 109.11H417.43M416.72 109.11V113.60M417.43 109.11V111.00M417.13 111.00H417.43M417.13 111.00V111.49M416.93 111.49H417.13M416.93 111.49V113.60M417.13 111.49V113.60M417.43 111.00V113.60M418.44 108.36V109.52M418.14 109.52H418.44M418.14 109.52V111.32M417.84 111.32H418.14M417.84 111.32V112.69M417.64 112.69H417.84M417.64 112.69V113.60M417.84 112.69V113.60M418.14 111.32V113.60M418.44 109.52V113.60M418.77 107.59V109.28M418.61 109.28H418.77M418.61 109.28V113.60M418.77 109.28V113.60M419.43 105.39V109.92M419.07 109.92H419.43M419.07 109.92V113.60M419.43 109.92V110.52M419.25 110.52H419.43M419.25 110.52V113.60M419.43 110.52V113.60M421.83 100.99V102.05M420.39 102.05H424.56M420.39 102.05V103.83M419.43 103.83H423.79M419.43 103.83V104.84M419.43 104.84H422.95M419.43 104.84V105.66M419.43 105.66H420.31M419.43 105.66V107.01M419.43 107.01H419.73M419.43 107.01V113.60M419.73 107.01V109.25M419.73 109.25H419.92M419.73 109.25V113.60M419.92 109.25V113.60M420.31 105.66V105.98M420.10 105.98H422.65M420.10 105.98V107.30M420.10 107.30H421.36M420.10 107.30V107.88M420.10 107.88H420.42M420.10 107.88V113.60M420.42 107.88V109.73M420.40 109.73H420.98M420.40 109.73V110.74M420.40 110.74H420.69M420.40 110.74V113.60M420.69 110.74V113.60M420.98 109.73V110.91M420.98 110.91H421.17M420.98 110.91V113.60M421.17 110.91V113.60M421.36 107.30V107.65M421.36 107.65H422.35M421.36 107.65V109.38M421.36 109.38H422.05M421.36 109.38V109.98M421.36 109.98H421.66M421.36 109.98V113.60M421.66 109.98V111.46M421.66 111.46H421.86M421.66 111.46V113.60M421.86 111.46V113.60M422.05 109.38V113.60M422.35 107.65V113.60M422.65 105.98V113.60M422.95 104.84V109.09M422.95 109.09H423.49M422.95 109.09V110.48M422.95 110.48H423.22M422.95 110.48V113.60M423.22 110.48V113.60M423.49 109.09V113.60M423.79 103.83V106.70M423.79 106.70H424.26M423.79 106.70V107.27M423.79 107.27H424.02M423.79 107.27V113.60M424.02 107.27V113.60M424.26 106.70V113.60M424.56 102.05V103.60M424.56 103.60H424.88M424.56 103.60V109.62M424.56 109.62H424.72M424.56 109.62V113.60M424.72 109.62V113.60M424.88 103.60V113.60M425.18 97.50V107.25M425.18 107.25H425.70M425.18 107.25V109.06M425.18 109.06H425.44M425.18 109.06V113.60M425.44 109.06V113.60M425.70 107.25V113.60M426.37 90.50H429.40M426.37 90.50V103.68M426.18 103.68H426.37M426.18 103.68V113.60M426.37 103.68V113.60M429.40 90.50V91.04M426.81 91.04H429.60M426.81 91.04V103.72M426.59 103.72H426.81M426.59 103.72V113.60M426.81 103.72V113.60M429.60 91.04V94.80M427.52 94.80H429.60M427.52 94.80V102.07M427.22 102.07H427.52M427.22 102.07V103.18M427.02 103.18H427.22M427.02 103.18V113.60M427.22 103.18V113.60M427.52 102.07V113.60M429.60 94.80V96.48M429.08 96.48H429.60M429.08 96.48V97.26M428.63 97.26H429.30M428.63 97.26V99.01M428.26 99.01H429.00M428.26 99.01V100.11M427.97 100.11H428.56M427.97 100.11V101.62M427.80 101.62H428.13M427.80 101.62V107.37M427.69 107.37H427.86M427.69 107.37V113.60M427.86 107.37V113.60M428.13 101.62V103.48M428.02 103.48H428.17M428.02 103.48V113.60M428.17 103.48V113.60M428.56 100.11V100.89M428.43 100.89H428.69M428.43 100.89V113.60M428.69 100.89V113.60M429.00 99.01V113.60M429.30 97.26V113.60M429.60 96.48V113.60M429.96 92.50H430.98M429.96 92.50V106.67M429.78 106.67H429.96M429.78 106.67V113.60M429.96 106.67V113.60M430.98 92.50V99.88M430.59 99.88H431.36M430.59 99.88V101.70M430.28 101.70H430.90M430.28 101.70V103.53M430.05 103.53H430.52M430.05 103.53V105.33M429.96 105.33H430.15M429.96 105.33V113.60M430.15 105.33V113.60M430.52 103.53V104.73M430.37 104.73H430.66M430.37 104.73V113.60M430.66 104.73V113.60M430.90 101.70V113.60M431.36 99.88V113.60M432.88 95.50H434.00M432.88 95.50V96.09M432.32 96.09H433.43M432.32 96.09V105.03M431.89 105.03H432.73M431.89 105.03V109.16M431.69 109.16H431.89M431.69 109.16V113.60M431.89 109.16V113.60M432.73 105.03V105.60M432.42 105.60H433.03M432.42 105.60V106.22M432.19 106.22H432.52M432.19 106.22V113.60M432.52 106.22V107.96M432.35 107.96H432.52M432.35 107.96V113.60M432.52 107.96V113.60M433.03 105.60V107.55M432.81 107.55H433.11M432.81 107.55V113.60M433.11 107.55V113.60M433.43 96.09V107.58M433.28 107.58H433.57M433.28 107.58V113.60M433.57 107.58V113.60M434.00 95.50V113.60M434.75 96.50H436.25M434.75 96.50V101.64M434.30 101.64H435.06M434.30 101.64V113.60M435.06 101.64V108.56M434.83 108.56H435.25M434.83 108.56V109.83M434.60 109.83H434.95M434.60 109.83V113.60M434.95 109.83V111.29M434.77 111.29H434.95M434.77 111.29V113.60M434.95 111.29V113.60M435.25 108.56V113.60M436.25 96.50V104.50M435.55 104.50H436.69M435.55 104.50V113.60M436.69 104.50V105.57M435.85 105.57H437.00M435.85 105.57V113.60M437.00 105.57V107.39M436.15 107.39H437.00M436.15 107.39V113.60M437.00 107.39V107.87M436.45 107.87H437.00M436.45 107.87V113.60M437.00 107.87V110.83M436.72 110.83H437.00M436.72 110.83V113.60M437.00 110.83V113.60M439.00 94.50H449.29M439.00 94.50V99.75M437.00 99.75H447.77M437.00 99.75V100.72M437.00 100.72H446.76M437.00 100.72V101.49M437.00 101.49H441.21M437.00 101.49V104.79M437.00 104.79H439.96M437.00 104.79V105.46M437.00 105.46H437.76M437.00 105.46V107.14M437.00 107.14H437.42M437.00 107.14V108.04M437.00 108.04H437.21M437.00 108.04V113.60M437.21 108.04V113.60M437.42 107.14V108.53M437.42 108.53H437.59M437.42 108.53V113.60M437.59 108.53V113.60M437.76 105.46V106.84M437.76 106.84H439.51M437.76 106.84V107.57M437.76 107.57H438.20M437.76 107.57V113.60M438.20 107.57V108.29M438.06 108.29H438.76M438.06 108.29V109.32M438.06 109.32H438.46M438.06 109.32V110.95M438.06 110.95H438.26M438.06 110.95V113.60M438.26 110.95V113.60M438.46 109.32V113.60M438.76 108.29V109.20M438.76 109.20H439.06M438.76 109.20V113.60M439.06 109.20V109.68M439.06 109.68H439.29M439.06 109.68V113.60M439.29 109.68V113.60M439.51 106.84V107.87M439.51 107.87H439.74M439.51 107.87V113.60M439.74 107.87V113.60M439.96 104.79V106.45M439.96 106.45H440.28M439.96 106.45V113.60M440.28 106.45V107.89M440.26 107.89H440.56M440.26 107.89V113.60M440.56 107.89V108.46M440.56 108.46H440.86M440.56 108.46V113.60M440.86 108.46V109.21M440.86 109.21H441.04M440.86 109.21V113.60M441.04 109.21V113.60M441.21 101.49V102.24M441.21 102.24H442.60M441.21 102.24V107.88M441.21 107.88H441.63M441.21 107.88V108.98M441.21 108.98H441.42M441.21 108.98V113.60M441.42 108.98V113.60M441.63 107.88V113.60M442.60 102.24V103.38M441.93 103.38H443.81M441.93 103.38V107.43M441.93 107.43H442.16M441.93 107.43V113.60M442.16 107.43V113.60M443.81 103.38V103.72M442.71 103.72H445.96M442.71 103.72V104.84M442.38 104.84H445.66M442.38 104.84V105.72M442.38 105.72H445.36M442.38 105.72V106.96M442.38 106.96H445.06M442.38 106.96V107.83M442.38 107.83H443.05M442.38 107.83V109.72M442.38 109.72H442.62M442.38 109.72V113.60M442.62 109.72V113.60M443.05 107.83V108.67M442.86 108.67H444.63M442.86 108.67V109.48M442.86 109.48H444.33M442.86 109.48V111.12M442.86 111.12H443.23M442.86 111.12V113.60M443.23 111.12V111.78M443.16 111.78H443.52M443.16 111.78V113.60M443.52 111.78V112.80M443.46 112.80H444.03M443.46 112.80V113.00M443.46 113.00H443.75M443.46 113.00V113.60M443.75 113.00V113.60M444.03 112.80V113.60M444.33 109.48V113.60M444.63 108.67V108.98M444.63 108.98H444.85M444.63 108.98V113.60M444.85 108.98V113.60M445.06 106.96V113.60M445.36 105.72V113.60M445.66 104.84V113.60M445.96 103.72V105.24M445.96 105.24H446.46M445.96 105.24V106.50M445.96 106.50H446.21M445.96 106.50V113.60M446.21 106.50V113.60M446.46 105.24V113.60M446.76 100.72V104.00M446.76 104.00H447.47M446.76 104.00V106.78M446.76 106.78H447.06M446.76 106.78V113.60M447.06 106.78V110.04M447.06 110.04H447.26M447.06 110.04V113.60M447.26 110.04V113.60M447.47 104.00V113.60M447.77 99.75V101.35M447.77 101.35H448.15M447.77 101.35V113.60M448.15 101.35V103.62M448.07 103.62H448.45M448.07 103.62V113.60M448.45 103.62V105.14M448.37 105.14H448.99M448.37 105.14V106.31M448.37 106.31H448.69M448.37 106.31V109.44M448.37 109.44H448.53M448.37 109.44V113.60M448.53 109.44V113.60M448.69 106.31V113.60M448.99 105.14V113.60M449.29 94.50V95.87M449.29 95.87H454.70M449.29 95.87V105.92M449.29 105.92H450.64M449.29 105.92V107.39M449.29 107.39H449.57M449.29 107.39V113.60M449.57 107.39V113.60M450.64 105.92V107.27M449.86 107.27H451.85M449.86 107.27V108.81M449.86 108.81H450.50M449.86 108.81V109.39M449.86 109.39H450.20M449.86 109.39V111.30M449.86 111.30H450.03M449.86 111.30V113.60M450.03 111.30V113.60M450.20 109.39V113.60M450.50 108.81V113.60M451.85 107.27V108.37M450.87 108.37H454.40M450.87 108.37V108.70M450.80 108.70H453.61M450.80 108.70V109.99M450.80 109.99H452.84M450.80 109.99V110.69M450.80 110.69H451.31M450.80 110.69V112.56M450.80 112.56H451.01M450.80 112.56V113.60M451.01 112.56V113.60M451.31 110.69V111.48M451.23 111.48H452.54M451.23 111.48V112.37M451.23 112.37H451.94M451.23 112.37V113.00M451.23 113.00H451.64M451.23 113.00H451.44M451.23 113.00V113.60M451.44 113.00V113.60M451.64 113.00V113.60M451.94 112.37V113.00M451.94 113.00H452.24M451.94 113.00V113.60M452.24 113.00V113.60M452.54 111.48V113.60M452.84 109.99V110.84M452.84 110.84H453.31M452.84 110.84V112.64M452.84 112.64H453.07M452.84 112.64V113.60M453.07 112.64V113.60M453.31 110.84V113.60M453.61 108.70V109.66M453.61 109.66H453.91M453.61 109.66V113.60M453.91 109.66V111.15M453.91 111.15H454.15M453.91 111.15V113.60M454.15 111.15V113.60M454.40 108.37V113.60M454.70 95.87V113.60M456.62 81.50H458.38M456.62 81.50V94.82M456.10 94.82H456.80M456.10 94.82V96.46M455.30 96.46H456.10M455.30 96.46V113.60M456.10 96.46V97.04M455.60 97.04H456.10M455.60 97.04V113.60M456.10 97.04V105.95M455.85 105.95H456.10M455.85 105.95V113.60M456.10 105.95V113.60M456.80 94.82V100.41M456.40 100.41H456.80M456.40 100.41V113.60M456.80 100.41V101.06M456.60 101.06H456.80M456.60 101.06V113.60M456.80 101.06V113.60M458.38 81.50V82.44M457.73 82.44H458.50M457.73 82.44V98.52M457.34 98.52H457.73M457.34 98.52V106.60M457.07 106.60H457.34M457.07 106.60V113.60M457.34 106.60V113.60M457.73 98.52V105.32M457.54 105.32H457.73M457.54 105.32V113.60M457.73 105.32V113.60M458.50 82.44V106.77M458.03 106.77H458.50M458.03 106.77V113.60M458.50 106.77V108.67M458.27 108.67H458.50M458.27 108.67V113.60M458.50 108.67V113.60M459.75 90.50H464.46M459.75 90.50V91.24M458.50 91.24H461.24M458.50 91.24V105.67M458.50 105.67H458.94M458.50 105.67V107.64M458.50 107.64H458.72M458.50 107.64V113.60M458.72 107.64V113.60M458.94 105.67V109.39M458.94 109.39H459.21M458.94 109.39V113.60M459.21 109.39V113.60M461.24 91.24V92.81M460.00 92.81H462.49M460.00 92.81V104.80M459.77 104.80H460.22M459.77 104.80V106.73M459.62 106.73H459.92M459.62 106.73V113.60M459.92 106.73V113.60M460.22 104.80V113.60M462.49 92.81V93.24M461.47 93.24H463.51M461.47 93.24V100.84M460.69 100.84H461.84M460.69 100.84V113.60M461.84 100.84V105.52M460.99 105.52H461.88M460.99 105.52V113.60M461.88 105.52V108.98M461.29 108.98H461.88M461.29 108.98V113.60M461.88 108.98V109.46M461.58 109.46H461.88M461.58 109.46V113.60M461.88 109.46V113.60M463.51 93.24V105.37M462.86 105.37H464.15M462.86 105.37V106.74M462.53 106.74H463.19M462.53 106.74V110.43M462.18 110.43H462.78M462.18 110.43V113.60M462.78 110.43V111.44M462.60 111.44H462.90M462.60 111.44V113.00M462.39 113.00H462.60M462.39 113.00V113.60M462.60 113.00V113.60M462.90 111.44V113.60M463.19 106.74V113.60M464.15 105.37V106.62M463.84 106.62H464.46M463.84 106.62V109.32M463.50 109.32H463.84M463.50 109.32V113.60M463.84 109.32V110.09M463.67 110.09H463.84M463.67 110.09V113.60M463.84 110.09V113.60M464.46 106.62V108.52M464.14 108.52H464.46M464.14 108.52V113.60M464.46 108.52V109.12M464.30 109.12H464.46M464.30 109.12V113.60M464.46 109.12V113.60M464.46 90.50V109.46M464.46 109.46H464.76M464.46 109.46V113.60M464.76 109.46V109.87M464.76 109.87H465.06M464.76 109.87V113.60M465.06 109.87V111.05M465.06 111.05H465.28M465.06 111.05V113.60M465.28 111.05V113.60M466.75 90.50H471.21M466.75 90.50V92.28M465.50 92.28H469.94M465.50 92.28V99.72M465.50 99.72H467.80M465.50 99.72V106.19M465.50 106.19H467.46M465.50 106.19V108.70M465.50 108.70H465.99M465.50 108.70V113.60M465.99 108.70V109.38M465.80 109.38H466.41M465.80 109.38V113.60M466.41 109.38V110.10M466.10 110.10H466.75M466.10 110.10V113.60M466.75 110.10V111.48M466.48 111.48H467.01M466.48 111.48V113.60M467.01 111.48V112.54M466.82 112.54H467.20M466.82 112.54V113.60M467.20 112.54V113.00M467.09 113.00H467.32M467.09 113.00V113.60M467.32 113.00V113.60M467.46 106.19V110.27M467.46 110.27H467.63M467.46 110.27V113.60M467.63 110.27V113.60M467.80 99.72V101.23M467.80 101.23H468.33M467.80 101.23V113.60M468.33 101.23V101.78M468.10 101.78H469.40M468.10 101.78V103.67M468.10 103.67H469.10M468.10 103.67V108.14M468.10 108.14H468.80M468.10 108.14V109.66M468.10 109.66H468.50M468.10 109.66V110.05M468.10 110.05H468.30M468.10 110.05V113.60M468.30 110.05V113.60M468.50 109.66V113.60M468.80 108.14V113.60M469.10 103.67V113.60M469.40 101.78V102.74M469.40 102.74H469.67M469.40 102.74V113.60M469.67 102.74V113.60M469.94 92.28V102.07M469.94 102.07H470.61M469.94 102.07V110.43M469.94 110.43H470.31M469.94 110.43V112.05M469.94 112.05H470.13M469.94 112.05V113.60M470.13 112.05V113.60M470.31 110.43V113.60M470.61 102.07V109.45M470.61 109.45H470.91M470.61 109.45V113.60M470.91 109.45V113.60M471.21 90.50V106.34M471.21 106.34H472.05M471.21 106.34V108.22M471.21 108.22H471.64M471.21 108.22V111.47M471.21 111.47H471.42M471.21 111.47V113.60M471.42 111.47V113.60M471.64 108.22V109.04M471.64 109.04H471.84M471.64 109.04V113.60M471.84 109.04V113.60M472.05 106.34V107.70M472.05 107.70H472.27M472.05 107.70V113.60M472.27 107.70V113.60M473.23 92.50H478.20M473.23 92.50V106.38M472.80 106.38H473.23M472.80 106.38V113.60M473.23 106.38V109.74M473.02 109.74H473.23M473.02 109.74V113.60M473.23 109.74V113.60M478.20 92.50V101.51M473.53 101.51H478.20M473.53 101.51V113.60M478.20 101.51V102.69M476.20 102.69H478.20M476.20 102.69V104.45M474.85 104.45H476.20M474.85 104.45V106.40M473.83 106.40H474.85M473.83 106.40V113.60M474.85 106.40V106.80M474.29 106.80H474.85M474.29 106.80V109.39M474.06 109.39H474.29M474.06 109.39V113.60M474.29 109.39V113.60M474.85 106.80V108.73M474.57 108.73H474.85M474.57 108.73V113.60M474.85 108.73V113.60M476.20 104.45V106.06M475.15 106.06H476.20M475.15 106.06V113.60M476.20 106.06V107.62M475.45 107.62H476.20M475.45 107.62V113.60M476.20 107.62V108.62M475.75 108.62H476.20M475.75 108.62V113.60M476.20 108.62V109.59M475.97 109.59H476.20M475.97 109.59V113.60M476.20 109.59V113.60M478.20 102.69V103.39M477.70 103.39H478.20M477.70 103.39V104.29M477.09 104.29H477.90M477.09 104.29V107.91M476.79 107.91H477.09M476.79 107.91V109.57M476.49 109.57H476.79M476.49 109.57V113.60M476.79 109.57V113.60M477.09 107.91V113.60M477.90 104.29V106.10M477.60 106.10H477.90M477.60 106.10V110.05M477.34 110.05H477.60M477.34 110.05V113.60M477.60 110.05V113.60M477.90 106.10V113.60M478.20 103.39V113.60M478.53 84.50H479.95M478.53 84.50V84.88M478.36 84.88H478.53M478.36 84.88V113.60M478.53 84.88V113.60M479.95 84.50V101.13M479.09 101.13H480.00M479.09 101.13V102.97M478.81 102.97H479.09M478.81 102.97V113.60M479.09 102.97V113.60M480.00 101.13V105.07M479.47 105.07H480.00M479.47 105.07V106.33M479.28 106.33H479.47M479.28 106.33V113.60M479.47 106.33V113.60M480.00 105.07V108.01M479.73 108.01H480.00M479.73 108.01V113.60M480.00 108.01V113.60M480.05 84.50H480.95M480.05 84.50V104.52M480.00 104.52H480.32M480.00 104.52V107.25M480.00 107.25H480.16M480.00 107.25V113.60M480.16 107.25V113.60M480.32 104.52V113.60M480.95 84.50V90.17M480.66 90.17H481.50M480.66 90.17V99.61M480.62 99.61H481.11M480.62 99.61V100.99M480.62 100.99H480.87M480.62 100.99V113.60M480.87 100.99V113.60M481.11 99.61V103.75M481.11 103.75H481.31M481.11 103.75V113.60M481.31 103.75V113.60M481.50 90.17V113.60M482.45 90.50H484.55M482.45 90.50V109.97M482.18 109.97H482.48M482.18 109.97V111.80M481.99 111.80H482.18M481.99 111.80V113.60M482.18 111.80V113.60M482.48 109.97V113.60M484.55 90.50V93.90M483.67 93.90H485.43M483.67 93.90V97.20M483.16 97.20H484.24M483.16 97.20V106.98M482.72 106.98H483.94M482.72 106.98V107.53M482.48 107.53H483.08M482.48 107.53V109.29M482.48 109.29H482.71M482.48 109.29V113.60M482.71 109.29V113.60M483.08 107.53V109.44M482.94 109.44H483.64M482.94 109.44V110.90M482.94 110.90H483.24M482.94 110.90V113.60M483.24 110.90V111.74M483.24 111.74H483.44M483.24 111.74V113.60M483.44 111.74V113.60M483.64 109.44V113.60M483.94 106.98V113.60M484.24 97.20V113.60M485.43 93.90V98.11M484.84 98.11H485.79M484.84 98.11V113.60M485.79 98.11V106.86M485.32 106.86H486.00M485.32 106.86V110.26M485.08 110.26H485.32M485.08 110.26V113.60M485.32 110.26V113.60M486.00 106.86V107.31M485.70 107.31H486.00M485.70 107.31V108.28M485.51 108.28H485.70M485.51 108.28V113.60M485.70 108.28V113.60M486.00 107.31V113.60M486.61 91.50H491.25M486.61 91.50V110.77M486.30 110.77H486.61M486.30 110.77V113.60M486.61 110.77V113.60M491.25 91.50V92.46M488.62 92.46H492.85M488.62 92.46V93.17M487.69 93.17H488.62M487.69 93.17V103.54M487.03 103.54H487.69M487.03 103.54V107.27M486.82 107.27H487.03M486.82 107.27V113.60M487.03 107.27V113.60M487.69 103.54V104.83M487.39 104.83H487.69M487.39 104.83V110.30M487.21 110.30H487.39M487.21 110.30V113.60M487.39 110.30V113.60M487.69 104.83V113.60M488.62 93.17V108.89M487.99 108.89H488.62M487.99 108.89V113.60M488.62 108.89V110.95M488.32 110.95H488.62M488.32 110.95V111.30M488.15 111.30H488.32M488.15 111.30V113.60M488.32 111.30V113.60M488.62 110.95V113.60M492.85 92.46V94.81M489.33 94.81H493.00M489.33 94.81V110.20M488.92 110.20H489.33M488.92 110.20V113.60M489.33 110.20V110.61M489.12 110.61H489.33M489.12 110.61V113.60M489.33 110.61V113.60M493.00 94.81V95.72M491.83 95.72H493.00M491.83 95.72V101.89M491.21 101.89H491.83M491.21 101.89V103.55M490.69 103.55H491.39M490.69 103.55V104.44M489.63 104.44H491.09M489.63 104.44V113.60M491.09 104.44V105.96M489.93 105.96H491.09M489.93 105.96V113.60M491.09 105.96V106.77M490.23 106.77H491.09M490.23 106.77V113.60M491.09 106.77V107.60M490.79 107.60H491.09M490.79 107.60V108.64M490.51 108.64H490.79M490.51 108.64V113.60M490.79 108.64V113.60M491.09 107.60V113.60M491.39 103.55V113.60M491.83 101.89V104.93M491.61 104.93H491.83M491.61 104.93V113.60M491.83 104.93V113.60M493.00 95.72V99.34M492.70 99.34H493.00M492.70 99.34V107.91M492.40 107.91H492.70M492.40 107.91V108.59M492.12 108.59H492.40M492.12 108.59V113.60M492.40 108.59V113.60M492.70 107.91V113.60M493.00 99.34V113.60M494.88 95.50H498.58M494.88 95.50V96.66M493.48 96.66H496.27M493.48 96.66V107.42M493.25 107.42H493.71M493.25 107.42V110.49M493.10 110.49H493.41M493.10 110.49V113.60M493.41 110.49V113.60M493.71 107.42V113.60M496.27 96.66V100.20M495.10 100.20H497.44M495.10 100.20V105.08M494.21 105.08H495.55M494.21 105.08V113.60M495.55 105.08V105.61M494.51 105.61H495.68M494.51 105.61V113.60M495.68 105.61V106.90M495.22 106.90H495.68M495.22 106.90V108.80M494.92 108.80H495.22M494.92 108.80V109.46M494.71 109.46H494.92M494.71 109.46V113.60M494.92 109.46V113.60M495.22 108.80V113.60M495.68 106.90V108.36M495.45 108.36H495.68M495.45 108.36V113.60M495.68 108.36V113.60M497.44 100.20V100.73M496.71 100.73H498.16M496.71 100.73V105.84M496.11 105.84H497.20M496.11 105.84V106.26M495.90 106.26H496.11M495.90 106.26V113.60M496.11 106.26V113.60M497.20 105.84V107.42M496.82 107.42H497.57M496.82 107.42V109.34M496.52 109.34H497.12M496.52 109.34V109.80M496.30 109.80H496.74M496.30 109.80V113.60M496.74 109.80V110.14M496.59 110.14H496.89M496.59 110.14V113.60M496.89 110.14V113.60M497.12 109.34V110.13M497.04 110.13H497.20M497.04 110.13V113.60M497.20 110.13V113.60M497.57 107.42V113.60M498.16 100.73V102.33M497.92 102.33H498.40M497.92 102.33V103.79M497.76 103.79H498.09M497.76 103.79V109.36M497.67 109.36H497.85M497.67 109.36V113.60M497.85 109.36V113.60M498.09 103.79V113.60M498.40 102.33V113.60M498.58 95.50V106.44M498.58 106.44H498.94M498.58 106.44V108.15M498.58 108.15H498.76M498.58 108.15V113.60M498.76 108.15V113.60M498.94 106.44V107.70M498.94 107.70H499.22M498.94 107.70V113.60M499.22 107.70V113.60M500.43 88.50H505.25M500.43 88.50V104.24M499.80 104.24H500.43M499.80 104.24V113.60M500.43 104.24V105.29M500.13 105.29H500.43M500.13 105.29V107.04M499.96 107.04H500.13M499.96 107.04V113.60M500.13 107.04V113.60M500.43 105.29V113.60M505.25 88.50V90.45M503.06 90.45H506.50M503.06 90.45V100.25M502.40 100.25H503.06M502.40 100.25V101.92M501.58 101.92H502.67M501.58 101.92V108.21M501.11 108.21H501.58M501.11 108.21V108.65M500.81 108.65H501.11M500.81 108.65V110.78M500.62 110.78H500.81M500.62 110.78V113.60M500.81 110.78V113.60M501.11 108.65V113.60M501.58 108.21V109.08M501.34 109.08H501.58M501.34 109.08V113.60M501.58 109.08V113.60M502.67 101.92V108.83M502.20 108.83H502.67M502.20 108.83V111.12M501.88 111.12H502.20M501.88 111.12V113.60M502.20 111.12V111.77M502.04 111.77H502.20M502.04 111.77V113.60M502.20 111.77V113.60M502.67 108.83V109.54M502.43 109.54H502.67M502.43 109.54V113.60M502.67 109.54V113.60M503.06 100.25V109.30M502.86 109.30H503.06M502.86 109.30V113.60M503.06 109.30V113.60M506.50 90.45V105.61M505.64 105.61H506.50M505.64 105.61V107.07M504.87 107.07H506.14M504.87 107.07V108.98M504.27 108.98H505.47M504.27 108.98V110.20M503.69 110.20H504.65M503.69 110.20V111.55M503.36 111.55H503.69M503.36 111.55V113.60M503.69 111.55V113.00M503.52 113.00H503.69M503.52 113.00V113.60M503.69 113.00V113.60M504.65 110.20V110.57M504.35 110.57H504.65M504.35 110.57V111.45M503.99 111.45H504.35M503.99 111.45V113.60M504.35 111.45V112.16M504.17 112.16H504.35M504.17 112.16V113.60M504.35 112.16V113.60M504.65 110.57V113.60M505.47 108.98V110.09M505.06 110.09H505.48M505.06 110.09V110.99M504.85 110.99H505.06M504.85 110.99V113.60M505.06 110.99V113.60M505.48 110.09V110.94M505.27 110.94H505.48M505.27 110.94V113.60M505.48 110.94V113.60M506.14 107.07V110.42M505.84 110.42H506.14M505.84 110.42V110.76M505.66 110.76H505.84M505.66 110.76V113.60M505.84 110.76V113.60M506.14 110.42V113.60M506.50 105.61V107.84M506.32 107.84H506.50M506.32 107.84V113.60M506.50 107.84V113.60M508.67 72.50H509.80M508.67 72.50V89.82M506.86 89.82H508.67M506.86 89.82V90.16M506.68 90.16H506.86M506.68 90.16V113.60M506.86 90.16V113.60M508.67 89.82V90.94M507.95 90.94H508.67M507.95 90.94V94.54M507.16 94.54H507.95M507.16 94.54V113.60M507.95 94.54V103.51M507.46 103.51H507.95M507.46 103.51V113.60M507.95 103.51V104.17M507.71 104.17H507.95M507.71 104.17V113.60M507.95 104.17V113.60M508.67 90.94V105.59M508.25 105.59H508.67M508.25 105.59V113.60M508.67 105.59V105.90M508.46 105.90H508.67M508.46 105.90V113.60M508.67 105.90V113.60M509.80 72.50V78.77M509.20 78.77H509.80M509.20 78.77V97.53M508.93 97.53H509.20M508.93 97.53V113.60M509.20 97.53V113.60M509.80 78.77V98.87M509.50 98.87H509.80M509.50 98.87V113.60M509.80 98.87V113.60M509.95 72.50H511.05M509.95 72.50V72.86M509.80 72.86H510.24M509.80 72.86V113.60M510.24 72.86V99.89M510.10 99.89H510.65M510.10 99.89V101.83M510.10 101.83H510.38M510.10 101.83V113.60M510.38 101.83V113.60M510.65 99.89V113.60M511.05 72.50V100.47M510.95 100.47H511.70M510.95 100.47V102.10M510.95 102.10H511.25M510.95 102.10V113.60M511.25 102.10V103.77M511.25 103.77H511.48M511.25 103.77V113.60M511.48 103.77V113.60M511.70 100.47V113.60M514.00 91.50H519.00M514.00 91.50V95.00M512.97 95.00H515.70M512.97 95.00V96.88M512.04 96.88H513.89M512.04 96.88V110.54M512.00 110.54H512.39M512.00 110.54V113.60M512.39 110.54V110.88M512.30 110.88H512.67M512.30 110.88V112.37M512.30 112.37H512.47M512.30 112.37V113.60M512.47 112.37V113.60M512.67 110.88V111.52M512.63 111.52H512.93M512.63 111.52V113.60M512.93 111.52V112.04M512.93 112.04H513.17M512.93 112.04V113.60M513.17 112.04V113.60M513.89 96.88V98.40M513.40 98.40H514.47M513.40 98.40V113.60M514.47 98.40V100.19M513.97 100.19H515.37M513.97 100.19V101.96M513.70 101.96H514.39M513.70 101.96V113.60M514.39 101.96V102.88M514.04 102.88H515.07M514.04 102.88V105.00M514.00 105.00H514.31M514.00 105.00V113.60M514.31 105.00V106.01M514.30 106.01H514.60M514.30 106.01V113.60M514.60 106.01V107.61M514.60 107.61H514.83M514.60 107.61V113.60M514.83 107.61V113.60M515.07 102.88V113.60M515.37 100.19V105.00M515.37 105.00H515.54M515.37 105.00V113.60M515.54 105.00V113.60M515.70 95.00V107.02M515.70 107.02H515.91M515.70 107.02V113.60M515.91 107.02V113.60M519.00 91.50V106.84M517.53 106.84H521.16M517.53 106.84V108.53M516.27 108.53H520.75M516.27 108.53V109.44M516.13 109.44H517.43M516.13 109.44V111.12M516.13 111.12H516.59M516.13 111.12V113.00M516.13 113.00H516.36M516.13 113.00V113.60M516.36 113.00V113.60M516.59 111.12V113.60M517.43 109.44V110.81M516.89 110.81H518.40M516.89 110.81V111.36M516.89 111.36H517.19M516.89 111.36V113.60M517.19 111.36V112.41M517.19 112.41H517.49M517.19 112.41V113.60M517.49 112.41V113.60M518.40 110.81V111.41M517.79 111.41H519.14M517.79 111.41V113.00M517.79 113.00H518.09M517.79 113.00V113.60M518.09 113.00H518.53M518.09 113.00H518.31M518.09 113.00V113.60M518.31 113.00V113.60M518.53 113.00V113.60M519.14 111.41V111.82M518.83 111.82H520.45M518.83 111.82V113.00M518.83 113.00H519.24M518.83 113.00V113.60M519.13 113.00H519.57M519.13 113.00V113.60M519.43 113.00H519.82M519.43 113.00H519.61M519.43 113.00V113.60M519.61 113.00V113.60M519.80 113.00H520.15M519.80 113.00H519.98M519.80 113.00V113.60M519.98 113.00V113.60M520.15 113.00V113.60M520.45 111.82V113.60M520.75 108.53V109.64M520.75 109.64H520.95M520.75 109.64V113.60M520.95 109.64V113.60M521.16 106.84V108.24M521.16 108.24H521.70M521.16 108.24V108.77M521.16 108.77H521.43M521.16 108.77V113.60M521.43 108.77V113.60M521.70 108.24V113.60M527.62 91.50H555.78M527.62 91.50V92.50M522.00 92.50H536.07M522.00 92.50V102.39M522.00 102.39H523.91M522.00 102.39V107.49M522.00 107.49H523.56M522.00 107.49V107.80M522.00 107.80H522.96M522.00 107.80V111.48M522.00 111.48H522.30M522.00 111.48V113.60M522.30 111.48V112.08M522.30 112.08H522.60M522.30 112.08V113.60M522.60 112.08V112.45M522.60 112.45H522.78M522.60 112.45V113.60M522.78 112.45V113.60M522.96 107.80V109.52M522.96 109.52H523.26M522.96 109.52V113.60M523.26 109.52V113.60M523.56 107.49V108.83M523.56 108.83H523.74M523.56 108.83V113.60M523.74 108.83V113.60M523.91 102.39V106.43M523.91 106.43H524.99M523.91 106.43V107.95M523.91 107.95H524.28M523.91 107.95V108.96M523.91 108.96H524.10M523.91 108.96V113.60M524.10 108.96V113.60M524.28 107.95V108.90M524.28 108.90H524.69M524.28 108.90V110.38M524.28 110.38H524.49M524.28 110.38V113.60M524.49 110.38V113.60M524.69 108.90V113.60M524.99 106.43V113.60M536.07 92.50V92.83M528.45 92.83H543.69M528.45 92.83V93.82M525.29 93.82H542.04M525.29 93.82V95.39M525.29 95.39H534.97M525.29 95.39V96.76M525.29 96.76H531.85M525.29 96.76V100.73M525.29 100.73H529.28M525.29 100.73V102.07M525.29 102.07H528.97M525.29 102.07V110.41M525.29 110.41H526.21M525.29 110.41V112.09M525.29 112.09H525.46M525.29 112.09V113.60M525.46 112.09V113.60M526.21 110.41V112.11M525.63 112.11H527.05M525.63 112.11V112.96M525.63 112.96H525.94M525.63 112.96V113.60M525.94 112.96V113.60M527.05 112.11V113.00M526.36 113.00H527.73M526.24 113.00H526.63M526.24 113.00H526.41M526.24 113.00V113.60M526.41 113.00V113.60M526.58 113.00H526.88M526.58 113.00V113.60M526.88 113.00H527.09M526.88 113.00V113.60M527.09 113.00V113.60M527.31 113.00H528.21M527.30 113.00H527.91M527.30 113.00H527.60M527.30 113.00V113.60M527.60 113.00V113.60M527.91 113.00V113.60M528.21 113.00H528.51M528.21 113.00V113.60M528.51 113.00H528.74M528.51 113.00V113.60M528.74 113.00V113.60M528.97 102.07V113.60M529.28 100.73V101.67M529.28 101.67H529.93M529.28 101.67V108.50M529.28 108.50H529.48M529.28 108.50V113.60M529.48 108.50V113.60M529.93 101.67V105.23M529.67 105.23H531.55M529.67 105.23V106.99M529.67 106.99H530.53M529.67 106.99V107.96M529.67 107.96H530.23M529.67 107.96V109.45M529.67 109.45H529.95M529.67 109.45V113.60M529.95 109.45V113.60M530.23 107.96V113.60M530.53 106.99V110.13M530.53 110.13H530.83M530.53 110.13V113.60M530.83 110.13V111.71M530.83 111.71H531.13M530.83 111.71V113.60M531.13 111.71V112.35M531.13 112.35H531.34M531.13 112.35V113.60M531.34 112.35V113.60M531.55 105.23V113.60M531.85 96.76V98.21M531.85 98.21H532.97M531.85 98.21V107.50M531.85 107.50H532.15M531.85 107.50V113.60M532.15 107.50V110.37M532.15 110.37H532.67M532.15 110.37V111.01M532.15 111.01H532.41M532.15 111.01V113.60M532.41 111.01V113.60M532.67 110.37V113.60M532.97 98.21V99.95M532.97 99.95H534.38M532.97 99.95V102.19M532.97 102.19H533.32M532.97 102.19V113.60M533.32 102.19V103.38M533.27 103.38H533.71M533.27 103.38V104.81M533.27 104.81H533.49M533.27 104.81V113.60M533.49 104.81V113.60M533.71 103.38V107.41M533.71 107.41H534.01M533.71 107.41V113.60M534.01 107.41V107.94M534.01 107.94H534.20M534.01 107.94V113.60M534.20 107.94V113.60M534.38 99.95V108.17M534.38 108.17H534.67M534.38 108.17V113.60M534.67 108.17V113.60M534.97 95.39V96.95M534.97 96.95H540.30M534.97 96.95V98.20M534.97 98.20H537.78M534.97 98.20V105.29M534.97 105.29H537.48M534.97 105.29V106.56M534.97 106.56H535.59M534.97 106.56V108.32M534.97 108.32H535.26M534.97 108.32V113.60M535.26 108.32V113.60M535.59 106.56V108.35M535.55 108.35H536.80M535.55 108.35V109.80M535.55 109.80H536.50M535.55 109.80V110.45M535.55 110.45H535.85M535.55 110.45V113.60M535.85 110.45V111.46M535.85 111.46H536.20M535.85 111.46V112.02M535.85 112.02H536.02M535.85 112.02V113.60M536.02 112.02V113.60M536.20 111.46V113.60M536.50 109.80V113.60M536.80 108.35V110.08M536.80 110.08H537.18M536.80 110.08V111.37M536.80 111.37H536.99M536.80 111.37V113.60M536.99 111.37V113.60M537.18 110.08V113.60M537.48 105.29V113.60M537.78 98.20V98.96M537.78 98.96H539.91M537.78 98.96V99.81M537.78 99.81H539.50M537.78 99.81V104.88M537.78 104.88H538.21M537.78 104.88V105.49M537.78 105.49H537.96M537.78 105.49V113.60M537.96 105.49V113.60M538.21 104.88V105.82M538.13 105.82H538.99M538.13 105.82V107.01M538.13 107.01H538.43M538.13 107.01V113.60M538.43 107.01V108.13M538.43 108.13H538.71M538.43 108.13V113.60M538.71 108.13V113.60M538.99 105.82V106.15M538.99 106.15H539.24M538.99 106.15V113.60M539.24 106.15V113.60M539.50 99.81V108.77M539.50 108.77H539.70M539.50 108.77V113.60M539.70 108.77V113.60M539.91 98.96V107.22M539.91 107.22H540.10M539.91 107.22V113.60M540.10 107.22V113.60M540.30 96.95V97.34M540.30 97.34H541.74M540.30 97.34V98.85M540.30 98.85H541.31M540.30 98.85V103.89M540.30 103.89H540.60M540.30 103.89V113.60M540.60 103.89V108.53M540.60 108.53H540.90M540.60 108.53V113.60M540.90 108.53V109.54M540.90 109.54H541.11M540.90 109.54V113.60M541.11 109.54V113.60M541.31 98.85V107.25M541.31 107.25H541.53M541.31 107.25V113.60M541.53 107.25V113.60M541.74 97.34V113.60M542.04 93.82V103.18M542.04 103.18H542.44M542.04 103.18V107.45M542.04 107.45H542.22M542.04 107.45V113.60M542.22 107.45V113.60M542.44 103.18V107.49M542.40 107.49H543.33M542.40 107.49V107.99M542.40 107.99H542.89M542.40 107.99V108.57M542.40 108.57H542.64M542.40 108.57V113.60M542.64 108.57V113.60M542.89 107.99V109.20M542.89 109.20H543.11M542.89 109.20V113.60M543.11 109.20V113.60M543.33 107.49V113.60M543.69 92.83V94.08M543.63 94.08H546.73M543.63 94.08V100.58M543.63 100.58H545.60M543.63 100.58V108.39M543.63 108.39H544.12M543.63 108.39V113.60M544.12 108.39V110.12M543.93 110.12H544.54M543.93 110.12V113.60M544.54 110.12V110.56M544.23 110.56H544.88M544.23 110.56V111.87M544.23 111.87H544.42M544.23 111.87V113.60M544.42 111.87V113.60M544.88 110.56V110.97M544.63 110.97H545.13M544.63 110.97V113.60M545.13 110.97V112.65M544.96 112.65H545.30M544.96 112.65V112.97M544.91 112.97H545.10M544.91 112.97V113.60M545.10 112.97V113.60M545.30 112.65V113.60M545.60 100.58V113.60M546.73 94.08V95.89M545.90 95.89H549.20M545.90 95.89V105.37M545.90 105.37H546.17M545.90 105.37V113.60M546.17 105.37V113.60M549.20 95.89V96.53M546.86 96.53H555.17M546.86 96.53V96.89M546.44 96.89H549.05M546.44 96.89V108.60M546.44 108.60H546.62M546.44 108.60V113.60M546.62 108.60V113.60M549.05 96.89V98.41M546.95 98.41H551.14M546.95 98.41V105.97M546.80 105.97H547.69M546.80 105.97V107.95M546.80 107.95H547.16M546.80 107.95V110.86M546.80 110.86H546.98M546.80 110.86V113.60M546.98 110.86V113.60M547.16 107.95V110.76M547.16 110.76H547.43M547.16 110.76V113.60M547.43 110.76V113.60M547.69 105.97V113.60M551.14 98.41V98.80M549.35 98.80H554.03M549.35 98.80V105.48M548.01 105.48H553.50M548.01 105.48V107.38M548.01 107.38H549.38M548.01 107.38V108.79M548.01 108.79H548.55M548.01 108.79V110.92M548.01 110.92H548.28M548.01 110.92V113.60M548.28 110.92V113.60M548.55 108.79V113.60M549.38 107.38V108.70M548.85 108.70H550.54M548.85 108.70V109.92M548.85 109.92H549.19M548.85 109.92V111.91M548.85 111.91H549.02M548.85 111.91V113.60M549.02 111.91V113.60M549.19 109.92V110.92M549.19 110.92H549.49M549.19 110.92V113.60M549.49 110.92V113.60M550.54 108.70V109.79M549.79 109.79H552.88M549.79 109.79V110.75M549.79 110.75H552.16M549.79 110.75V112.55M549.79 112.55H550.38M549.79 112.55V113.00M549.79 113.00H549.98M549.79 113.00V113.60M549.98 113.00V113.60M550.38 112.55V113.00M550.18 113.00H551.86M550.18 113.00H551.56M550.18 113.00H550.52M550.18 113.00V113.60M550.48 113.00H550.89M550.48 113.00H550.69M550.48 113.00V113.60M550.69 113.00V113.60M550.89 113.00H551.26M550.89 113.00H551.08M550.89 113.00V113.60M551.08 113.00V113.60M551.26 113.00V113.60M551.56 113.00V113.60M551.86 113.00V113.60M552.16 110.75V111.59M552.16 111.59H552.58M552.16 111.59V112.96M552.16 112.96H552.37M552.16 112.96V113.60M552.37 112.96V113.60M552.58 111.59V113.60M552.88 109.79V110.37M552.88 110.37H553.20M552.88 110.37V112.29M552.88 112.29H553.04M552.88 112.29V113.60M553.04 112.29V113.60M553.20 110.37V113.60M553.50 105.48V110.30M553.50 110.30H553.76M553.50 110.30V113.60M553.76 110.30V113.60M554.03 98.80V107.23M554.03 107.23H554.33M554.03 107.23V113.60M554.33 107.23V107.88M554.33 107.88H554.63M554.33 107.88V113.60M554.63 107.88V109.33M554.63 109.33H554.90M554.63 109.33V113.60M554.90 109.33V113.60M555.17 96.53V109.02M555.17 109.02H555.48M555.17 109.02V113.60M555.48 109.02V113.60M555.78 91.50V92.89M555.78 92.89H564.03M555.78 92.89V104.60M555.78 104.60H561.94M555.78 104.60V105.70M555.78 105.70H558.38M555.78 105.70V106.27M555.78 106.27H557.43M555.78 106.27V108.01M555.78 108.01H556.19M555.78 108.01V113.60M556.19 108.01V108.76M556.08 108.76H557.13M556.08 108.76V109.51M556.08 109.51H556.38M556.08 109.51V113.60M556.38 109.51V110.74M556.38 110.74H556.68M556.38 110.74V113.60M556.68 110.74V111.34M556.68 111.34H556.90M556.68 111.34V113.60M556.90 111.34V113.60M557.13 108.76V113.60M557.43 106.27V107.24M557.43 107.24H558.08M557.43 107.24V108.80M557.43 108.80H557.73M557.43 108.80V113.60M557.73 108.80V109.42M557.73 109.42H557.91M557.73 109.42V113.60M557.91 109.42V113.60M558.08 107.24V113.60M558.38 105.70V106.47M558.38 106.47H559.68M558.38 106.47V107.15M558.38 107.15H559.38M558.38 107.15V108.78M558.38 108.78H558.68M558.38 108.78V113.60M558.68 108.78V109.93M558.68 109.93H559.08M558.68 109.93V111.73M558.68 111.73H558.88M558.68 111.73V113.60M558.88 111.73V113.60M559.08 109.93V113.60M559.38 107.15V113.60M559.68 106.47V108.22M559.68 108.22H560.24M559.68 108.22V113.60M560.24 108.22V109.39M559.98 109.39H561.64M559.98 109.39V110.84M559.98 110.84H560.39M559.98 110.84V113.60M560.39 110.84V111.51M560.28 111.51H561.26M560.28 111.51V112.57M560.28 112.57H560.58M560.28 112.57V113.60M560.58 112.57V113.00M560.58 113.00H560.91M560.58 113.00H560.75M560.58 113.00V113.60M560.75 113.00V113.60M560.91 113.00H561.09M560.91 113.00V113.60M561.09 113.00V113.60M561.26 111.51V112.81M561.26 112.81H561.45M561.26 112.81V113.60M561.45 112.81V113.60M561.64 109.39V113.60M561.94 104.60V105.96M561.94 105.96H563.73M561.94 105.96V106.94M561.94 106.94H562.97M561.94 106.94V108.82M561.94 108.82H562.24M561.94 108.82V113.60M562.24 108.82V111.14M562.24 111.14H562.56M562.24 111.14V112.49M562.24 112.49H562.40M562.24 112.49V113.60M562.40 112.49V113.60M562.56 111.14V111.76M562.56 111.76H562.76M562.56 111.76V113.60M562.76 111.76V113.60M562.97 106.94V108.60M562.97 108.60H563.43M562.97 108.60V110.22M562.97 110.22H563.20M562.97 110.22V113.60M563.20 110.22V113.60M563.43 108.60V113.60M563.73 105.96V113.60M564.03 92.89V103.15M564.03 103.15H565.40M564.03 103.15V110.74M564.03 110.74H564.25M564.03 110.74V113.60M564.25 110.74V113.60M565.40 103.15V103.56M564.47 103.56H569.03M564.47 103.56V105.30M564.47 105.30H565.61M564.47 105.30V108.63M564.47 108.63H564.77M564.47 108.63V113.60M564.77 108.63V109.70M564.77 109.70H565.00M564.77 109.70V113.60M565.00 109.70V113.60M565.61 105.30V105.65M565.24 105.65H566.56M565.24 105.65V106.38M565.24 106.38H565.45M565.24 106.38V113.60M565.45 106.38V113.60M566.56 105.65V106.61M565.72 106.61H568.52M565.72 106.61V107.18M565.66 107.18H566.43M565.66 107.18V108.39M565.66 108.39H565.94M565.66 108.39V113.60M565.94 108.39V113.60M566.43 107.18V107.53M566.22 107.53H567.51M566.22 107.53V108.41M566.22 108.41H567.16M566.22 108.41V109.05M566.22 109.05H566.52M566.22 109.05V113.60M566.52 109.05V110.92M566.52 110.92H566.82M566.52 110.92V113.60M566.82 110.92V112.68M566.82 112.68H566.99M566.82 112.68V113.60M566.99 112.68V113.60M567.16 108.41V109.31M567.16 109.31H567.33M567.16 109.31V113.60M567.33 109.31V113.60M567.51 107.53V108.78M567.51 108.78H568.22M567.51 108.78V109.49M567.51 109.49H567.81M567.51 109.49V113.60M567.81 109.49V110.87M567.81 110.87H568.01M567.81 110.87V113.60M568.01 110.87V113.60M568.22 108.78V113.60M568.52 106.61V110.52M568.52 110.52H568.78M568.52 110.52V113.60M568.78 110.52V113.60M569.03 103.56V109.57M569.03 109.57H569.27M569.03 109.57V113.60M569.27 109.57V113.60M570.62 85.50H572.70M570.62 85.50V86.61M569.82 86.61H571.42M569.82 86.61V100.74M569.70 100.74H569.95M569.70 100.74V113.60M569.95 100.74V113.60M571.42 86.61V87.78M570.51 87.78H572.10M570.51 87.78V104.89M570.26 104.89H570.51M570.26 104.89V113.60M570.51 104.89V113.60M572.10 87.78V89.14M570.81 89.14H572.65M570.81 89.14V113.60M572.65 89.14V100.98M571.59 100.98H572.70M571.59 100.98V101.32M571.11 101.32H571.59M571.11 101.32V113.60M571.59 101.32V107.60M571.35 107.60H571.59M571.35 107.60V113.60M571.59 107.60V113.60M572.70 100.98V102.69M571.89 102.69H572.70M571.89 102.69V113.60M572.70 102.69V109.13M572.19 109.13H572.70M572.19 109.13V113.60M572.70 109.13V110.41M572.45 110.41H572.70M572.45 110.41V113.60M572.70 110.41V113.60M572.70 85.50V113.60M573.91 84.50H580.80M573.91 84.50V93.38M573.30 93.38H573.91M573.30 93.38V113.60M573.91 93.38V106.12M573.60 106.12H573.91M573.60 106.12V113.60M573.91 106.12V113.60M580.80 84.50V85.46M579.08 85.46H580.80M579.08 85.46V86.81M575.13 86.81H580.22M575.13 86.81V96.52M574.21 96.52H575.13M574.21 96.52V113.60M575.13 96.52V97.63M574.83 97.63H575.13M574.83 97.63V105.34M574.51 105.34H574.83M574.51 105.34V113.60M574.83 105.34V107.15M574.67 107.15H574.83M574.67 107.15V113.60M574.83 107.15V113.60M575.13 97.63V113.60M580.22 86.81V102.22M575.97 102.22H580.22M575.97 102.22V102.58M575.43 102.58H575.97M575.43 102.58V113.60M575.97 102.58V106.99M575.70 106.99H575.97M575.70 106.99V113.60M575.97 106.99V113.60M580.22 102.22V103.10M576.27 103.10H580.22M576.27 103.10V113.60M580.22 103.10V104.68M576.87 104.68H580.22M576.87 104.68V106.66M576.57 106.66H576.87M576.57 106.66V113.60M576.87 106.66V113.60M580.22 104.68V106.15M579.38 106.15H580.22M579.38 106.15V106.60M577.33 106.60H579.84M577.33 106.60V108.02M577.10 108.02H577.33M577.10 108.02V113.60M577.33 108.02V113.60M579.84 106.60V107.01M577.83 107.01H579.84M577.83 107.01V107.50M577.58 107.50H577.83M577.58 107.50V113.60M577.83 107.50V113.60M579.84 107.01V108.48M578.16 108.48H579.84M578.16 108.48V109.30M578.00 109.30H578.16M578.00 109.30V113.60M578.16 109.30V113.60M579.84 108.48V109.54M578.59 109.54H579.84M578.59 109.54V110.50M578.37 110.50H578.59M578.37 110.50V113.60M578.59 110.50V113.60M579.84 109.54V110.19M578.89 110.19H579.84M578.89 110.19V113.60M579.84 110.19V110.76M579.19 110.76H579.84M579.19 110.76V113.60M579.84 110.76V112.48M579.49 112.48H579.84M579.49 112.48V113.60M579.84 112.48V112.93M579.66 112.93H579.84M579.66 112.93V113.60M579.84 112.93V113.60M580.22 106.15V107.50M580.03 107.50H580.22M580.03 107.50V113.60M580.22 107.50V113.60M580.80 85.46V104.95M580.51 104.95H580.80M580.51 104.95V113.60M580.80 104.95V113.60M581.82 88.50H591.71M581.82 88.50V89.69M580.80 89.69H588.96M580.80 89.69V93.75M580.80 93.75H582.96M580.80 93.75V104.88M580.80 104.88H582.66M580.80 104.88V105.93M580.80 105.93H581.67M580.80 105.93V107.44M580.80 107.44H581.10M580.80 107.44V113.60M581.10 107.44V108.49M581.10 108.49H581.38M581.10 108.49V113.60M581.38 108.49V113.60M581.67 105.93V107.04M581.67 107.04H582.13M581.67 107.04V107.47M581.67 107.47H581.90M581.67 107.47V113.60M581.90 107.47V113.60M582.13 107.04V108.53M582.13 108.53H582.39M582.13 108.53V113.60M582.39 108.53V113.60M582.66 104.88V113.60M582.96 93.75V94.85M582.96 94.85H584.65M582.96 94.85V97.04M582.96 97.04H584.35M582.96 97.04V108.74M582.96 108.74H583.44M582.96 108.74V109.39M582.96 109.39H583.20M582.96 109.39V113.60M583.20 109.39V113.60M583.44 108.74V109.24M583.44 109.24H584.05M583.44 109.24V110.71M583.44 110.71H583.75M583.44 110.71V113.60M583.75 110.71V113.60M584.05 109.24V113.60M584.35 97.04V113.60M584.65 94.85V95.30M584.65 95.30H588.20M584.65 95.30V97.20M584.65 97.20H585.54M584.65 97.20V108.57M584.65 108.57H584.81M584.65 108.57V113.60M584.81 108.57V113.60M585.54 97.20V100.25M584.98 100.25H587.88M584.98 100.25V101.09M584.98 101.09H585.70M584.98 101.09V113.60M585.70 101.09V102.21M585.28 102.21H586.35M585.28 102.21V103.96M585.28 103.96H586.00M585.28 103.96V109.84M585.28 109.84H585.58M585.28 109.84V113.60M585.58 109.84V110.83M585.58 110.83H585.79M585.58 110.83V113.60M585.79 110.83V113.60M586.00 103.96V113.60M586.35 102.21V103.49M586.30 103.49H586.92M586.30 103.49V107.36M586.30 107.36H586.60M586.30 107.36V113.60M586.60 107.36V108.62M586.60 108.62H586.76M586.60 108.62V113.60M586.76 108.62V113.60M586.92 103.49V105.24M586.92 105.24H587.33M586.92 105.24V105.77M586.92 105.77H587.13M586.92 105.77V113.60M587.13 105.77V113.60M587.33 105.24V110.88M587.33 110.88H587.61M587.33 110.88V113.60M587.61 110.88V113.60M587.88 100.25V109.90M587.88 109.90H588.04M587.88 109.90V113.60M588.04 109.90V113.60M588.20 95.30V99.32M588.20 99.32H588.66M588.20 99.32V101.57M588.20 101.57H588.43M588.20 101.57V113.60M588.43 101.57V113.60M588.66 99.32V113.60M588.96 89.69V93.03M588.96 93.03H589.65M588.96 93.03V108.19M588.96 108.19H589.22M588.96 108.19V113.60M589.22 108.19V113.60M589.65 93.03V106.07M589.47 106.07H590.59M589.47 106.07V107.28M589.47 107.28H589.97M589.47 107.28V109.39M589.47 109.39H589.72M589.47 109.39V113.60M589.72 109.39V113.60M589.97 107.28V109.04M589.97 109.04H590.29M589.97 109.04V109.70M589.97 109.70H590.13M589.97 109.70V113.60M590.13 109.70V113.60M590.29 109.04V113.60M590.59 106.07V107.26M590.59 107.26H591.00M590.59 107.26V109.07M590.59 109.07H590.79M590.59 109.07V113.60M590.79 109.07V113.60M591.00 107.26V111.23M591.00 111.23H591.41M591.00 111.23V112.80M591.00 112.80H591.20M591.00 112.80V113.60M591.20 112.80V113.60M591.41 111.23V113.60M591.71 88.50V89.80M591.71 89.80H593.58M591.71 89.80V100.61M591.71 100.61H592.66M591.71 100.61V105.35M591.71 105.35H592.05M591.71 105.35V110.19M591.71 110.19H591.88M591.71 110.19V113.60M591.88 110.19V113.60M592.05 105.35V109.15M592.05 109.15H592.35M592.05 109.15V113.60M592.35 109.15V113.60M592.66 100.61V108.54M592.66 108.54H592.96M592.66 108.54V113.60M592.96 108.54V109.92M592.96 109.92H593.28M592.96 109.92V110.33M592.96 110.33H593.12M592.96 110.33V113.60M593.12 110.33V113.60M593.28 109.92V113.60M593.58 89.80V91.94M593.58 91.94H595.20M593.58 91.94V105.10M593.58 105.10H593.99M593.58 105.10V113.60M593.99 105.10V106.59M593.88 106.59H594.32M593.88 106.59V108.19M593.88 108.19H594.06M593.88 108.19V113.60M594.06 108.19V113.60M594.32 106.59V107.56M594.24 107.56H594.90M594.24 107.56V111.66M594.24 111.66H594.56M594.24 111.66V112.11M594.24 112.11H594.40M594.24 112.11V113.60M594.40 112.11V113.60M594.56 111.66V112.24M594.56 112.24H594.73M594.56 112.24V113.60M594.73 112.24V113.60M594.90 107.56V113.60M595.20 91.94V113.60M595.62 84.50H597.38M595.62 84.50V85.75M595.50 85.75H596.64M595.50 85.75V104.11M595.50 104.11H595.80M595.50 104.11V113.60M595.80 104.11V105.20M595.80 105.20H596.34M595.80 105.20V106.46M595.80 106.46H596.07M595.80 106.46V113.60M596.07 106.46V113.60M596.34 105.20V113.60M596.64 85.75V94.35M596.64 94.35H596.93M596.64 94.35V113.60M596.93 94.35V113.60M597.38 84.50V84.89M597.23 84.89H598.70M597.23 84.89V101.39M597.23 101.39H597.59M597.23 101.39V113.60M597.59 101.39V102.56M597.53 102.56H598.33M597.53 102.56V103.18M597.53 103.18H597.83M597.53 103.18V113.60M597.83 103.18V104.88M597.83 104.88H598.08M597.83 104.88V113.60M598.08 104.88V113.60M598.33 102.56V104.54M598.33 104.54H598.51M598.33 104.54V113.60M598.51 104.54V113.60M598.70 84.89V113.60M605.00 90.50H614.00M605.00 90.50V91.34M601.71 91.34H608.29M601.71 91.34V92.05M599.71 92.05H606.34M599.71 92.05V93.25M599.00 93.25H602.57M599.00 93.25V101.39M599.00 101.39H601.42M599.00 101.39V104.02M599.00 104.02H600.98M599.00 104.02V104.47M599.00 104.47H599.49M599.00 104.47V113.60M599.49 104.47V105.28M599.30 105.28H600.49M599.30 105.28V105.72M599.30 105.72H600.19M599.30 105.72V107.33M599.30 107.33H599.60M599.30 107.33V113.60M599.60 107.33V107.75M599.60 107.75H599.90M599.60 107.75V113.60M599.90 107.75V113.60M600.19 105.72V113.60M600.49 105.28V109.79M600.49 109.79H600.74M600.49 109.79V113.60M600.74 109.79V113.60M600.98 104.02V106.33M600.98 106.33H601.20M600.98 106.33V113.60M601.20 106.33V113.60M601.42 101.39V107.16M601.42 107.16H602.27M601.42 107.16V111.00M601.42 111.00H601.82M601.42 111.00V112.52M601.42 112.52H601.62M601.42 112.52V113.60M601.62 112.52V113.60M601.82 111.00V111.63M601.82 111.63H602.04M601.82 111.63V113.60M602.04 111.63V113.60M602.27 107.16V113.60M602.57 93.25V100.39M602.57 100.39H605.79M602.57 100.39V102.24M602.57 102.24H603.75M602.57 102.24V105.53M602.57 105.53H603.45M602.57 105.53V107.45M602.57 107.45H603.10M602.57 107.45V109.35M602.57 109.35H602.83M602.57 109.35V113.60M602.83 109.35V113.60M603.10 107.45V107.77M603.10 107.77H603.28M603.10 107.77V113.60M603.28 107.77V113.60M603.45 105.53V113.60M603.75 102.24V102.60M603.75 102.60H605.47M603.75 102.60V107.83M603.75 107.83H605.07M603.75 107.83V109.58M603.75 109.58H604.77M603.75 109.58V110.99M603.75 110.99H604.47M603.75 110.99V112.22M603.75 112.22H604.05M603.75 112.22V113.60M604.05 112.22V113.00M604.05 113.00H604.26M604.05 113.00V113.60M604.26 113.00V113.60M604.47 110.99V113.60M604.77 109.58V113.60M605.07 107.83V109.63M605.07 109.63H605.27M605.07 109.63V113.60M605.27 109.63V113.60M605.47 102.60V104.46M605.47 104.46H605.63M605.47 104.46V113.60M605.63 104.46V113.60M605.79 100.39V107.60M605.79 107.60H606.06M605.79 107.60V113.60M606.06 107.60V113.60M606.34 92.05V106.27M606.34 106.27H606.64M606.34 106.27V113.60M606.64 106.27V111.09M606.64 111.09H606.82M606.64 111.09V113.60M606.82 111.09V113.60M608.29 91.34V92.97M607.01 92.97H610.15M607.01 92.97V94.80M607.01 94.80H609.57M607.01 94.80V102.88M607.01 102.88H608.25M607.01 102.88V109.39M607.01 109.39H607.49M607.01 109.39V109.91M607.01 109.91H607.25M607.01 109.91V113.60M607.25 109.91V113.60M607.49 109.39V111.25M607.49 111.25H607.95M607.49 111.25V112.44M607.49 112.44H607.72M607.49 112.44V113.60M607.72 112.44V113.60M607.95 111.25V113.60M608.25 102.88V103.53M608.25 103.53H609.27M608.25 103.53V105.33M608.25 105.33H608.55M608.25 105.33V113.60M608.55 105.33V106.14M608.55 106.14H608.97M608.55 106.14V108.57M608.55 108.57H608.76M608.55 108.57V113.60M608.76 108.57V113.60M608.97 106.14V113.60M609.27 103.53V113.60M609.57 94.80V107.53M609.57 107.53H609.86M609.57 107.53V113.60M609.86 107.53V113.60M610.15 92.97V105.10M610.15 105.10H611.84M610.15 105.10V108.36M610.15 108.36H611.54M610.15 108.36V109.02M610.15 109.02H610.85M610.15 109.02V110.94M610.15 110.94H610.55M610.15 110.94V112.26M610.15 112.26H610.35M610.15 112.26V113.60M610.35 112.26V113.60M610.55 110.94V113.60M610.85 109.02V110.18M610.85 110.18H611.20M610.85 110.18V111.28M610.85 111.28H611.03M610.85 111.28V113.60M611.03 111.28V113.60M611.20 110.18V111.06M611.20 111.06H611.37M611.20 111.06V113.60M611.37 111.06V113.60M611.54 108.36V113.60M611.84 105.10V113.60M614.00 90.50V98.07M612.79 98.07H615.21M612.79 98.07V104.49M612.51 104.49H613.06M612.51 104.49V107.37M612.35 107.37H612.67M612.35 107.37V113.60M612.67 107.37V110.13M612.59 110.13H612.76M612.59 110.13V113.60M612.76 110.13V113.60M613.06 104.49V105.93M612.95 105.93H613.18M612.95 105.93V113.60M613.18 105.93V113.60M615.21 98.07V98.56M614.00 98.56H616.15M614.00 98.56V103.29M613.55 103.29H614.00M613.55 103.29V113.60M614.00 103.29V109.31M613.78 109.31H614.00M613.78 109.31V113.60M614.00 109.31V113.60M616.15 98.56V99.76M615.29 99.76H616.90M615.29 99.76V106.99M614.67 106.99H615.29M614.67 106.99V109.71M614.30 109.71H614.67M614.30 109.71V113.60M614.67 109.71V110.13M614.48 110.13H614.67M614.48 110.13V113.60M614.67 110.13V113.60M615.29 106.99V109.54M614.99 109.54H615.29M614.99 109.54V110.63M614.83 110.63H614.99M614.83 110.63V113.60M614.99 110.63V113.60M615.29 109.54V113.60M616.90 99.76V102.00M616.33 102.00H617.00M616.33 102.00V108.59M615.95 108.59H616.33M615.95 108.59V110.14M615.59 110.14H615.95M615.59 110.14V113.60M615.95 110.14V111.02M615.77 111.02H615.95M615.77 111.02V113.60M615.95 111.02V113.60M616.33 108.59V109.51M616.14 109.51H616.33M616.14 109.51V113.60M616.33 109.51V113.60M617.00 102.00V108.80M616.70 108.80H617.00M616.70 108.80V109.99M616.52 109.99H616.70M616.52 109.99V113.60M616.70 109.99V113.60M617.00 108.80V113.60M617.85 86.50H623.00M617.85 86.50V104.58M617.33 104.58H617.85M617.33 104.58V105.85M617.17 105.85H617.33M617.17 105.85V113.60M617.33 105.85V113.60M617.85 104.58V110.29M617.59 110.29H617.85M617.59 110.29V113.60M617.85 110.29V113.60M623.00 86.50V99.19M620.20 99.19H625.29M620.20 99.19V100.74M618.28 100.74H620.20M618.28 100.74V105.77M618.07 105.77H618.28M618.07 105.77V113.60M618.28 105.77V113.60M620.20 100.74V101.29M618.58 101.29H620.20M618.58 101.29V113.60M620.20 101.29V104.23M618.88 104.23H620.20M618.88 104.23V113.60M620.20 104.23V110.11M619.18 110.11H620.20M619.18 110.11V113.60M620.20 110.11V110.44M619.48 110.44H620.20M619.48 110.44V113.60M620.20 110.44V111.35M619.90 111.35H620.20M619.90 111.35V112.20M619.69 112.20H619.90M619.69 112.20V113.60M619.90 112.20V113.60M620.20 111.35V113.60M625.29 99.19V99.86M620.88 99.86H626.99M620.88 99.86V109.02M620.58 109.02H620.88M620.58 109.02V110.77M620.39 110.77H620.58M620.39 110.77V113.60M620.58 110.77V113.60M620.88 109.02V113.60M626.99 99.86V105.44M623.69 105.44H627.00M623.69 105.44V107.24M621.37 107.24H623.69M621.37 107.24V108.74M621.13 108.74H621.37M621.13 108.74V113.60M621.37 108.74V113.60M623.69 107.24V108.64M623.11 108.64H623.69M623.11 108.64V109.64M622.61 109.64H623.39M622.61 109.64V110.93M621.67 110.93H623.04M621.67 110.93V113.60M623.04 110.93V111.68M621.97 111.68H623.09M621.97 111.68V113.60M623.09 111.68V112.53M622.27 112.53H623.09M622.27 112.53V113.60M623.09 112.53V113.00M622.79 113.00H623.09M622.53 113.00H622.79M622.53 113.00V113.60M622.79 113.00V113.60M623.09 113.00V113.60M623.39 109.64V113.60M623.69 108.64V113.60M627.00 105.44V106.41M626.17 106.41H627.00M626.17 106.41V108.87M623.99 108.87H626.48M623.99 108.87V113.60M626.48 108.87V110.20M625.86 110.20H626.48M625.86 110.20V111.26M625.35 111.26H626.03M625.35 111.26V112.00M624.80 112.00H625.59M624.80 112.00V113.00M624.50 113.00H624.80M624.25 113.00H624.50M624.25 113.00V113.60M624.50 113.00V113.60M624.80 113.00V113.60M625.59 112.00V113.00M625.29 113.00H625.59M625.04 113.00H625.29M625.04 113.00V113.60M625.29 113.00V113.60M625.59 113.00V113.60M626.03 111.26V112.89M625.81 112.89H626.03M625.81 112.89V113.60M626.03 112.89V113.60M626.48 110.20V111.13M626.26 111.13H626.48M626.26 111.13V113.60M626.48 111.13V113.60M627.00 106.41V111.12M626.74 111.12H627.00M626.74 111.12V113.60M627.00 111.12V113.60" stroke="#000" stroke-width="0.7" fill="none"/>
</svg>
</body></html>
